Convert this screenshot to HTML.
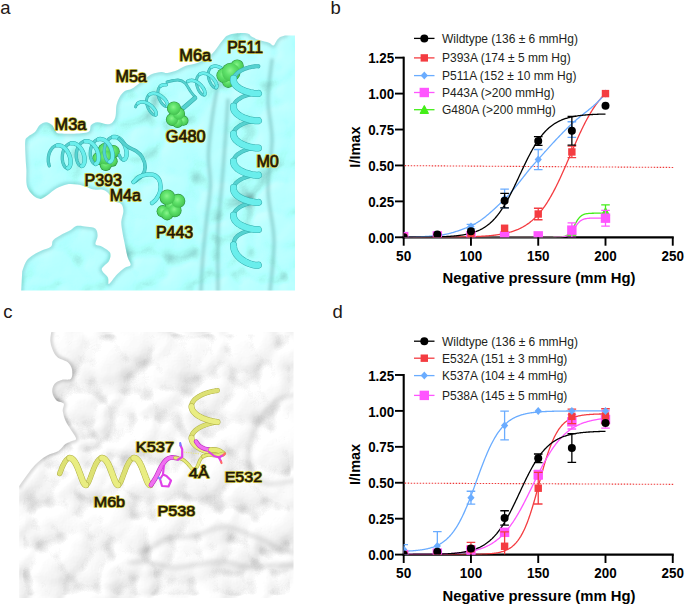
<!DOCTYPE html>
<html><head><meta charset="utf-8"><style>
html,body{margin:0;padding:0;background:#fff;width:685px;height:605px;overflow:hidden}
svg{display:block}
</style></head><body>
<svg width="685" height="605" viewBox="0 0 685 605" font-family='"Liberation Sans", sans-serif'>
<rect width="685" height="605" fill="#fff"/>
<defs>
<radialGradient id="gs" cx="0.45" cy="0.4" r="0.65"><stop offset="0" stop-color="#8af58c"/><stop offset="0.4" stop-color="#5fe26a"/><stop offset="0.85" stop-color="#48c854"/><stop offset="1" stop-color="#35a842"/></radialGradient>
<radialGradient id="ga" cx="0.42" cy="0.38" r="0.62"><stop offset="0" stop-color="#c2fffb"/><stop offset="0.55" stop-color="#b0fdf7"/><stop offset="0.82" stop-color="#a8f6f0"/><stop offset="0.94" stop-color="#9ee4e0"/><stop offset="1" stop-color="#8ccfcc"/></radialGradient>
<filter id="blA" x="-20%" y="-20%" width="140%" height="140%"><feGaussianBlur stdDeviation="1.8"/></filter>
<filter id="blA2" x="-20%" y="-20%" width="140%" height="140%"><feGaussianBlur stdDeviation="3"/></filter>
<clipPath id="clipA"><path id="silA" d="M295,35.5 L295,290.5 L21.2,290.5 L22.2,271.2C22.9,269.5 24.5,263.6 26.4,260.9C28.3,258.1 31.0,256.4 33.6,254.7C36.2,253.0 38.9,251.9 41.8,250.5C44.7,249.1 49.2,248.1 51.1,246.4C53.0,244.7 51.3,242.3 53.2,240.2C55.1,238.1 59.6,235.7 62.5,234.0C65.4,232.3 68.4,231.3 70.8,229.9C73.2,228.5 74.2,226.3 77.0,225.8C79.8,225.3 84.2,226.3 87.3,226.8C90.4,227.3 93.8,227.2 95.5,228.8C97.2,230.4 97.6,233.5 97.6,236.1C97.6,238.7 94.8,242.6 95.5,244.3C96.2,246.0 99.3,245.0 101.7,246.4C104.1,247.8 108.8,250.2 110.0,252.6C111.2,255.0 110.4,258.1 109.0,260.9C107.6,263.6 101.9,266.4 101.7,269.1C101.5,271.9 106.7,274.9 107.9,277.4C109.1,279.9 107.6,284.4 109.0,284.0C110.4,283.6 113.6,278.0 116.2,275.3C118.8,272.6 122.0,269.7 124.4,268.0C126.8,266.3 130.1,266.9 130.6,265.0C131.1,263.1 128.5,260.5 127.5,256.7C126.5,252.9 125.2,246.4 124.4,242.3C123.6,238.2 122.9,235.4 122.4,232.0C121.9,228.6 121.1,225.0 121.3,221.6C121.5,218.2 123.4,214.2 123.4,211.3C123.4,208.4 122.8,205.7 121.3,204.0C119.8,202.3 116.3,202.9 114.1,201.0C111.9,199.1 110.0,194.6 107.9,192.7C105.8,190.8 104.1,190.1 101.7,189.6C99.3,189.1 96.2,190.1 93.5,189.6C90.8,189.1 88.0,187.3 85.2,186.5C82.5,185.7 80.1,184.8 77.0,184.5C73.9,184.2 70.0,183.8 66.6,184.5C63.1,185.2 59.4,186.9 56.3,188.6C53.2,190.3 50.6,193.1 48.0,194.8C45.4,196.5 43.2,198.7 40.8,198.9C38.4,199.1 35.7,197.4 33.6,195.8C31.5,194.2 29.6,191.8 28.4,189.6C27.2,187.4 26.7,185.7 26.4,182.4C26.1,179.1 26.5,173.7 26.4,170.0C26.3,166.3 25.9,164.8 25.7,160.0C25.5,155.2 24.8,145.4 25.2,141.5C25.6,137.6 26.4,138.4 28.0,136.8C29.6,135.2 33.0,134.1 35.0,132.1C37.0,130.1 37.9,126.7 39.7,125.1C41.6,123.5 44.0,122.3 46.1,122.3C48.2,122.3 50.8,123.9 52.3,125.3C53.8,126.7 53.9,129.0 55.3,130.4C56.6,131.8 55.1,133.2 60.4,133.5C65.7,133.8 81.9,133.9 87.0,132.5C92.1,131.1 89.3,127.0 91.0,125.3C92.7,123.6 94.5,122.5 97.2,122.3C99.9,122.1 104.8,124.3 107.4,124.3C110.0,124.3 111.2,123.7 112.6,122.3C114.0,120.9 115.0,118.9 115.6,116.1C116.2,113.3 115.8,108.7 116.4,105.6C117.0,102.5 118.1,99.8 119.4,97.4C120.8,95.0 122.6,92.7 124.5,91.3C126.4,89.9 128.6,90.3 130.7,89.3C132.8,88.3 134.2,87.1 136.8,85.2C139.4,83.3 143.4,79.9 146.0,78.0C148.6,76.1 149.5,74.9 152.1,73.9C154.7,72.9 158.8,72.1 161.3,71.9C163.9,71.7 164.7,73.2 167.4,72.9C170.1,72.6 174.6,71.1 177.7,69.9C180.8,68.7 182.4,67.0 185.8,65.8C189.2,64.6 193.8,64.6 198.1,62.7C202.4,60.8 207.3,58.2 211.4,54.5C215.5,50.8 219.7,43.5 222.6,40.2C225.5,36.9 225.6,36.1 228.8,34.9C232.0,33.7 238.6,33.2 241.9,33.1C245.2,33.0 247.3,33.4 248.9,34.0C250.5,34.6 249.8,35.6 251.5,36.6C253.2,37.6 256.5,39.1 259.4,40.1C262.3,41.1 266.6,41.9 269.0,42.8C271.4,43.7 272.2,46.0 273.5,45.5C274.8,45.0 275.9,41.4 277.0,40.0C278.1,38.6 279.5,37.5 280.0,37.0 L285,35.5 Z"/></clipPath>
</defs>
<defs>
<radialGradient id="sahb"><stop offset="0" stop-color="#fff" stop-opacity="0.45"/><stop offset="0.5" stop-color="#fff" stop-opacity="0.392"/><stop offset="0.8" stop-color="#fff" stop-opacity="0.270"/><stop offset="1" stop-color="#fff" stop-opacity="0"/></radialGradient>
<radialGradient id="sahs"><stop offset="0" stop-color="#fff" stop-opacity="0.08"/><stop offset="0.5" stop-color="#fff" stop-opacity="0.070"/><stop offset="0.8" stop-color="#fff" stop-opacity="0.048"/><stop offset="1" stop-color="#fff" stop-opacity="0"/></radialGradient>
<clipPath id="saclip"><path d="M295,35.5 L295,290.5 L21.2,290.5 L22.2,271.2C22.9,269.5 24.5,263.6 26.4,260.9C28.3,258.1 31.0,256.4 33.6,254.7C36.2,253.0 38.9,251.9 41.8,250.5C44.7,249.1 49.2,248.1 51.1,246.4C53.0,244.7 51.3,242.3 53.2,240.2C55.1,238.1 59.6,235.7 62.5,234.0C65.4,232.3 68.4,231.3 70.8,229.9C73.2,228.5 74.2,226.3 77.0,225.8C79.8,225.3 84.2,226.3 87.3,226.8C90.4,227.3 93.8,227.2 95.5,228.8C97.2,230.4 97.6,233.5 97.6,236.1C97.6,238.7 94.8,242.6 95.5,244.3C96.2,246.0 99.3,245.0 101.7,246.4C104.1,247.8 108.8,250.2 110.0,252.6C111.2,255.0 110.4,258.1 109.0,260.9C107.6,263.6 101.9,266.4 101.7,269.1C101.5,271.9 106.7,274.9 107.9,277.4C109.1,279.9 107.6,284.4 109.0,284.0C110.4,283.6 113.6,278.0 116.2,275.3C118.8,272.6 122.0,269.7 124.4,268.0C126.8,266.3 130.1,266.9 130.6,265.0C131.1,263.1 128.5,260.5 127.5,256.7C126.5,252.9 125.2,246.4 124.4,242.3C123.6,238.2 122.9,235.4 122.4,232.0C121.9,228.6 121.1,225.0 121.3,221.6C121.5,218.2 123.4,214.2 123.4,211.3C123.4,208.4 122.8,205.7 121.3,204.0C119.8,202.3 116.3,202.9 114.1,201.0C111.9,199.1 110.0,194.6 107.9,192.7C105.8,190.8 104.1,190.1 101.7,189.6C99.3,189.1 96.2,190.1 93.5,189.6C90.8,189.1 88.0,187.3 85.2,186.5C82.5,185.7 80.1,184.8 77.0,184.5C73.9,184.2 70.0,183.8 66.6,184.5C63.1,185.2 59.4,186.9 56.3,188.6C53.2,190.3 50.6,193.1 48.0,194.8C45.4,196.5 43.2,198.7 40.8,198.9C38.4,199.1 35.7,197.4 33.6,195.8C31.5,194.2 29.6,191.8 28.4,189.6C27.2,187.4 26.7,185.7 26.4,182.4C26.1,179.1 26.5,173.7 26.4,170.0C26.3,166.3 25.9,164.8 25.7,160.0C25.5,155.2 24.8,145.4 25.2,141.5C25.6,137.6 26.4,138.4 28.0,136.8C29.6,135.2 33.0,134.1 35.0,132.1C37.0,130.1 37.9,126.7 39.7,125.1C41.6,123.5 44.0,122.3 46.1,122.3C48.2,122.3 50.8,123.9 52.3,125.3C53.8,126.7 53.9,129.0 55.3,130.4C56.6,131.8 55.1,133.2 60.4,133.5C65.7,133.8 81.9,133.9 87.0,132.5C92.1,131.1 89.3,127.0 91.0,125.3C92.7,123.6 94.5,122.5 97.2,122.3C99.9,122.1 104.8,124.3 107.4,124.3C110.0,124.3 111.2,123.7 112.6,122.3C114.0,120.9 115.0,118.9 115.6,116.1C116.2,113.3 115.8,108.7 116.4,105.6C117.0,102.5 118.1,99.8 119.4,97.4C120.8,95.0 122.6,92.7 124.5,91.3C126.4,89.9 128.6,90.3 130.7,89.3C132.8,88.3 134.2,87.1 136.8,85.2C139.4,83.3 143.4,79.9 146.0,78.0C148.6,76.1 149.5,74.9 152.1,73.9C154.7,72.9 158.8,72.1 161.3,71.9C163.9,71.7 164.7,73.2 167.4,72.9C170.1,72.6 174.6,71.1 177.7,69.9C180.8,68.7 182.4,67.0 185.8,65.8C189.2,64.6 193.8,64.6 198.1,62.7C202.4,60.8 207.3,58.2 211.4,54.5C215.5,50.8 219.7,43.5 222.6,40.2C225.5,36.9 225.6,36.1 228.8,34.9C232.0,33.7 238.6,33.2 241.9,33.1C245.2,33.0 247.3,33.4 248.9,34.0C250.5,34.6 249.8,35.6 251.5,36.6C253.2,37.6 256.5,39.1 259.4,40.1C262.3,41.1 266.6,41.9 269.0,42.8C271.4,43.7 272.2,46.0 273.5,45.5C274.8,45.0 275.9,41.4 277.0,40.0C278.1,38.6 279.5,37.5 280.0,37.0 L285,35.5 Z"/></clipPath>
<filter id="salit" filterUnits="userSpaceOnUse" x="18" y="30" width="280" height="264" color-interpolation-filters="sRGB"><feGaussianBlur in="SourceAlpha" stdDeviation="2.6" result="ha"/><feDiffuseLighting in="ha" surfaceScale="5" diffuseConstant="1.12" lighting-color="#fff" result="lit"><feDistantLight azimuth="225" elevation="65"/></feDiffuseLighting><feColorMatrix in="ha" type="matrix" values="0 0 0 1 0  0 0 0 1 0  0 0 0 1 0  0 0 0 0 1" result="h"/><feGaussianBlur in="h" stdDeviation="5" result="hb"/><feComposite in="hb" in2="h" operator="arithmetic" k1="0" k2="3.0" k3="-3.0" k4="0" result="ao"/><feComposite in="lit" in2="ao" operator="arithmetic" k1="0" k2="1" k3="-1" k4="0" result="base"/><feColorMatrix in="base" type="matrix" values="0.655 0 0 0 0  0 1 0 0 0  0 0 0.975 0 0  0 0 0 1 0" result="tinted"/><feSpecularLighting in="ha" surfaceScale="5" specularConstant="0.14" specularExponent="16" lighting-color="#fff" result="sp"><feDistantLight azimuth="225" elevation="55"/></feSpecularLighting><feComposite in="tinted" in2="sp" operator="arithmetic" k1="0" k2="1" k3="1" k4="0"/></filter>
</defs>
<g clip-path="url(#saclip)"><g filter="url(#salit)">
<path d="M315,15 L315,310 L0,310 L0,290.5 L21.2,290.5 L22.2,271.2C22.9,269.5 24.5,263.6 26.4,260.9C28.3,258.1 31.0,256.4 33.6,254.7C36.2,253.0 38.9,251.9 41.8,250.5C44.7,249.1 49.2,248.1 51.1,246.4C53.0,244.7 51.3,242.3 53.2,240.2C55.1,238.1 59.6,235.7 62.5,234.0C65.4,232.3 68.4,231.3 70.8,229.9C73.2,228.5 74.2,226.3 77.0,225.8C79.8,225.3 84.2,226.3 87.3,226.8C90.4,227.3 93.8,227.2 95.5,228.8C97.2,230.4 97.6,233.5 97.6,236.1C97.6,238.7 94.8,242.6 95.5,244.3C96.2,246.0 99.3,245.0 101.7,246.4C104.1,247.8 108.8,250.2 110.0,252.6C111.2,255.0 110.4,258.1 109.0,260.9C107.6,263.6 101.9,266.4 101.7,269.1C101.5,271.9 106.7,274.9 107.9,277.4C109.1,279.9 107.6,284.4 109.0,284.0C110.4,283.6 113.6,278.0 116.2,275.3C118.8,272.6 122.0,269.7 124.4,268.0C126.8,266.3 130.1,266.9 130.6,265.0C131.1,263.1 128.5,260.5 127.5,256.7C126.5,252.9 125.2,246.4 124.4,242.3C123.6,238.2 122.9,235.4 122.4,232.0C121.9,228.6 121.1,225.0 121.3,221.6C121.5,218.2 123.4,214.2 123.4,211.3C123.4,208.4 122.8,205.7 121.3,204.0C119.8,202.3 116.3,202.9 114.1,201.0C111.9,199.1 110.0,194.6 107.9,192.7C105.8,190.8 104.1,190.1 101.7,189.6C99.3,189.1 96.2,190.1 93.5,189.6C90.8,189.1 88.0,187.3 85.2,186.5C82.5,185.7 80.1,184.8 77.0,184.5C73.9,184.2 70.0,183.8 66.6,184.5C63.1,185.2 59.4,186.9 56.3,188.6C53.2,190.3 50.6,193.1 48.0,194.8C45.4,196.5 43.2,198.7 40.8,198.9C38.4,199.1 35.7,197.4 33.6,195.8C31.5,194.2 29.6,191.8 28.4,189.6C27.2,187.4 26.7,185.7 26.4,182.4C26.1,179.1 26.5,173.7 26.4,170.0C26.3,166.3 25.9,164.8 25.7,160.0C25.5,155.2 24.8,145.4 25.2,141.5C25.6,137.6 26.4,138.4 28.0,136.8C29.6,135.2 33.0,134.1 35.0,132.1C37.0,130.1 37.9,126.7 39.7,125.1C41.6,123.5 44.0,122.3 46.1,122.3C48.2,122.3 50.8,123.9 52.3,125.3C53.8,126.7 53.9,129.0 55.3,130.4C56.6,131.8 55.1,133.2 60.4,133.5C65.7,133.8 81.9,133.9 87.0,132.5C92.1,131.1 89.3,127.0 91.0,125.3C92.7,123.6 94.5,122.5 97.2,122.3C99.9,122.1 104.8,124.3 107.4,124.3C110.0,124.3 111.2,123.7 112.6,122.3C114.0,120.9 115.0,118.9 115.6,116.1C116.2,113.3 115.8,108.7 116.4,105.6C117.0,102.5 118.1,99.8 119.4,97.4C120.8,95.0 122.6,92.7 124.5,91.3C126.4,89.9 128.6,90.3 130.7,89.3C132.8,88.3 134.2,87.1 136.8,85.2C139.4,83.3 143.4,79.9 146.0,78.0C148.6,76.1 149.5,74.9 152.1,73.9C154.7,72.9 158.8,72.1 161.3,71.9C163.9,71.7 164.7,73.2 167.4,72.9C170.1,72.6 174.6,71.1 177.7,69.9C180.8,68.7 182.4,67.0 185.8,65.8C189.2,64.6 193.8,64.6 198.1,62.7C202.4,60.8 207.3,58.2 211.4,54.5C215.5,50.8 219.7,43.5 222.6,40.2C225.5,36.9 225.6,36.1 228.8,34.9C232.0,33.7 238.6,33.2 241.9,33.1C245.2,33.0 247.3,33.4 248.9,34.0C250.5,34.6 249.8,35.6 251.5,36.6C253.2,37.6 256.5,39.1 259.4,40.1C262.3,41.1 266.6,41.9 269.0,42.8C271.4,43.7 272.2,46.0 273.5,45.5C274.8,45.0 275.9,41.4 277.0,40.0C278.1,38.6 279.5,37.5 280.0,37.0 L285,35.5 L300,15 Z" fill="#fff" fill-opacity="0.12"/>
<circle cx="-7.1" cy="1.7" r="43.2" fill="url(#sahb)"/>
<circle cx="39.3" cy="2.1" r="45.4" fill="url(#sahb)"/>
<circle cx="79.8" cy="0.5" r="33.2" fill="url(#sahb)"/>
<circle cx="141.0" cy="-1.2" r="29.5" fill="url(#sahb)"/>
<circle cx="188.1" cy="4.9" r="28.9" fill="url(#sahb)"/>
<circle cx="234.0" cy="-0.1" r="41.5" fill="url(#sahb)"/>
<circle cx="295.0" cy="0.4" r="30.5" fill="url(#sahb)"/>
<circle cx="-9.6" cy="49.7" r="48.4" fill="url(#sahb)"/>
<circle cx="34.1" cy="43.5" r="38.7" fill="url(#sahb)"/>
<circle cx="98.5" cy="45.6" r="33.2" fill="url(#sahb)"/>
<circle cx="157.6" cy="52.2" r="47.7" fill="url(#sahb)"/>
<circle cx="201.6" cy="48.8" r="44.1" fill="url(#sahb)"/>
<circle cx="267.8" cy="53.7" r="32.4" fill="url(#sahb)"/>
<circle cx="310.3" cy="47.7" r="36.0" fill="url(#sahb)"/>
<circle cx="-7.2" cy="95.2" r="30.1" fill="url(#sahb)"/>
<circle cx="40.7" cy="92.2" r="38.8" fill="url(#sahb)"/>
<circle cx="85.3" cy="90.7" r="41.4" fill="url(#sahb)"/>
<circle cx="126.4" cy="94.4" r="31.7" fill="url(#sahb)"/>
<circle cx="172.8" cy="84.5" r="41.1" fill="url(#sahb)"/>
<circle cx="219.8" cy="87.8" r="45.9" fill="url(#sahb)"/>
<circle cx="274.9" cy="94.8" r="42.9" fill="url(#sahb)"/>
<circle cx="323.8" cy="90.4" r="49.8" fill="url(#sahb)"/>
<circle cx="-2.5" cy="127.1" r="33.4" fill="url(#sahb)"/>
<circle cx="37.7" cy="130.9" r="45.7" fill="url(#sahb)"/>
<circle cx="88.2" cy="128.6" r="29.1" fill="url(#sahb)"/>
<circle cx="134.4" cy="129.2" r="31.8" fill="url(#sahb)"/>
<circle cx="200.5" cy="130.9" r="49.6" fill="url(#sahb)"/>
<circle cx="242.9" cy="133.9" r="49.1" fill="url(#sahb)"/>
<circle cx="287.2" cy="134.7" r="32.7" fill="url(#sahb)"/>
<circle cx="-2.4" cy="172.4" r="40.8" fill="url(#sahb)"/>
<circle cx="47.3" cy="168.9" r="34.1" fill="url(#sahb)"/>
<circle cx="92.1" cy="175.9" r="49.0" fill="url(#sahb)"/>
<circle cx="151.7" cy="171.8" r="46.7" fill="url(#sahb)"/>
<circle cx="203.7" cy="170.3" r="49.1" fill="url(#sahb)"/>
<circle cx="235.0" cy="174.1" r="30.1" fill="url(#sahb)"/>
<circle cx="285.4" cy="170.3" r="47.1" fill="url(#sahb)"/>
<circle cx="-10.1" cy="210.1" r="32.8" fill="url(#sahb)"/>
<circle cx="42.1" cy="208.5" r="43.6" fill="url(#sahb)"/>
<circle cx="99.0" cy="217.4" r="47.2" fill="url(#sahb)"/>
<circle cx="130.6" cy="217.1" r="38.2" fill="url(#sahb)"/>
<circle cx="176.4" cy="216.3" r="43.7" fill="url(#sahb)"/>
<circle cx="224.3" cy="211.6" r="28.9" fill="url(#sahb)"/>
<circle cx="283.7" cy="214.5" r="34.5" fill="url(#sahb)"/>
<circle cx="-2.4" cy="255.1" r="39.2" fill="url(#sahb)"/>
<circle cx="41.3" cy="250.2" r="43.4" fill="url(#sahb)"/>
<circle cx="88.0" cy="247.8" r="45.9" fill="url(#sahb)"/>
<circle cx="123.9" cy="244.4" r="49.9" fill="url(#sahb)"/>
<circle cx="173.2" cy="248.9" r="45.9" fill="url(#sahb)"/>
<circle cx="224.3" cy="248.8" r="28.4" fill="url(#sahb)"/>
<circle cx="271.7" cy="246.2" r="36.6" fill="url(#sahb)"/>
<circle cx="310.8" cy="252.0" r="37.5" fill="url(#sahb)"/>
<circle cx="-7.7" cy="294.9" r="33.2" fill="url(#sahb)"/>
<circle cx="41.3" cy="294.8" r="49.2" fill="url(#sahb)"/>
<circle cx="100.8" cy="298.4" r="43.8" fill="url(#sahb)"/>
<circle cx="150.7" cy="299.4" r="44.7" fill="url(#sahb)"/>
<circle cx="199.6" cy="300.1" r="43.0" fill="url(#sahb)"/>
<circle cx="254.3" cy="300.7" r="41.5" fill="url(#sahb)"/>
<circle cx="307.9" cy="292.8" r="28.1" fill="url(#sahb)"/>
<circle cx="2.1" cy="-3.0" r="17.6" fill="url(#sahs)"/>
<circle cx="19.7" cy="-2.4" r="13.4" fill="url(#sahs)"/>
<circle cx="33.9" cy="1.5" r="13.6" fill="url(#sahs)"/>
<circle cx="56.0" cy="1.1" r="10.7" fill="url(#sahs)"/>
<circle cx="72.9" cy="-3.3" r="15.9" fill="url(#sahs)"/>
<circle cx="100.3" cy="3.5" r="14.7" fill="url(#sahs)"/>
<circle cx="127.3" cy="0.4" r="12.9" fill="url(#sahs)"/>
<circle cx="143.6" cy="-3.0" r="15.3" fill="url(#sahs)"/>
<circle cx="167.7" cy="1.4" r="15.7" fill="url(#sahs)"/>
<circle cx="185.2" cy="-0.1" r="11.5" fill="url(#sahs)"/>
<circle cx="208.6" cy="-2.8" r="11.6" fill="url(#sahs)"/>
<circle cx="230.5" cy="5.8" r="12.2" fill="url(#sahs)"/>
<circle cx="246.4" cy="-0.3" r="13.0" fill="url(#sahs)"/>
<circle cx="269.8" cy="-2.7" r="14.4" fill="url(#sahs)"/>
<circle cx="300.4" cy="-1.1" r="15.7" fill="url(#sahs)"/>
<circle cx="319.1" cy="7.3" r="17.3" fill="url(#sahs)"/>
<circle cx="-15.3" cy="27.5" r="13.3" fill="url(#sahs)"/>
<circle cx="17.0" cy="29.2" r="17.8" fill="url(#sahs)"/>
<circle cx="37.7" cy="22.0" r="17.9" fill="url(#sahs)"/>
<circle cx="56.8" cy="18.7" r="13.0" fill="url(#sahs)"/>
<circle cx="86.3" cy="29.2" r="11.6" fill="url(#sahs)"/>
<circle cx="99.6" cy="19.8" r="10.8" fill="url(#sahs)"/>
<circle cx="117.7" cy="22.9" r="16.5" fill="url(#sahs)"/>
<circle cx="143.8" cy="28.5" r="13.6" fill="url(#sahs)"/>
<circle cx="172.1" cy="22.8" r="17.2" fill="url(#sahs)"/>
<circle cx="194.5" cy="20.7" r="16.6" fill="url(#sahs)"/>
<circle cx="215.0" cy="24.5" r="13.3" fill="url(#sahs)"/>
<circle cx="228.5" cy="25.4" r="16.6" fill="url(#sahs)"/>
<circle cx="256.6" cy="20.8" r="14.5" fill="url(#sahs)"/>
<circle cx="278.8" cy="24.3" r="10.6" fill="url(#sahs)"/>
<circle cx="296.1" cy="23.2" r="14.5" fill="url(#sahs)"/>
<circle cx="318.1" cy="27.2" r="10.0" fill="url(#sahs)"/>
<circle cx="-12.3" cy="44.1" r="15.4" fill="url(#sahs)"/>
<circle cx="14.2" cy="44.5" r="10.7" fill="url(#sahs)"/>
<circle cx="35.4" cy="45.1" r="14.3" fill="url(#sahs)"/>
<circle cx="48.8" cy="49.3" r="17.2" fill="url(#sahs)"/>
<circle cx="81.7" cy="46.8" r="14.0" fill="url(#sahs)"/>
<circle cx="98.2" cy="42.9" r="12.3" fill="url(#sahs)"/>
<circle cx="117.5" cy="43.4" r="17.7" fill="url(#sahs)"/>
<circle cx="139.4" cy="45.4" r="16.5" fill="url(#sahs)"/>
<circle cx="153.2" cy="41.3" r="12.2" fill="url(#sahs)"/>
<circle cx="176.8" cy="40.1" r="16.8" fill="url(#sahs)"/>
<circle cx="198.2" cy="44.0" r="11.0" fill="url(#sahs)"/>
<circle cx="226.2" cy="41.7" r="12.1" fill="url(#sahs)"/>
<circle cx="242.4" cy="48.4" r="15.1" fill="url(#sahs)"/>
<circle cx="262.4" cy="48.8" r="12.9" fill="url(#sahs)"/>
<circle cx="282.3" cy="46.9" r="15.9" fill="url(#sahs)"/>
<circle cx="307.4" cy="46.6" r="10.6" fill="url(#sahs)"/>
<circle cx="325.1" cy="40.9" r="17.8" fill="url(#sahs)"/>
<circle cx="-9.3" cy="66.1" r="15.9" fill="url(#sahs)"/>
<circle cx="16.7" cy="64.9" r="16.2" fill="url(#sahs)"/>
<circle cx="30.3" cy="58.7" r="12.6" fill="url(#sahs)"/>
<circle cx="58.4" cy="61.4" r="11.6" fill="url(#sahs)"/>
<circle cx="85.8" cy="62.9" r="14.3" fill="url(#sahs)"/>
<circle cx="104.0" cy="68.7" r="15.2" fill="url(#sahs)"/>
<circle cx="126.0" cy="69.4" r="17.1" fill="url(#sahs)"/>
<circle cx="140.8" cy="67.6" r="13.0" fill="url(#sahs)"/>
<circle cx="156.6" cy="66.7" r="13.2" fill="url(#sahs)"/>
<circle cx="174.1" cy="58.3" r="11.7" fill="url(#sahs)"/>
<circle cx="198.3" cy="64.7" r="13.4" fill="url(#sahs)"/>
<circle cx="212.4" cy="65.7" r="12.0" fill="url(#sahs)"/>
<circle cx="238.9" cy="64.5" r="11.4" fill="url(#sahs)"/>
<circle cx="262.2" cy="62.8" r="14.3" fill="url(#sahs)"/>
<circle cx="288.6" cy="65.6" r="17.4" fill="url(#sahs)"/>
<circle cx="307.2" cy="62.3" r="10.5" fill="url(#sahs)"/>
<circle cx="317.3" cy="62.3" r="10.5" fill="url(#sahs)"/>
<circle cx="-7.1" cy="79.6" r="15.3" fill="url(#sahs)"/>
<circle cx="18.8" cy="83.7" r="10.5" fill="url(#sahs)"/>
<circle cx="33.9" cy="83.2" r="11.0" fill="url(#sahs)"/>
<circle cx="54.3" cy="85.0" r="15.1" fill="url(#sahs)"/>
<circle cx="80.5" cy="79.9" r="14.9" fill="url(#sahs)"/>
<circle cx="96.8" cy="81.0" r="17.8" fill="url(#sahs)"/>
<circle cx="124.0" cy="81.1" r="14.4" fill="url(#sahs)"/>
<circle cx="149.6" cy="84.4" r="10.2" fill="url(#sahs)"/>
<circle cx="173.4" cy="88.9" r="11.2" fill="url(#sahs)"/>
<circle cx="198.8" cy="89.2" r="10.9" fill="url(#sahs)"/>
<circle cx="205.9" cy="78.5" r="16.6" fill="url(#sahs)"/>
<circle cx="240.3" cy="85.1" r="15.8" fill="url(#sahs)"/>
<circle cx="256.8" cy="89.5" r="12.2" fill="url(#sahs)"/>
<circle cx="274.8" cy="86.4" r="17.0" fill="url(#sahs)"/>
<circle cx="305.6" cy="79.7" r="10.6" fill="url(#sahs)"/>
<circle cx="321.9" cy="79.3" r="10.5" fill="url(#sahs)"/>
<circle cx="-2.7" cy="98.4" r="16.1" fill="url(#sahs)"/>
<circle cx="16.1" cy="101.1" r="15.1" fill="url(#sahs)"/>
<circle cx="40.1" cy="102.4" r="14.7" fill="url(#sahs)"/>
<circle cx="55.1" cy="95.5" r="16.8" fill="url(#sahs)"/>
<circle cx="86.8" cy="94.0" r="14.9" fill="url(#sahs)"/>
<circle cx="102.6" cy="93.2" r="16.4" fill="url(#sahs)"/>
<circle cx="130.1" cy="96.7" r="17.8" fill="url(#sahs)"/>
<circle cx="150.1" cy="98.0" r="16.5" fill="url(#sahs)"/>
<circle cx="175.3" cy="101.6" r="17.5" fill="url(#sahs)"/>
<circle cx="194.3" cy="100.2" r="14.8" fill="url(#sahs)"/>
<circle cx="211.4" cy="97.7" r="17.3" fill="url(#sahs)"/>
<circle cx="235.5" cy="103.4" r="11.6" fill="url(#sahs)"/>
<circle cx="256.1" cy="96.0" r="10.8" fill="url(#sahs)"/>
<circle cx="279.9" cy="98.2" r="13.7" fill="url(#sahs)"/>
<circle cx="303.6" cy="103.4" r="10.3" fill="url(#sahs)"/>
<circle cx="-7.1" cy="120.6" r="14.5" fill="url(#sahs)"/>
<circle cx="16.8" cy="114.6" r="10.4" fill="url(#sahs)"/>
<circle cx="38.4" cy="115.5" r="13.7" fill="url(#sahs)"/>
<circle cx="51.8" cy="121.0" r="13.4" fill="url(#sahs)"/>
<circle cx="70.6" cy="120.2" r="15.3" fill="url(#sahs)"/>
<circle cx="95.1" cy="111.7" r="17.0" fill="url(#sahs)"/>
<circle cx="116.7" cy="112.7" r="16.2" fill="url(#sahs)"/>
<circle cx="139.2" cy="123.0" r="16.2" fill="url(#sahs)"/>
<circle cx="168.3" cy="113.2" r="15.1" fill="url(#sahs)"/>
<circle cx="182.4" cy="122.9" r="14.2" fill="url(#sahs)"/>
<circle cx="206.0" cy="122.8" r="15.0" fill="url(#sahs)"/>
<circle cx="225.7" cy="116.3" r="15.9" fill="url(#sahs)"/>
<circle cx="238.0" cy="115.5" r="11.2" fill="url(#sahs)"/>
<circle cx="262.7" cy="115.7" r="10.6" fill="url(#sahs)"/>
<circle cx="290.1" cy="121.6" r="16.2" fill="url(#sahs)"/>
<circle cx="308.2" cy="114.2" r="10.9" fill="url(#sahs)"/>
<circle cx="-7.8" cy="136.4" r="12.0" fill="url(#sahs)"/>
<circle cx="25.1" cy="140.5" r="12.0" fill="url(#sahs)"/>
<circle cx="48.7" cy="130.6" r="17.9" fill="url(#sahs)"/>
<circle cx="69.0" cy="132.9" r="16.0" fill="url(#sahs)"/>
<circle cx="91.8" cy="129.5" r="14.7" fill="url(#sahs)"/>
<circle cx="110.9" cy="130.2" r="12.5" fill="url(#sahs)"/>
<circle cx="119.4" cy="134.1" r="10.9" fill="url(#sahs)"/>
<circle cx="143.9" cy="136.9" r="12.8" fill="url(#sahs)"/>
<circle cx="171.0" cy="134.3" r="14.6" fill="url(#sahs)"/>
<circle cx="195.5" cy="138.0" r="15.0" fill="url(#sahs)"/>
<circle cx="213.7" cy="134.9" r="16.0" fill="url(#sahs)"/>
<circle cx="242.8" cy="139.0" r="16.3" fill="url(#sahs)"/>
<circle cx="266.0" cy="129.4" r="14.3" fill="url(#sahs)"/>
<circle cx="290.0" cy="139.0" r="15.8" fill="url(#sahs)"/>
<circle cx="310.1" cy="136.7" r="11.8" fill="url(#sahs)"/>
<circle cx="327.9" cy="135.8" r="10.3" fill="url(#sahs)"/>
<circle cx="-1.6" cy="153.8" r="16.1" fill="url(#sahs)"/>
<circle cx="17.3" cy="156.0" r="11.4" fill="url(#sahs)"/>
<circle cx="36.3" cy="155.4" r="10.9" fill="url(#sahs)"/>
<circle cx="61.4" cy="161.1" r="13.3" fill="url(#sahs)"/>
<circle cx="70.3" cy="153.6" r="16.7" fill="url(#sahs)"/>
<circle cx="92.4" cy="151.8" r="12.4" fill="url(#sahs)"/>
<circle cx="118.7" cy="151.3" r="11.5" fill="url(#sahs)"/>
<circle cx="137.8" cy="150.8" r="11.7" fill="url(#sahs)"/>
<circle cx="149.2" cy="155.7" r="15.9" fill="url(#sahs)"/>
<circle cx="175.7" cy="151.7" r="13.9" fill="url(#sahs)"/>
<circle cx="202.1" cy="152.4" r="12.2" fill="url(#sahs)"/>
<circle cx="210.8" cy="153.7" r="11.5" fill="url(#sahs)"/>
<circle cx="237.4" cy="157.1" r="10.7" fill="url(#sahs)"/>
<circle cx="257.8" cy="151.3" r="14.1" fill="url(#sahs)"/>
<circle cx="264.7" cy="156.8" r="15.3" fill="url(#sahs)"/>
<circle cx="286.8" cy="155.6" r="16.8" fill="url(#sahs)"/>
<circle cx="306.3" cy="159.8" r="14.6" fill="url(#sahs)"/>
<circle cx="-0.5" cy="179.0" r="16.7" fill="url(#sahs)"/>
<circle cx="19.7" cy="179.3" r="10.7" fill="url(#sahs)"/>
<circle cx="44.9" cy="176.6" r="12.5" fill="url(#sahs)"/>
<circle cx="55.0" cy="172.0" r="16.3" fill="url(#sahs)"/>
<circle cx="87.8" cy="173.9" r="10.4" fill="url(#sahs)"/>
<circle cx="109.9" cy="171.8" r="15.5" fill="url(#sahs)"/>
<circle cx="118.7" cy="174.2" r="14.1" fill="url(#sahs)"/>
<circle cx="139.9" cy="169.8" r="10.7" fill="url(#sahs)"/>
<circle cx="152.9" cy="178.8" r="13.1" fill="url(#sahs)"/>
<circle cx="186.5" cy="171.3" r="10.3" fill="url(#sahs)"/>
<circle cx="209.1" cy="180.3" r="10.5" fill="url(#sahs)"/>
<circle cx="222.8" cy="179.5" r="11.3" fill="url(#sahs)"/>
<circle cx="253.3" cy="178.0" r="11.3" fill="url(#sahs)"/>
<circle cx="270.0" cy="177.9" r="17.8" fill="url(#sahs)"/>
<circle cx="290.8" cy="171.9" r="11.5" fill="url(#sahs)"/>
<circle cx="308.0" cy="180.2" r="12.9" fill="url(#sahs)"/>
<circle cx="-0.6" cy="196.8" r="11.5" fill="url(#sahs)"/>
<circle cx="20.4" cy="188.5" r="13.6" fill="url(#sahs)"/>
<circle cx="45.9" cy="198.4" r="15.1" fill="url(#sahs)"/>
<circle cx="64.1" cy="199.1" r="16.1" fill="url(#sahs)"/>
<circle cx="87.2" cy="187.8" r="12.6" fill="url(#sahs)"/>
<circle cx="108.9" cy="195.1" r="13.7" fill="url(#sahs)"/>
<circle cx="116.8" cy="196.6" r="11.3" fill="url(#sahs)"/>
<circle cx="142.9" cy="194.3" r="13.0" fill="url(#sahs)"/>
<circle cx="162.3" cy="191.4" r="14.2" fill="url(#sahs)"/>
<circle cx="185.0" cy="194.4" r="12.0" fill="url(#sahs)"/>
<circle cx="210.2" cy="190.9" r="11.2" fill="url(#sahs)"/>
<circle cx="235.5" cy="189.8" r="13.9" fill="url(#sahs)"/>
<circle cx="255.7" cy="193.6" r="13.5" fill="url(#sahs)"/>
<circle cx="278.2" cy="192.4" r="11.4" fill="url(#sahs)"/>
<circle cx="299.6" cy="199.4" r="14.8" fill="url(#sahs)"/>
<circle cx="314.0" cy="195.9" r="10.1" fill="url(#sahs)"/>
<circle cx="-7.8" cy="207.7" r="12.4" fill="url(#sahs)"/>
<circle cx="13.8" cy="212.2" r="18.0" fill="url(#sahs)"/>
<circle cx="39.9" cy="211.6" r="14.6" fill="url(#sahs)"/>
<circle cx="59.1" cy="215.8" r="15.6" fill="url(#sahs)"/>
<circle cx="71.3" cy="210.3" r="13.4" fill="url(#sahs)"/>
<circle cx="86.3" cy="211.7" r="16.0" fill="url(#sahs)"/>
<circle cx="108.3" cy="208.4" r="15.6" fill="url(#sahs)"/>
<circle cx="135.3" cy="217.2" r="18.0" fill="url(#sahs)"/>
<circle cx="152.6" cy="210.3" r="10.2" fill="url(#sahs)"/>
<circle cx="172.6" cy="211.8" r="15.1" fill="url(#sahs)"/>
<circle cx="192.4" cy="208.9" r="11.9" fill="url(#sahs)"/>
<circle cx="213.3" cy="216.3" r="16.8" fill="url(#sahs)"/>
<circle cx="236.4" cy="219.1" r="15.3" fill="url(#sahs)"/>
<circle cx="259.5" cy="215.7" r="13.3" fill="url(#sahs)"/>
<circle cx="277.5" cy="216.2" r="16.6" fill="url(#sahs)"/>
<circle cx="294.9" cy="217.6" r="15.4" fill="url(#sahs)"/>
<circle cx="316.8" cy="210.0" r="17.4" fill="url(#sahs)"/>
<circle cx="0.9" cy="227.2" r="12.6" fill="url(#sahs)"/>
<circle cx="17.3" cy="230.1" r="16.7" fill="url(#sahs)"/>
<circle cx="36.4" cy="231.6" r="13.0" fill="url(#sahs)"/>
<circle cx="60.0" cy="229.2" r="11.3" fill="url(#sahs)"/>
<circle cx="83.9" cy="230.9" r="13.6" fill="url(#sahs)"/>
<circle cx="100.9" cy="228.2" r="14.0" fill="url(#sahs)"/>
<circle cx="119.7" cy="225.7" r="13.5" fill="url(#sahs)"/>
<circle cx="139.7" cy="227.6" r="10.4" fill="url(#sahs)"/>
<circle cx="158.8" cy="228.4" r="11.6" fill="url(#sahs)"/>
<circle cx="180.8" cy="232.2" r="12.1" fill="url(#sahs)"/>
<circle cx="196.9" cy="233.8" r="10.1" fill="url(#sahs)"/>
<circle cx="225.5" cy="231.2" r="12.9" fill="url(#sahs)"/>
<circle cx="238.6" cy="225.4" r="16.7" fill="url(#sahs)"/>
<circle cx="272.8" cy="223.9" r="13.1" fill="url(#sahs)"/>
<circle cx="292.3" cy="233.0" r="15.0" fill="url(#sahs)"/>
<circle cx="310.9" cy="232.5" r="13.7" fill="url(#sahs)"/>
<circle cx="-11.7" cy="240.0" r="10.1" fill="url(#sahs)"/>
<circle cx="5.6" cy="245.0" r="12.8" fill="url(#sahs)"/>
<circle cx="30.8" cy="243.4" r="11.9" fill="url(#sahs)"/>
<circle cx="52.5" cy="242.3" r="17.4" fill="url(#sahs)"/>
<circle cx="66.4" cy="245.9" r="14.7" fill="url(#sahs)"/>
<circle cx="87.5" cy="240.0" r="12.2" fill="url(#sahs)"/>
<circle cx="109.6" cy="243.4" r="17.9" fill="url(#sahs)"/>
<circle cx="136.5" cy="243.3" r="12.6" fill="url(#sahs)"/>
<circle cx="161.7" cy="241.1" r="13.6" fill="url(#sahs)"/>
<circle cx="180.6" cy="249.8" r="12.8" fill="url(#sahs)"/>
<circle cx="190.6" cy="240.2" r="13.3" fill="url(#sahs)"/>
<circle cx="209.5" cy="244.6" r="10.6" fill="url(#sahs)"/>
<circle cx="240.0" cy="243.4" r="15.2" fill="url(#sahs)"/>
<circle cx="252.9" cy="239.7" r="13.3" fill="url(#sahs)"/>
<circle cx="269.5" cy="245.5" r="17.4" fill="url(#sahs)"/>
<circle cx="287.7" cy="245.6" r="16.1" fill="url(#sahs)"/>
<circle cx="312.2" cy="250.1" r="13.7" fill="url(#sahs)"/>
<circle cx="0.9" cy="265.3" r="17.1" fill="url(#sahs)"/>
<circle cx="19.8" cy="265.4" r="13.8" fill="url(#sahs)"/>
<circle cx="44.1" cy="261.7" r="12.5" fill="url(#sahs)"/>
<circle cx="58.2" cy="265.4" r="17.1" fill="url(#sahs)"/>
<circle cx="81.7" cy="267.4" r="15.8" fill="url(#sahs)"/>
<circle cx="103.9" cy="264.2" r="14.8" fill="url(#sahs)"/>
<circle cx="132.7" cy="269.2" r="14.8" fill="url(#sahs)"/>
<circle cx="159.0" cy="266.7" r="11.4" fill="url(#sahs)"/>
<circle cx="179.0" cy="271.0" r="12.5" fill="url(#sahs)"/>
<circle cx="199.8" cy="265.6" r="14.0" fill="url(#sahs)"/>
<circle cx="219.8" cy="272.6" r="14.3" fill="url(#sahs)"/>
<circle cx="246.3" cy="262.0" r="10.3" fill="url(#sahs)"/>
<circle cx="257.8" cy="266.3" r="13.6" fill="url(#sahs)"/>
<circle cx="283.5" cy="269.1" r="14.2" fill="url(#sahs)"/>
<circle cx="293.6" cy="264.9" r="11.9" fill="url(#sahs)"/>
<circle cx="312.9" cy="270.6" r="16.8" fill="url(#sahs)"/>
<circle cx="-2.3" cy="281.5" r="17.9" fill="url(#sahs)"/>
<circle cx="17.8" cy="292.4" r="13.5" fill="url(#sahs)"/>
<circle cx="36.0" cy="288.6" r="10.5" fill="url(#sahs)"/>
<circle cx="58.6" cy="287.3" r="14.7" fill="url(#sahs)"/>
<circle cx="75.5" cy="285.1" r="17.3" fill="url(#sahs)"/>
<circle cx="91.2" cy="288.5" r="12.3" fill="url(#sahs)"/>
<circle cx="115.5" cy="291.0" r="11.9" fill="url(#sahs)"/>
<circle cx="134.9" cy="288.6" r="15.9" fill="url(#sahs)"/>
<circle cx="151.3" cy="284.8" r="16.0" fill="url(#sahs)"/>
<circle cx="172.1" cy="287.3" r="11.8" fill="url(#sahs)"/>
<circle cx="184.2" cy="283.4" r="10.7" fill="url(#sahs)"/>
<circle cx="211.2" cy="287.2" r="15.0" fill="url(#sahs)"/>
<circle cx="224.8" cy="289.8" r="13.4" fill="url(#sahs)"/>
<circle cx="251.3" cy="289.0" r="11.2" fill="url(#sahs)"/>
<circle cx="275.3" cy="285.4" r="11.3" fill="url(#sahs)"/>
<circle cx="293.8" cy="285.3" r="16.6" fill="url(#sahs)"/>
<circle cx="319.4" cy="290.2" r="11.4" fill="url(#sahs)"/>
<circle cx="-4.6" cy="301.8" r="10.5" fill="url(#sahs)"/>
<circle cx="14.0" cy="303.3" r="17.4" fill="url(#sahs)"/>
<circle cx="35.0" cy="307.2" r="12.3" fill="url(#sahs)"/>
<circle cx="49.5" cy="300.6" r="10.0" fill="url(#sahs)"/>
<circle cx="72.8" cy="304.3" r="11.3" fill="url(#sahs)"/>
<circle cx="95.6" cy="302.7" r="12.6" fill="url(#sahs)"/>
<circle cx="118.0" cy="307.1" r="11.9" fill="url(#sahs)"/>
<circle cx="146.5" cy="300.1" r="10.6" fill="url(#sahs)"/>
<circle cx="160.8" cy="307.8" r="14.4" fill="url(#sahs)"/>
<circle cx="175.0" cy="300.0" r="15.2" fill="url(#sahs)"/>
<circle cx="197.1" cy="299.0" r="16.2" fill="url(#sahs)"/>
<circle cx="214.2" cy="310.0" r="14.6" fill="url(#sahs)"/>
<circle cx="239.6" cy="303.2" r="15.9" fill="url(#sahs)"/>
<circle cx="263.4" cy="305.5" r="11.4" fill="url(#sahs)"/>
<circle cx="288.1" cy="309.0" r="16.4" fill="url(#sahs)"/>
<circle cx="299.3" cy="307.6" r="10.3" fill="url(#sahs)"/>
<circle cx="324.1" cy="298.9" r="13.9" fill="url(#sahs)"/>
</g>
<filter id="sarb" x="-5%" y="-5%" width="110%" height="110%"><feGaussianBlur stdDeviation="1.6"/></filter>
<path d="M315,15 L315,310 L0,310 L0,290.5 L21.2,290.5 L22.2,271.2C22.9,269.5 24.5,263.6 26.4,260.9C28.3,258.1 31.0,256.4 33.6,254.7C36.2,253.0 38.9,251.9 41.8,250.5C44.7,249.1 49.2,248.1 51.1,246.4C53.0,244.7 51.3,242.3 53.2,240.2C55.1,238.1 59.6,235.7 62.5,234.0C65.4,232.3 68.4,231.3 70.8,229.9C73.2,228.5 74.2,226.3 77.0,225.8C79.8,225.3 84.2,226.3 87.3,226.8C90.4,227.3 93.8,227.2 95.5,228.8C97.2,230.4 97.6,233.5 97.6,236.1C97.6,238.7 94.8,242.6 95.5,244.3C96.2,246.0 99.3,245.0 101.7,246.4C104.1,247.8 108.8,250.2 110.0,252.6C111.2,255.0 110.4,258.1 109.0,260.9C107.6,263.6 101.9,266.4 101.7,269.1C101.5,271.9 106.7,274.9 107.9,277.4C109.1,279.9 107.6,284.4 109.0,284.0C110.4,283.6 113.6,278.0 116.2,275.3C118.8,272.6 122.0,269.7 124.4,268.0C126.8,266.3 130.1,266.9 130.6,265.0C131.1,263.1 128.5,260.5 127.5,256.7C126.5,252.9 125.2,246.4 124.4,242.3C123.6,238.2 122.9,235.4 122.4,232.0C121.9,228.6 121.1,225.0 121.3,221.6C121.5,218.2 123.4,214.2 123.4,211.3C123.4,208.4 122.8,205.7 121.3,204.0C119.8,202.3 116.3,202.9 114.1,201.0C111.9,199.1 110.0,194.6 107.9,192.7C105.8,190.8 104.1,190.1 101.7,189.6C99.3,189.1 96.2,190.1 93.5,189.6C90.8,189.1 88.0,187.3 85.2,186.5C82.5,185.7 80.1,184.8 77.0,184.5C73.9,184.2 70.0,183.8 66.6,184.5C63.1,185.2 59.4,186.9 56.3,188.6C53.2,190.3 50.6,193.1 48.0,194.8C45.4,196.5 43.2,198.7 40.8,198.9C38.4,199.1 35.7,197.4 33.6,195.8C31.5,194.2 29.6,191.8 28.4,189.6C27.2,187.4 26.7,185.7 26.4,182.4C26.1,179.1 26.5,173.7 26.4,170.0C26.3,166.3 25.9,164.8 25.7,160.0C25.5,155.2 24.8,145.4 25.2,141.5C25.6,137.6 26.4,138.4 28.0,136.8C29.6,135.2 33.0,134.1 35.0,132.1C37.0,130.1 37.9,126.7 39.7,125.1C41.6,123.5 44.0,122.3 46.1,122.3C48.2,122.3 50.8,123.9 52.3,125.3C53.8,126.7 53.9,129.0 55.3,130.4C56.6,131.8 55.1,133.2 60.4,133.5C65.7,133.8 81.9,133.9 87.0,132.5C92.1,131.1 89.3,127.0 91.0,125.3C92.7,123.6 94.5,122.5 97.2,122.3C99.9,122.1 104.8,124.3 107.4,124.3C110.0,124.3 111.2,123.7 112.6,122.3C114.0,120.9 115.0,118.9 115.6,116.1C116.2,113.3 115.8,108.7 116.4,105.6C117.0,102.5 118.1,99.8 119.4,97.4C120.8,95.0 122.6,92.7 124.5,91.3C126.4,89.9 128.6,90.3 130.7,89.3C132.8,88.3 134.2,87.1 136.8,85.2C139.4,83.3 143.4,79.9 146.0,78.0C148.6,76.1 149.5,74.9 152.1,73.9C154.7,72.9 158.8,72.1 161.3,71.9C163.9,71.7 164.7,73.2 167.4,72.9C170.1,72.6 174.6,71.1 177.7,69.9C180.8,68.7 182.4,67.0 185.8,65.8C189.2,64.6 193.8,64.6 198.1,62.7C202.4,60.8 207.3,58.2 211.4,54.5C215.5,50.8 219.7,43.5 222.6,40.2C225.5,36.9 225.6,36.1 228.8,34.9C232.0,33.7 238.6,33.2 241.9,33.1C245.2,33.0 247.3,33.4 248.9,34.0C250.5,34.6 249.8,35.6 251.5,36.6C253.2,37.6 256.5,39.1 259.4,40.1C262.3,41.1 266.6,41.9 269.0,42.8C271.4,43.7 272.2,46.0 273.5,45.5C274.8,45.0 275.9,41.4 277.0,40.0C278.1,38.6 279.5,37.5 280.0,37.0 L285,35.5 L300,15 Z" fill="none" stroke="#0a5a58" stroke-opacity="0.18" stroke-width="5" filter="url(#sarb)"/>
</g>
<filter id="vbl" x="-20%" y="-20%" width="140%" height="140%"><feGaussianBlur stdDeviation="1.8"/></filter>
<g clip-path="url(#clipA)" filter="url(#vbl)" fill="none" stroke="#5a9a98" stroke-opacity="0.4" stroke-width="3.4" stroke-linecap="round">
<path d="M218.0,82.8C217.1,88.5 213.9,105.0 212.3,117.0C210.7,129.0 208.8,143.6 208.5,155.0C208.2,166.4 210.7,174.6 210.4,185.3C210.1,196.1 207.9,207.5 206.6,219.5C205.3,231.5 203.8,245.4 202.8,257.5C201.9,269.6 201.2,286.2 200.9,292.0"/>
<path d="M228.0,100.0C227.6,106.0 226.6,121.8 225.6,136.0C224.6,150.2 223.1,169.5 221.8,185.3C220.5,201.1 218.6,213.2 218.0,231.0C217.4,248.8 218.0,281.8 218.0,292.0"/>
<path d="M272.0,60.0C271.3,66.7 268.0,86.7 268.0,100.0C268.0,113.3 272.0,125.0 272.0,140.0C272.0,155.0 267.7,173.3 268.0,190.0C268.3,206.7 273.7,223.0 274.0,240.0C274.3,257.0 270.7,283.3 270.0,292.0"/>
</g>
<circle cx="112.1" cy="161.2" r="5.6" fill="#2e9640"/>
<circle cx="105.8" cy="164.9" r="6.1" fill="#2e9640"/>
<circle cx="98.9" cy="158.5" r="6.6" fill="#2e9640"/>
<circle cx="113.2" cy="151.6" r="6.6" fill="#2e9640"/>
<circle cx="105.2" cy="150.6" r="7.6" fill="#2e9640"/>
<circle cx="105.8" cy="157.5" r="7.6" fill="#2e9640"/>
<circle cx="112.1" cy="161.2" r="5.0" fill="url(#gs)"/>
<circle cx="105.8" cy="164.9" r="5.5" fill="url(#gs)"/>
<circle cx="98.9" cy="158.5" r="6.0" fill="url(#gs)"/>
<circle cx="113.2" cy="151.6" r="6.0" fill="url(#gs)"/>
<circle cx="105.2" cy="150.6" r="7.0" fill="url(#gs)"/>
<circle cx="105.8" cy="157.5" r="7.0" fill="url(#gs)"/>
<path d="M49.3,165.8 L49.0,164.8 L48.7,163.7 L48.5,162.6 L48.3,161.4 L48.3,160.1 L48.3,158.9 L48.4,157.6 L48.5,156.3 L48.8,155.0 L49.1,153.8 L49.5,152.6 L50.0,151.5 L50.6,150.4 L51.2,149.4 L51.9,148.5 L52.6,147.7 L53.4,147.0 L54.3,146.4 L55.2,145.9 L56.2,145.6 L57.1,145.4" fill="none" stroke="#34acac" stroke-width="3.30" stroke-linecap="round" stroke-linejoin="round"/>
<path d="M49.3,165.8 L49.0,164.8 L48.7,163.7 L48.5,162.6 L48.3,161.4 L48.3,160.1 L48.3,158.9 L48.4,157.6 L48.5,156.3 L48.8,155.0 L49.1,153.8 L49.5,152.6 L50.0,151.5 L50.6,150.4 L51.2,149.4 L51.9,148.5 L52.6,147.7 L53.4,147.0 L54.3,146.4 L55.2,145.9 L56.2,145.6 L57.1,145.4" fill="none" stroke="#55d2d0" stroke-width="2.40" stroke-linecap="round" stroke-linejoin="round"/>
<path d="M67.7,168.1 L67.2,168.1 L66.6,168.0 L66.1,167.7 L65.6,167.4 L65.0,166.9 L64.6,166.2 L64.1,165.5 L63.7,164.7 L63.3,163.7 L63.0,162.7 L62.7,161.6 L62.5,160.5 L62.3,159.3 L62.3,158.0 L62.3,156.8 L62.4,155.5 L62.5,154.2 L62.8,152.9 L63.1,151.7 L63.5,150.5 L64.0,149.4 L64.6,148.3 L65.2,147.3 L65.9,146.4 L66.6,145.6 L67.4,144.9 L68.3,144.3 L69.2,143.8 L70.2,143.5 L71.1,143.3" fill="none" stroke="#34acac" stroke-width="3.30" stroke-linecap="round" stroke-linejoin="round"/>
<path d="M67.7,168.1 L67.2,168.1 L66.6,168.0 L66.1,167.7 L65.6,167.4 L65.0,166.9 L64.6,166.2 L64.1,165.5 L63.7,164.7 L63.3,163.7 L63.0,162.7 L62.7,161.6 L62.5,160.5 L62.3,159.3 L62.3,158.0 L62.3,156.8 L62.4,155.5 L62.5,154.2 L62.8,152.9 L63.1,151.7 L63.5,150.5 L64.0,149.4 L64.6,148.3 L65.2,147.3 L65.9,146.4 L66.6,145.6 L67.4,144.9 L68.3,144.3 L69.2,143.8 L70.2,143.5 L71.1,143.3" fill="none" stroke="#55d2d0" stroke-width="2.40" stroke-linecap="round" stroke-linejoin="round"/>
<path d="M81.7,166.0 L81.2,166.0 L80.6,165.9 L80.1,165.6 L79.6,165.3 L79.0,164.8 L78.6,164.1 L78.1,163.4 L77.7,162.6 L77.3,161.6 L77.0,160.6 L76.7,159.5 L76.5,158.4 L76.3,157.2 L76.3,155.9 L76.3,154.7 L76.4,153.4 L76.5,152.1 L76.8,150.8 L77.1,149.6 L77.5,148.4 L78.0,147.3 L78.6,146.2 L79.2,145.2 L79.9,144.3 L80.6,143.5 L81.4,142.8 L82.3,142.2 L83.2,141.7 L84.2,141.4 L85.1,141.2" fill="none" stroke="#34acac" stroke-width="3.30" stroke-linecap="round" stroke-linejoin="round"/>
<path d="M81.7,166.0 L81.2,166.0 L80.6,165.9 L80.1,165.6 L79.6,165.3 L79.0,164.8 L78.6,164.1 L78.1,163.4 L77.7,162.6 L77.3,161.6 L77.0,160.6 L76.7,159.5 L76.5,158.4 L76.3,157.2 L76.3,155.9 L76.3,154.7 L76.4,153.4 L76.5,152.1 L76.8,150.8 L77.1,149.6 L77.5,148.4 L78.0,147.3 L78.6,146.2 L79.2,145.2 L79.9,144.3 L80.6,143.5 L81.4,142.8 L82.3,142.2 L83.2,141.7 L84.2,141.4 L85.1,141.2" fill="none" stroke="#55d2d0" stroke-width="2.40" stroke-linecap="round" stroke-linejoin="round"/>
<path d="M95.7,163.9 L95.2,163.9 L94.6,163.8 L94.1,163.5 L93.6,163.2 L93.0,162.7 L92.6,162.0 L92.1,161.3 L91.7,160.5 L91.3,159.5 L91.0,158.5 L90.7,157.4 L90.5,156.3 L90.3,155.1 L90.3,153.8 L90.3,152.6 L90.4,151.3 L90.5,150.0 L90.8,148.7 L91.1,147.5 L91.5,146.3 L92.0,145.2 L92.6,144.1 L93.2,143.1 L93.9,142.2 L94.6,141.4 L95.4,140.7 L96.3,140.1 L97.2,139.6 L98.2,139.3" fill="none" stroke="#34acac" stroke-width="3.30" stroke-linecap="round" stroke-linejoin="round"/>
<path d="M95.7,163.9 L95.2,163.9 L94.6,163.8 L94.1,163.5 L93.6,163.2 L93.0,162.7 L92.6,162.0 L92.1,161.3 L91.7,160.5 L91.3,159.5 L91.0,158.5 L90.7,157.4 L90.5,156.3 L90.3,155.1 L90.3,153.8 L90.3,152.6 L90.4,151.3 L90.5,150.0 L90.8,148.7 L91.1,147.5 L91.5,146.3 L92.0,145.2 L92.6,144.1 L93.2,143.1 L93.9,142.2 L94.6,141.4 L95.4,140.7 L96.3,140.1 L97.2,139.6 L98.2,139.3" fill="none" stroke="#55d2d0" stroke-width="2.40" stroke-linecap="round" stroke-linejoin="round"/>
<path d="M109.7,161.8 L109.2,161.8 L108.6,161.7 L108.1,161.4 L107.6,161.1 L107.0,160.6 L106.6,159.9 L106.1,159.2 L105.7,158.4 L105.3,157.4 L105.0,156.4 L104.7,155.3 L104.5,154.2 L104.3,153.0 L104.3,151.7 L104.3,150.5 L104.4,149.2 L104.5,147.9 L104.8,146.6 L105.1,145.4 L105.5,144.2 L106.0,143.1 L106.6,142.0 L107.2,141.0 L107.9,140.1 L108.6,139.3 L109.4,138.6 L110.3,138.0 L111.2,137.5 L112.2,137.2 L113.1,137.0" fill="none" stroke="#34acac" stroke-width="3.30" stroke-linecap="round" stroke-linejoin="round"/>
<path d="M109.7,161.8 L109.2,161.8 L108.6,161.7 L108.1,161.4 L107.6,161.1 L107.0,160.6 L106.6,159.9 L106.1,159.2 L105.7,158.4 L105.3,157.4 L105.0,156.4 L104.7,155.3 L104.5,154.2 L104.3,153.0 L104.3,151.7 L104.3,150.5 L104.4,149.2 L104.5,147.9 L104.8,146.6 L105.1,145.4 L105.5,144.2 L106.0,143.1 L106.6,142.0 L107.2,141.0 L107.9,140.1 L108.6,139.3 L109.4,138.6 L110.3,138.0 L111.2,137.5 L112.2,137.2 L113.1,137.0" fill="none" stroke="#55d2d0" stroke-width="2.40" stroke-linecap="round" stroke-linejoin="round"/>
<path d="M123.7,159.7 L123.2,159.7 L122.6,159.6 L122.1,159.3 L121.6,159.0 L121.0,158.5 L120.6,157.8 L120.1,157.1 L119.7,156.3 L119.3,155.3" fill="none" stroke="#34acac" stroke-width="3.30" stroke-linecap="round" stroke-linejoin="round"/>
<path d="M123.7,159.7 L123.2,159.7 L122.6,159.6 L122.1,159.3 L121.6,159.0 L121.0,158.5 L120.6,157.8 L120.1,157.1 L119.7,156.3 L119.3,155.3" fill="none" stroke="#55d2d0" stroke-width="2.40" stroke-linecap="round" stroke-linejoin="round"/>
<path d="M57.1,145.4 L58.1,145.3 L59.1,145.4 L60.1,145.5 L61.1,145.8 L62.1,146.3 L63.0,146.8 L64.0,147.5 L64.9,148.3 L65.7,149.1 L66.5,150.1 L67.2,151.1 L67.9,152.2 L68.5,153.3 L69.1,154.5 L69.5,155.7 L69.9,156.9 L70.2,158.1 L70.4,159.3 L70.6,160.5 L70.6,161.6 L70.6,162.6 L70.5,163.6 L70.4,164.6 L70.1,165.4 L69.8,166.1 L69.5,166.8 L69.1,167.3 L68.7,167.7 L68.2,167.9 L67.7,168.1" fill="none" stroke="#34acac" stroke-width="4.40" stroke-linecap="round" stroke-linejoin="round"/>
<path d="M57.1,145.4 L58.1,145.3 L59.1,145.4 L60.1,145.5 L61.1,145.8 L62.1,146.3 L63.0,146.8 L64.0,147.5 L64.9,148.3 L65.7,149.1 L66.5,150.1 L67.2,151.1 L67.9,152.2 L68.5,153.3 L69.1,154.5 L69.5,155.7 L69.9,156.9 L70.2,158.1 L70.4,159.3 L70.6,160.5 L70.6,161.6 L70.6,162.6 L70.5,163.6 L70.4,164.6 L70.1,165.4 L69.8,166.1 L69.5,166.8 L69.1,167.3 L68.7,167.7 L68.2,167.9 L67.7,168.1" fill="none" stroke="#6aeeec" stroke-width="3.40" stroke-linecap="round" stroke-linejoin="round"/>
<path d="M71.1,143.3 L72.1,143.2 L73.1,143.3 L74.1,143.4 L75.1,143.7 L76.1,144.2 L77.0,144.7 L78.0,145.4 L78.9,146.2 L79.7,147.0 L80.5,148.0 L81.2,149.0 L81.9,150.1 L82.5,151.2 L83.1,152.4 L83.5,153.6 L83.9,154.8 L84.2,156.0 L84.4,157.2 L84.6,158.4 L84.6,159.5 L84.6,160.5 L84.5,161.5 L84.4,162.5 L84.1,163.3 L83.8,164.0 L83.5,164.7 L83.1,165.2 L82.7,165.6 L82.2,165.8 L81.7,166.0" fill="none" stroke="#34acac" stroke-width="4.40" stroke-linecap="round" stroke-linejoin="round"/>
<path d="M71.1,143.3 L72.1,143.2 L73.1,143.3 L74.1,143.4 L75.1,143.7 L76.1,144.2 L77.0,144.7 L78.0,145.4 L78.9,146.2 L79.7,147.0 L80.5,148.0 L81.2,149.0 L81.9,150.1 L82.5,151.2 L83.1,152.4 L83.5,153.6 L83.9,154.8 L84.2,156.0 L84.4,157.2 L84.6,158.4 L84.6,159.5 L84.6,160.5 L84.5,161.5 L84.4,162.5 L84.1,163.3 L83.8,164.0 L83.5,164.7 L83.1,165.2 L82.7,165.6 L82.2,165.8 L81.7,166.0" fill="none" stroke="#6aeeec" stroke-width="3.40" stroke-linecap="round" stroke-linejoin="round"/>
<path d="M85.1,141.2 L86.1,141.1 L87.1,141.2 L88.1,141.3 L89.1,141.6 L90.1,142.1 L91.0,142.6 L92.0,143.3 L92.9,144.1 L93.7,144.9 L94.5,145.9 L95.2,146.9 L95.9,148.0 L96.5,149.1 L97.1,150.3 L97.5,151.5 L97.9,152.7 L98.2,153.9 L98.4,155.1 L98.6,156.3 L98.6,157.4 L98.6,158.4 L98.5,159.4 L98.4,160.4 L98.1,161.2 L97.8,161.9 L97.5,162.6 L97.1,163.1 L96.7,163.5 L96.2,163.7 L95.7,163.9" fill="none" stroke="#34acac" stroke-width="4.40" stroke-linecap="round" stroke-linejoin="round"/>
<path d="M85.1,141.2 L86.1,141.1 L87.1,141.2 L88.1,141.3 L89.1,141.6 L90.1,142.1 L91.0,142.6 L92.0,143.3 L92.9,144.1 L93.7,144.9 L94.5,145.9 L95.2,146.9 L95.9,148.0 L96.5,149.1 L97.1,150.3 L97.5,151.5 L97.9,152.7 L98.2,153.9 L98.4,155.1 L98.6,156.3 L98.6,157.4 L98.6,158.4 L98.5,159.4 L98.4,160.4 L98.1,161.2 L97.8,161.9 L97.5,162.6 L97.1,163.1 L96.7,163.5 L96.2,163.7 L95.7,163.9" fill="none" stroke="#6aeeec" stroke-width="3.40" stroke-linecap="round" stroke-linejoin="round"/>
<path d="M98.2,139.3 L99.1,139.1 L100.1,139.0 L101.1,139.1 L102.1,139.2 L103.1,139.5 L104.1,140.0 L105.0,140.5 L106.0,141.2 L106.9,142.0 L107.7,142.8 L108.5,143.8 L109.2,144.8 L109.9,145.9 L110.5,147.0 L111.1,148.2 L111.5,149.4 L111.9,150.6 L112.2,151.8 L112.4,153.0 L112.6,154.2 L112.6,155.3 L112.6,156.3 L112.5,157.3 L112.4,158.3 L112.1,159.1 L111.8,159.8 L111.5,160.5 L111.1,161.0 L110.7,161.4 L110.2,161.6 L109.7,161.8" fill="none" stroke="#34acac" stroke-width="4.40" stroke-linecap="round" stroke-linejoin="round"/>
<path d="M98.2,139.3 L99.1,139.1 L100.1,139.0 L101.1,139.1 L102.1,139.2 L103.1,139.5 L104.1,140.0 L105.0,140.5 L106.0,141.2 L106.9,142.0 L107.7,142.8 L108.5,143.8 L109.2,144.8 L109.9,145.9 L110.5,147.0 L111.1,148.2 L111.5,149.4 L111.9,150.6 L112.2,151.8 L112.4,153.0 L112.6,154.2 L112.6,155.3 L112.6,156.3 L112.5,157.3 L112.4,158.3 L112.1,159.1 L111.8,159.8 L111.5,160.5 L111.1,161.0 L110.7,161.4 L110.2,161.6 L109.7,161.8" fill="none" stroke="#6aeeec" stroke-width="3.40" stroke-linecap="round" stroke-linejoin="round"/>
<path d="M113.1,137.0 L114.1,136.9 L115.1,137.0 L116.1,137.1 L117.1,137.4 L118.1,137.9 L119.0,138.4 L120.0,139.1 L120.9,139.9 L121.7,140.7 L122.5,141.7 L123.2,142.7 L123.9,143.8 L124.5,144.9 L125.1,146.1 L125.5,147.3 L125.9,148.5 L126.2,149.7 L126.4,150.9 L126.6,152.1 L126.6,153.2 L126.6,154.2 L126.5,155.2 L126.4,156.2 L126.1,157.0 L125.8,157.7 L125.5,158.4 L125.1,158.9 L124.7,159.3 L124.2,159.5 L123.7,159.7" fill="none" stroke="#34acac" stroke-width="4.40" stroke-linecap="round" stroke-linejoin="round"/>
<path d="M113.1,137.0 L114.1,136.9 L115.1,137.0 L116.1,137.1 L117.1,137.4 L118.1,137.9 L119.0,138.4 L120.0,139.1 L120.9,139.9 L121.7,140.7 L122.5,141.7 L123.2,142.7 L123.9,143.8 L124.5,144.9 L125.1,146.1 L125.5,147.3 L125.9,148.5 L126.2,149.7 L126.4,150.9 L126.6,152.1 L126.6,153.2 L126.6,154.2 L126.5,155.2 L126.4,156.2 L126.1,157.0 L125.8,157.7 L125.5,158.4 L125.1,158.9 L124.7,159.3 L124.2,159.5 L123.7,159.7" fill="none" stroke="#6aeeec" stroke-width="3.40" stroke-linecap="round" stroke-linejoin="round"/>
<path d="M119.0,139.0C120.5,140.3 125.1,144.8 127.9,146.8C130.7,148.8 133.6,149.3 136.0,151.0C138.4,152.7 140.7,154.3 142.2,157.0C143.7,159.7 145.2,164.1 145.2,167.2C145.2,170.3 143.7,173.2 142.2,175.4C140.7,177.6 137.0,179.7 136.0,180.5" fill="none" stroke="#34acac" stroke-width="3.6" stroke-linecap="round" stroke-linejoin="round"/>
<path d="M119.0,139.0C120.5,140.3 125.1,144.8 127.9,146.8C130.7,148.8 133.6,149.3 136.0,151.0C138.4,152.7 140.7,154.3 142.2,157.0C143.7,159.7 145.2,164.1 145.2,167.2C145.2,170.3 143.7,173.2 142.2,175.4C140.7,177.6 137.0,179.7 136.0,180.5" fill="none" stroke="#55d2d0" stroke-width="2.6" stroke-linecap="round" stroke-linejoin="round"/>
<path d="M136.0,180.5C135.6,180.8 133.9,181.8 133.5,182.0" fill="none" stroke="#34acac" stroke-width="4.0" stroke-linecap="round" stroke-linejoin="round"/>
<path d="M136.0,180.5C135.6,180.8 133.9,181.8 133.5,182.0" fill="none" stroke="#55d2d0" stroke-width="3.0" stroke-linecap="round" stroke-linejoin="round"/>
<path d="M133.5,182.0C134.4,181.2 136.8,178.2 139.0,177.0C141.2,175.8 144.3,174.8 147.0,174.5C149.7,174.2 152.8,174.2 155.0,175.5C157.2,176.8 159.2,179.2 160.0,182.0C160.8,184.8 160.7,189.1 160.0,192.0C159.3,194.9 157.3,197.7 156.0,199.5C154.7,201.3 152.7,202.4 152.0,203.0" fill="none" stroke="#34acac" stroke-width="4.4" stroke-linecap="round"/>
<path d="M133.5,182.0C134.4,181.2 136.8,178.2 139.0,177.0C141.2,175.8 144.3,174.8 147.0,174.5C149.7,174.2 152.8,174.2 155.0,175.5C157.2,176.8 159.2,179.2 160.0,182.0C160.8,184.8 160.7,189.1 160.0,192.0C159.3,194.9 157.3,197.7 156.0,199.5C154.7,201.3 152.7,202.4 152.0,203.0" fill="none" stroke="#6aeeec" stroke-width="3.4" stroke-linecap="round"/>
<path d="M135.6,106.9 L135.7,106.5 L135.8,106.1 L136.0,105.8 L136.1,105.5 L136.3,105.1 L136.5,104.8 L136.7,104.5 L137.0,104.2 L137.2,104.0 L137.4,103.7 L137.7,103.5" fill="none" stroke="#34acac" stroke-width="2.90" stroke-linecap="round" stroke-linejoin="round"/>
<path d="M135.6,106.9 L135.7,106.5 L135.8,106.1 L136.0,105.8 L136.1,105.5 L136.3,105.1 L136.5,104.8 L136.7,104.5 L137.0,104.2 L137.2,104.0 L137.4,103.7 L137.7,103.5" fill="none" stroke="#55d2d0" stroke-width="2.00" stroke-linecap="round" stroke-linejoin="round"/>
<path d="M155.8,114.8 L155.7,114.9 L155.6,115.0 L155.4,115.0 L155.3,115.1 L155.1,115.1 L155.0,115.1 L154.8,115.1 L154.6,115.1 L154.4,115.1 L154.2,115.0 L154.0,114.9 L153.7,114.8 L153.5,114.7 L153.3,114.6 L153.0,114.4 L152.8,114.2 L152.5,114.0 L152.3,113.8 L152.0,113.6 L151.7,113.4 L151.5,113.1 L151.2,112.8 L151.0,112.6 L150.7,112.3 L150.4,111.9 L150.2,111.6 L149.9,111.3 L149.7,110.9 L149.4,110.5 L149.2,110.2 L149.0,109.8 L148.8,109.4 L148.5,109.0 L148.3,108.5 L148.1,108.1 L147.9,107.7 L147.8,107.2 L147.6,106.8 L147.4,106.3 L147.3,105.9 L147.1,105.4 L147.0,105.0 L146.9,104.5 L146.8,104.1 L146.7,103.6 L146.7,103.1 L146.6,102.7 L146.6,102.2 L146.5,101.8 L146.5,101.3 L146.5,100.9 L146.5,100.5 L146.6,100.0 L146.6,99.6 L146.7,99.2 L146.8,98.8 L146.9,98.4 L147.0,98.0 L147.1,97.6 L147.3,97.3 L147.4,96.9 L147.6,96.6 L147.8,96.3 L148.0,96.0 L148.2,95.7 L148.5,95.4 L148.7,95.2 L149.0,94.9 L149.3,94.7" fill="none" stroke="#34acac" stroke-width="2.90" stroke-linecap="round" stroke-linejoin="round"/>
<path d="M155.8,114.8 L155.7,114.9 L155.6,115.0 L155.4,115.0 L155.3,115.1 L155.1,115.1 L155.0,115.1 L154.8,115.1 L154.6,115.1 L154.4,115.1 L154.2,115.0 L154.0,114.9 L153.7,114.8 L153.5,114.7 L153.3,114.6 L153.0,114.4 L152.8,114.2 L152.5,114.0 L152.3,113.8 L152.0,113.6 L151.7,113.4 L151.5,113.1 L151.2,112.8 L151.0,112.6 L150.7,112.3 L150.4,111.9 L150.2,111.6 L149.9,111.3 L149.7,110.9 L149.4,110.5 L149.2,110.2 L149.0,109.8 L148.8,109.4 L148.5,109.0 L148.3,108.5 L148.1,108.1 L147.9,107.7 L147.8,107.2 L147.6,106.8 L147.4,106.3 L147.3,105.9 L147.1,105.4 L147.0,105.0 L146.9,104.5 L146.8,104.1 L146.7,103.6 L146.7,103.1 L146.6,102.7 L146.6,102.2 L146.5,101.8 L146.5,101.3 L146.5,100.9 L146.5,100.5 L146.6,100.0 L146.6,99.6 L146.7,99.2 L146.8,98.8 L146.9,98.4 L147.0,98.0 L147.1,97.6 L147.3,97.3 L147.4,96.9 L147.6,96.6 L147.8,96.3 L148.0,96.0 L148.2,95.7 L148.5,95.4 L148.7,95.2 L149.0,94.9 L149.3,94.7" fill="none" stroke="#55d2d0" stroke-width="2.00" stroke-linecap="round" stroke-linejoin="round"/>
<path d="M167.1,106.2 L167.0,106.3 L166.9,106.4 L166.7,106.4 L166.6,106.5 L166.4,106.5 L166.2,106.5 L166.0,106.5 L165.8,106.4 L165.6,106.4 L165.4,106.3 L165.2,106.2 L164.9,106.1 L164.7,106.0 L164.5,105.8 L164.2,105.7 L164.0,105.5 L163.7,105.3 L163.5,105.1 L163.2,104.8 L162.9,104.6 L162.7,104.3 L162.4,104.0 L162.2,103.7 L161.9,103.4 L161.6,103.1 L161.4,102.8 L161.1,102.4 L160.9,102.0 L160.7,101.7 L160.4,101.3 L160.2,100.9 L160.0,100.5 L159.8,100.1 L159.6,99.6 L159.4,99.2 L159.2,98.8 L159.0,98.3 L158.8,97.9 L158.7,97.4 L158.6,97.0 L158.4,96.5 L158.3,96.1 L158.2,95.6 L158.1,95.1 L158.0,94.7 L158.0,94.2 L157.9,93.8 L157.9,93.3 L157.9,92.9 L157.9,92.4 L157.9,92.0 L157.9,91.5 L158.0,91.1 L158.0,90.7 L158.1,90.3 L158.2,89.9 L158.3,89.5 L158.4,89.1 L158.6,88.8 L158.7,88.4 L158.9,88.1 L159.1,87.8 L159.3,87.5 L159.5,87.2 L159.7,86.9 L160.0,86.6 L160.2,86.4 L160.5,86.1" fill="none" stroke="#34acac" stroke-width="2.90" stroke-linecap="round" stroke-linejoin="round"/>
<path d="M167.1,106.2 L167.0,106.3 L166.9,106.4 L166.7,106.4 L166.6,106.5 L166.4,106.5 L166.2,106.5 L166.0,106.5 L165.8,106.4 L165.6,106.4 L165.4,106.3 L165.2,106.2 L164.9,106.1 L164.7,106.0 L164.5,105.8 L164.2,105.7 L164.0,105.5 L163.7,105.3 L163.5,105.1 L163.2,104.8 L162.9,104.6 L162.7,104.3 L162.4,104.0 L162.2,103.7 L161.9,103.4 L161.6,103.1 L161.4,102.8 L161.1,102.4 L160.9,102.0 L160.7,101.7 L160.4,101.3 L160.2,100.9 L160.0,100.5 L159.8,100.1 L159.6,99.6 L159.4,99.2 L159.2,98.8 L159.0,98.3 L158.8,97.9 L158.7,97.4 L158.6,97.0 L158.4,96.5 L158.3,96.1 L158.2,95.6 L158.1,95.1 L158.0,94.7 L158.0,94.2 L157.9,93.8 L157.9,93.3 L157.9,92.9 L157.9,92.4 L157.9,92.0 L157.9,91.5 L158.0,91.1 L158.0,90.7 L158.1,90.3 L158.2,89.9 L158.3,89.5 L158.4,89.1 L158.6,88.8 L158.7,88.4 L158.9,88.1 L159.1,87.8 L159.3,87.5 L159.5,87.2 L159.7,86.9 L160.0,86.6 L160.2,86.4 L160.5,86.1" fill="none" stroke="#55d2d0" stroke-width="2.00" stroke-linecap="round" stroke-linejoin="round"/>
<path d="M137.7,103.5 L138.0,103.2 L138.3,103.0 L138.6,102.9 L138.9,102.7 L139.2,102.5 L139.6,102.4 L139.9,102.3 L140.3,102.2 L140.7,102.1 L141.0,102.0 L141.4,102.0 L141.8,102.0 L142.2,102.0 L142.6,102.0 L143.0,102.0 L143.5,102.1 L143.9,102.1 L144.3,102.2 L144.7,102.3 L145.2,102.4 L145.6,102.6 L146.0,102.7 L146.4,102.9 L146.9,103.0 L147.3,103.2 L147.7,103.4 L148.1,103.7 L148.5,103.9 L148.9,104.1 L149.3,104.4 L149.7,104.7 L150.1,104.9 L150.5,105.2 L150.9,105.5 L151.3,105.8 L151.6,106.1 L152.0,106.4 L152.3,106.8 L152.6,107.1 L152.9,107.4 L153.2,107.7 L153.5,108.1 L153.8,108.4 L154.1,108.7 L154.3,109.1 L154.5,109.4 L154.8,109.7 L155.0,110.1 L155.2,110.4 L155.3,110.7 L155.5,111.0 L155.6,111.3 L155.8,111.6 L155.9,111.9 L156.0,112.2 L156.0,112.5 L156.1,112.7 L156.2,113.0 L156.2,113.2 L156.2,113.5 L156.2,113.7 L156.2,113.9 L156.2,114.1 L156.1,114.3 L156.1,114.4 L156.0,114.6 L155.9,114.7 L155.8,114.8" fill="none" stroke="#34acac" stroke-width="3.60" stroke-linecap="round" stroke-linejoin="round"/>
<path d="M137.7,103.5 L138.0,103.2 L138.3,103.0 L138.6,102.9 L138.9,102.7 L139.2,102.5 L139.6,102.4 L139.9,102.3 L140.3,102.2 L140.7,102.1 L141.0,102.0 L141.4,102.0 L141.8,102.0 L142.2,102.0 L142.6,102.0 L143.0,102.0 L143.5,102.1 L143.9,102.1 L144.3,102.2 L144.7,102.3 L145.2,102.4 L145.6,102.6 L146.0,102.7 L146.4,102.9 L146.9,103.0 L147.3,103.2 L147.7,103.4 L148.1,103.7 L148.5,103.9 L148.9,104.1 L149.3,104.4 L149.7,104.7 L150.1,104.9 L150.5,105.2 L150.9,105.5 L151.3,105.8 L151.6,106.1 L152.0,106.4 L152.3,106.8 L152.6,107.1 L152.9,107.4 L153.2,107.7 L153.5,108.1 L153.8,108.4 L154.1,108.7 L154.3,109.1 L154.5,109.4 L154.8,109.7 L155.0,110.1 L155.2,110.4 L155.3,110.7 L155.5,111.0 L155.6,111.3 L155.8,111.6 L155.9,111.9 L156.0,112.2 L156.0,112.5 L156.1,112.7 L156.2,113.0 L156.2,113.2 L156.2,113.5 L156.2,113.7 L156.2,113.9 L156.2,114.1 L156.1,114.3 L156.1,114.4 L156.0,114.6 L155.9,114.7 L155.8,114.8" fill="none" stroke="#6aeeec" stroke-width="2.60" stroke-linecap="round" stroke-linejoin="round"/>
<path d="M149.3,94.7 L149.5,94.5 L149.9,94.3 L150.2,94.1 L150.5,93.9 L150.8,93.8 L151.2,93.7 L151.5,93.6 L151.9,93.5 L152.3,93.4 L152.7,93.4 L153.0,93.3 L153.4,93.3 L153.9,93.3 L154.3,93.4 L154.7,93.4 L155.1,93.5 L155.5,93.5 L155.9,93.6 L156.4,93.7 L156.8,93.9 L157.2,94.0 L157.6,94.2 L158.1,94.3 L158.5,94.5 L158.9,94.7 L159.3,94.9 L159.7,95.2 L160.2,95.4 L160.6,95.7 L161.0,95.9 L161.4,96.2 L161.7,96.5 L162.1,96.8 L162.5,97.1 L162.8,97.4 L163.2,97.7 L163.5,98.0 L163.9,98.3 L164.2,98.7 L164.5,99.0 L164.8,99.3 L165.1,99.6 L165.3,100.0 L165.6,100.3 L165.8,100.6 L166.0,101.0 L166.3,101.3 L166.4,101.6 L166.6,102.0 L166.8,102.3 L166.9,102.6 L167.1,102.9 L167.2,103.2 L167.3,103.5 L167.4,103.7 L167.5,104.0 L167.5,104.3 L167.5,104.5 L167.6,104.7 L167.6,105.0 L167.6,105.2 L167.6,105.4 L167.5,105.6 L167.5,105.7 L167.4,105.9 L167.3,106.0 L167.2,106.1 L167.1,106.2" fill="none" stroke="#34acac" stroke-width="3.60" stroke-linecap="round" stroke-linejoin="round"/>
<path d="M149.3,94.7 L149.5,94.5 L149.9,94.3 L150.2,94.1 L150.5,93.9 L150.8,93.8 L151.2,93.7 L151.5,93.6 L151.9,93.5 L152.3,93.4 L152.7,93.4 L153.0,93.3 L153.4,93.3 L153.9,93.3 L154.3,93.4 L154.7,93.4 L155.1,93.5 L155.5,93.5 L155.9,93.6 L156.4,93.7 L156.8,93.9 L157.2,94.0 L157.6,94.2 L158.1,94.3 L158.5,94.5 L158.9,94.7 L159.3,94.9 L159.7,95.2 L160.2,95.4 L160.6,95.7 L161.0,95.9 L161.4,96.2 L161.7,96.5 L162.1,96.8 L162.5,97.1 L162.8,97.4 L163.2,97.7 L163.5,98.0 L163.9,98.3 L164.2,98.7 L164.5,99.0 L164.8,99.3 L165.1,99.6 L165.3,100.0 L165.6,100.3 L165.8,100.6 L166.0,101.0 L166.3,101.3 L166.4,101.6 L166.6,102.0 L166.8,102.3 L166.9,102.6 L167.1,102.9 L167.2,103.2 L167.3,103.5 L167.4,103.7 L167.5,104.0 L167.5,104.3 L167.5,104.5 L167.6,104.7 L167.6,105.0 L167.6,105.2 L167.6,105.4 L167.5,105.6 L167.5,105.7 L167.4,105.9 L167.3,106.0 L167.2,106.1 L167.1,106.2" fill="none" stroke="#6aeeec" stroke-width="2.60" stroke-linecap="round" stroke-linejoin="round"/>
<path d="M160.5,86.1 L160.8,85.9 L161.1,85.7 L161.4,85.5 L161.7,85.4 L162.1,85.2 L162.4,85.1 L162.8,85.0 L163.1,84.9 L163.5,84.8 L163.9,84.8 L164.3,84.7 L164.7,84.7 L165.1,84.7 L165.5,84.7 L165.9,84.8 L166.3,84.8" fill="none" stroke="#34acac" stroke-width="3.60" stroke-linecap="round" stroke-linejoin="round"/>
<path d="M160.5,86.1 L160.8,85.9 L161.1,85.7 L161.4,85.5 L161.7,85.4 L162.1,85.2 L162.4,85.1 L162.8,85.0 L163.1,84.9 L163.5,84.8 L163.9,84.8 L164.3,84.7 L164.7,84.7 L165.1,84.7 L165.5,84.7 L165.9,84.8 L166.3,84.8" fill="none" stroke="#6aeeec" stroke-width="2.60" stroke-linecap="round" stroke-linejoin="round"/>
<path d="M167.0,82.0C168.8,81.7 175.0,79.8 178.0,80.0C181.0,80.2 182.8,81.0 185.0,83.0C187.2,85.0 189.3,89.7 191.0,92.0C192.7,94.3 194.3,96.2 195.0,97.0" fill="none" stroke="#34acac" stroke-width="2.8" stroke-linecap="round" stroke-linejoin="round"/>
<path d="M167.0,82.0C168.8,81.7 175.0,79.8 178.0,80.0C181.0,80.2 182.8,81.0 185.0,83.0C187.2,85.0 189.3,89.7 191.0,92.0C192.7,94.3 194.3,96.2 195.0,97.0" fill="none" stroke="#55d2d0" stroke-width="1.8" stroke-linecap="round" stroke-linejoin="round"/>
<path d="M195.0,98.0C193.8,99.0 190.3,102.0 188.0,104.0C185.7,106.0 182.2,109.0 181.0,110.0" fill="none" stroke="#34acac" stroke-width="4.6" stroke-linecap="round" stroke-linejoin="round"/>
<path d="M195.0,98.0C193.8,99.0 190.3,102.0 188.0,104.0C185.7,106.0 182.2,109.0 181.0,110.0" fill="none" stroke="#55d2d0" stroke-width="3.6" stroke-linecap="round" stroke-linejoin="round"/>
<circle cx="183.4" cy="120.7" r="5.1" fill="#2e9640"/>
<circle cx="177.5" cy="122.4" r="5.6" fill="#2e9640"/>
<circle cx="172.3" cy="119.5" r="6.3999999999999995" fill="#2e9640"/>
<circle cx="178.7" cy="113.7" r="6.3999999999999995" fill="#2e9640"/>
<circle cx="174" cy="108.4" r="7.0" fill="#2e9640"/>
<circle cx="183.4" cy="120.7" r="4.5" fill="url(#gs)"/>
<circle cx="177.5" cy="122.4" r="5.0" fill="url(#gs)"/>
<circle cx="172.3" cy="119.5" r="5.8" fill="url(#gs)"/>
<circle cx="178.7" cy="113.7" r="5.8" fill="url(#gs)"/>
<circle cx="174.0" cy="108.4" r="6.4" fill="url(#gs)"/>
<path d="M187.2,81.9 L187.6,81.6 L187.9,81.4" fill="none" stroke="#34acac" stroke-width="2.90" stroke-linecap="round" stroke-linejoin="round"/>
<path d="M187.2,81.9 L187.6,81.6 L187.9,81.4" fill="none" stroke="#55d2d0" stroke-width="2.00" stroke-linecap="round" stroke-linejoin="round"/>
<path d="M204.5,94.7 L204.3,94.8 L204.2,94.9 L204.0,95.0 L203.8,95.0 L203.5,95.0 L203.3,94.9 L203.1,94.9 L202.8,94.8 L202.5,94.6 L202.3,94.5 L202.0,94.3 L201.7,94.1 L201.4,93.8 L201.1,93.6 L200.8,93.2 L200.5,92.9 L200.2,92.6 L199.9,92.2 L199.6,91.8 L199.3,91.3 L199.0,90.9 L198.8,90.4 L198.5,89.9 L198.2,89.4 L198.0,88.9 L197.8,88.3 L197.6,87.8 L197.4,87.2 L197.2,86.6 L197.0,86.0 L196.9,85.5 L196.7,84.9 L196.6,84.3 L196.5,83.7 L196.5,83.1 L196.4,82.5 L196.4,81.9 L196.4,81.3 L196.4,80.8 L196.5,80.2 L196.6,79.6 L196.7,79.1 L196.8,78.6 L196.9,78.1 L197.1,77.6 L197.3,77.1 L197.5,76.7 L197.8,76.3 L198.0,75.9 L198.3,75.5 L198.6,75.2 L198.9,74.8 L199.3,74.5 L199.7,74.3" fill="none" stroke="#34acac" stroke-width="2.90" stroke-linecap="round" stroke-linejoin="round"/>
<path d="M204.5,94.7 L204.3,94.8 L204.2,94.9 L204.0,95.0 L203.8,95.0 L203.5,95.0 L203.3,94.9 L203.1,94.9 L202.8,94.8 L202.5,94.6 L202.3,94.5 L202.0,94.3 L201.7,94.1 L201.4,93.8 L201.1,93.6 L200.8,93.2 L200.5,92.9 L200.2,92.6 L199.9,92.2 L199.6,91.8 L199.3,91.3 L199.0,90.9 L198.8,90.4 L198.5,89.9 L198.2,89.4 L198.0,88.9 L197.8,88.3 L197.6,87.8 L197.4,87.2 L197.2,86.6 L197.0,86.0 L196.9,85.5 L196.7,84.9 L196.6,84.3 L196.5,83.7 L196.5,83.1 L196.4,82.5 L196.4,81.9 L196.4,81.3 L196.4,80.8 L196.5,80.2 L196.6,79.6 L196.7,79.1 L196.8,78.6 L196.9,78.1 L197.1,77.6 L197.3,77.1 L197.5,76.7 L197.8,76.3 L198.0,75.9 L198.3,75.5 L198.6,75.2 L198.9,74.8 L199.3,74.5 L199.7,74.3" fill="none" stroke="#55d2d0" stroke-width="2.00" stroke-linecap="round" stroke-linejoin="round"/>
<path d="M216.1,87.7 L216.0,87.8 L215.8,87.8 L215.6,87.8 L215.4,87.8 L215.1,87.8 L214.9,87.7 L214.6,87.7 L214.4,87.5 L214.1,87.4 L213.8,87.2 L213.5,87.0 L213.2,86.7 L212.9,86.4 L212.6,86.1 L212.3,85.8 L212.0,85.5 L211.7,85.1 L211.4,84.7 L211.1,84.2 L210.9,83.8 L210.6,83.3 L210.3,82.8 L210.1,82.3 L209.8,81.8 L209.6,81.3 L209.4,80.7 L209.2,80.1 L209.0,79.6 L208.8,79.0 L208.7,78.4 L208.5,77.8 L208.4,77.2 L208.3,76.6 L208.3,76.0 L208.2,75.4 L208.2,74.8 L208.2,74.3 L208.2,73.7 L208.3,73.1 L208.3,72.6 L208.4,72.0 L208.6,71.5 L208.7,71.0 L208.9,70.5 L209.1,70.1 L209.3,69.6 L209.5,69.2 L209.8,68.8 L210.1,68.4 L210.4,68.1 L210.7,67.7 L211.0,67.4 L211.4,67.2" fill="none" stroke="#34acac" stroke-width="2.90" stroke-linecap="round" stroke-linejoin="round"/>
<path d="M216.1,87.7 L216.0,87.8 L215.8,87.8 L215.6,87.8 L215.4,87.8 L215.1,87.8 L214.9,87.7 L214.6,87.7 L214.4,87.5 L214.1,87.4 L213.8,87.2 L213.5,87.0 L213.2,86.7 L212.9,86.4 L212.6,86.1 L212.3,85.8 L212.0,85.5 L211.7,85.1 L211.4,84.7 L211.1,84.2 L210.9,83.8 L210.6,83.3 L210.3,82.8 L210.1,82.3 L209.8,81.8 L209.6,81.3 L209.4,80.7 L209.2,80.1 L209.0,79.6 L208.8,79.0 L208.7,78.4 L208.5,77.8 L208.4,77.2 L208.3,76.6 L208.3,76.0 L208.2,75.4 L208.2,74.8 L208.2,74.3 L208.2,73.7 L208.3,73.1 L208.3,72.6 L208.4,72.0 L208.6,71.5 L208.7,71.0 L208.9,70.5 L209.1,70.1 L209.3,69.6 L209.5,69.2 L209.8,68.8 L210.1,68.4 L210.4,68.1 L210.7,67.7 L211.0,67.4 L211.4,67.2" fill="none" stroke="#55d2d0" stroke-width="2.00" stroke-linecap="round" stroke-linejoin="round"/>
<path d="M228.0,80.5 L227.8,80.6 L227.6,80.7 L227.4,80.7 L227.2,80.7 L226.9,80.7 L226.7,80.6 L226.4,80.5 L226.2,80.4 L225.9,80.3 L225.6,80.1 L225.3,79.9 L225.0,79.6 L224.7,79.3 L224.4,79.0 L224.1,78.7 L223.8,78.4 L223.5,78.0 L223.2,77.6 L223.0,77.2 L222.7,76.7 L222.4,76.2 L222.1,75.8 L221.9,75.3 L221.6,74.7 L221.4,74.2 L221.2,73.6 L221.0,73.1 L220.8,72.5 L220.6,71.9 L220.5,71.3" fill="none" stroke="#34acac" stroke-width="2.90" stroke-linecap="round" stroke-linejoin="round"/>
<path d="M228.0,80.5 L227.8,80.6 L227.6,80.7 L227.4,80.7 L227.2,80.7 L226.9,80.7 L226.7,80.6 L226.4,80.5 L226.2,80.4 L225.9,80.3 L225.6,80.1 L225.3,79.9 L225.0,79.6 L224.7,79.3 L224.4,79.0 L224.1,78.7 L223.8,78.4 L223.5,78.0 L223.2,77.6 L223.0,77.2 L222.7,76.7 L222.4,76.2 L222.1,75.8 L221.9,75.3 L221.6,74.7 L221.4,74.2 L221.2,73.6 L221.0,73.1 L220.8,72.5 L220.6,71.9 L220.5,71.3" fill="none" stroke="#55d2d0" stroke-width="2.00" stroke-linecap="round" stroke-linejoin="round"/>
<path d="M187.9,81.4 L188.3,81.2 L188.7,81.0 L189.1,80.8 L189.6,80.6 L190.0,80.5 L190.5,80.5 L191.0,80.4 L191.4,80.4 L191.9,80.4 L192.4,80.4 L192.9,80.5 L193.5,80.6 L194.0,80.8 L194.5,80.9 L195.0,81.1 L195.5,81.3 L196.1,81.6 L196.6,81.8 L197.1,82.1 L197.6,82.4 L198.1,82.8 L198.6,83.1 L199.0,83.5 L199.5,83.9 L200.0,84.3 L200.4,84.7 L200.8,85.1 L201.2,85.6 L201.6,86.0 L202.0,86.5 L202.4,86.9 L202.7,87.4 L203.0,87.8 L203.3,88.3 L203.6,88.8 L203.8,89.2 L204.1,89.7 L204.3,90.1 L204.4,90.5 L204.6,90.9 L204.7,91.4 L204.8,91.7 L204.9,92.1 L205.0,92.5 L205.0,92.8 L205.0,93.1 L205.0,93.4 L205.0,93.7 L204.9,94.0 L204.9,94.2 L204.8,94.4 L204.6,94.6 L204.5,94.7" fill="none" stroke="#34acac" stroke-width="3.60" stroke-linecap="round" stroke-linejoin="round"/>
<path d="M187.9,81.4 L188.3,81.2 L188.7,81.0 L189.1,80.8 L189.6,80.6 L190.0,80.5 L190.5,80.5 L191.0,80.4 L191.4,80.4 L191.9,80.4 L192.4,80.4 L192.9,80.5 L193.5,80.6 L194.0,80.8 L194.5,80.9 L195.0,81.1 L195.5,81.3 L196.1,81.6 L196.6,81.8 L197.1,82.1 L197.6,82.4 L198.1,82.8 L198.6,83.1 L199.0,83.5 L199.5,83.9 L200.0,84.3 L200.4,84.7 L200.8,85.1 L201.2,85.6 L201.6,86.0 L202.0,86.5 L202.4,86.9 L202.7,87.4 L203.0,87.8 L203.3,88.3 L203.6,88.8 L203.8,89.2 L204.1,89.7 L204.3,90.1 L204.4,90.5 L204.6,90.9 L204.7,91.4 L204.8,91.7 L204.9,92.1 L205.0,92.5 L205.0,92.8 L205.0,93.1 L205.0,93.4 L205.0,93.7 L204.9,94.0 L204.9,94.2 L204.8,94.4 L204.6,94.6 L204.5,94.7" fill="none" stroke="#6aeeec" stroke-width="2.60" stroke-linecap="round" stroke-linejoin="round"/>
<path d="M199.7,74.3 L200.0,74.0 L200.4,73.8 L200.9,73.7 L201.3,73.5 L201.7,73.4 L202.2,73.3 L202.7,73.3 L203.2,73.2 L203.7,73.3 L204.2,73.3 L204.7,73.4 L205.2,73.5 L205.7,73.6 L206.2,73.7 L206.7,73.9 L207.3,74.1 L207.8,74.4 L208.3,74.6 L208.8,74.9 L209.3,75.2 L209.8,75.6 L210.3,75.9 L210.8,76.3 L211.2,76.7 L211.7,77.1 L212.1,77.5 L212.6,77.9 L213.0,78.3 L213.4,78.8 L213.7,79.2 L214.1,79.7 L214.4,80.2 L214.8,80.6 L215.1,81.1 L215.3,81.5 L215.6,82.0 L215.8,82.4 L216.0,82.9 L216.2,83.3 L216.4,83.7 L216.5,84.2 L216.6,84.6 L216.7,84.9 L216.8,85.3 L216.8,85.6 L216.8,86.0 L216.8,86.3 L216.8,86.5 L216.7,86.8 L216.6,87.0 L216.6,87.2 L216.4,87.4 L216.3,87.5 L216.1,87.7" fill="none" stroke="#34acac" stroke-width="3.60" stroke-linecap="round" stroke-linejoin="round"/>
<path d="M199.7,74.3 L200.0,74.0 L200.4,73.8 L200.9,73.7 L201.3,73.5 L201.7,73.4 L202.2,73.3 L202.7,73.3 L203.2,73.2 L203.7,73.3 L204.2,73.3 L204.7,73.4 L205.2,73.5 L205.7,73.6 L206.2,73.7 L206.7,73.9 L207.3,74.1 L207.8,74.4 L208.3,74.6 L208.8,74.9 L209.3,75.2 L209.8,75.6 L210.3,75.9 L210.8,76.3 L211.2,76.7 L211.7,77.1 L212.1,77.5 L212.6,77.9 L213.0,78.3 L213.4,78.8 L213.7,79.2 L214.1,79.7 L214.4,80.2 L214.8,80.6 L215.1,81.1 L215.3,81.5 L215.6,82.0 L215.8,82.4 L216.0,82.9 L216.2,83.3 L216.4,83.7 L216.5,84.2 L216.6,84.6 L216.7,84.9 L216.8,85.3 L216.8,85.6 L216.8,86.0 L216.8,86.3 L216.8,86.5 L216.7,86.8 L216.6,87.0 L216.6,87.2 L216.4,87.4 L216.3,87.5 L216.1,87.7" fill="none" stroke="#6aeeec" stroke-width="2.60" stroke-linecap="round" stroke-linejoin="round"/>
<path d="M211.4,67.2 L211.8,66.9 L212.2,66.7 L212.6,66.5 L213.0,66.4 L213.5,66.3 L213.9,66.2 L214.4,66.1 L214.9,66.1 L215.4,66.1 L215.9,66.1 L216.4,66.2 L216.9,66.3 L217.4,66.4 L217.9,66.6 L218.4,66.8 L219.0,67.0 L219.5,67.2 L220.0,67.5 L220.5,67.7 L221.0,68.1 L221.5,68.4 L222.0,68.7 L222.5,69.1 L223.0,69.5 L223.4,69.9 L223.9,70.3 L224.3,70.7 L224.7,71.1 L225.1,71.6 L225.5,72.0 L225.8,72.5 L226.2,73.0 L226.5,73.4 L226.8,73.9 L227.1,74.3 L227.3,74.8 L227.6,75.2 L227.8,75.7 L228.0,76.1 L228.1,76.5 L228.3,77.0 L228.4,77.4 L228.5,77.7 L228.5,78.1 L228.6,78.4 L228.6,78.8 L228.6,79.1 L228.6,79.4 L228.5,79.6 L228.4,79.8 L228.4,80.1 L228.2,80.2 L228.1,80.4 L228.0,80.5" fill="none" stroke="#34acac" stroke-width="3.60" stroke-linecap="round" stroke-linejoin="round"/>
<path d="M211.4,67.2 L211.8,66.9 L212.2,66.7 L212.6,66.5 L213.0,66.4 L213.5,66.3 L213.9,66.2 L214.4,66.1 L214.9,66.1 L215.4,66.1 L215.9,66.1 L216.4,66.2 L216.9,66.3 L217.4,66.4 L217.9,66.6 L218.4,66.8 L219.0,67.0 L219.5,67.2 L220.0,67.5 L220.5,67.7 L221.0,68.1 L221.5,68.4 L222.0,68.7 L222.5,69.1 L223.0,69.5 L223.4,69.9 L223.9,70.3 L224.3,70.7 L224.7,71.1 L225.1,71.6 L225.5,72.0 L225.8,72.5 L226.2,73.0 L226.5,73.4 L226.8,73.9 L227.1,74.3 L227.3,74.8 L227.6,75.2 L227.8,75.7 L228.0,76.1 L228.1,76.5 L228.3,77.0 L228.4,77.4 L228.5,77.7 L228.5,78.1 L228.6,78.4 L228.6,78.8 L228.6,79.1 L228.6,79.4 L228.5,79.6 L228.4,79.8 L228.4,80.1 L228.2,80.2 L228.1,80.4 L228.0,80.5" fill="none" stroke="#6aeeec" stroke-width="2.60" stroke-linecap="round" stroke-linejoin="round"/>
<circle cx="228.2" cy="81.8" r="6.1" fill="#2e9640"/>
<circle cx="224" cy="75.5" r="7.6" fill="#2e9640"/>
<circle cx="237.2" cy="66" r="6.6" fill="#2e9640"/>
<circle cx="230.9" cy="72.3" r="9.6" fill="#2e9640"/>
<circle cx="228.2" cy="81.8" r="5.5" fill="url(#gs)"/>
<circle cx="224.0" cy="75.5" r="7.0" fill="url(#gs)"/>
<circle cx="237.2" cy="66.0" r="6.0" fill="url(#gs)"/>
<circle cx="230.9" cy="72.3" r="9.0" fill="url(#gs)"/>
<path d="M258.3,66.3 L257.8,66.2 L257.0,66.2 L256.0,66.3 L254.8,66.4 L253.4,66.6 L251.9,66.8 L250.2,67.2 L248.4,67.6 L246.6,68.2 L244.7,68.8 L242.9,69.6 L241.2,70.5 L239.6,71.4 L238.1,72.4 L236.7,73.6 L235.6,74.8 L234.7,76.0 L234.0,77.3 L233.6,78.6" fill="none" stroke="#34acac" stroke-width="4.10" stroke-linecap="round" stroke-linejoin="round"/>
<path d="M258.3,66.3 L257.8,66.2 L257.0,66.2 L256.0,66.3 L254.8,66.4 L253.4,66.6 L251.9,66.8 L250.2,67.2 L248.4,67.6 L246.6,68.2 L244.7,68.8 L242.9,69.6 L241.2,70.5 L239.6,71.4 L238.1,72.4 L236.7,73.6 L235.6,74.8 L234.7,76.0 L234.0,77.3 L233.6,78.6" fill="none" stroke="#55d2d0" stroke-width="3.20" stroke-linecap="round" stroke-linejoin="round"/>
<path d="M258.5,93.5 L258.4,93.5 L258.1,93.4 L257.6,93.4 L256.7,93.4 L255.7,93.5 L254.4,93.6 L253.0,93.8 L251.4,94.1 L249.7,94.5 L247.9,95.0 L246.1,95.6 L244.2,96.2 L242.4,97.0 L240.7,97.9 L239.1,98.9 L237.7,100.0 L236.4,101.1 L235.3,102.3 L234.5,103.6 L233.9,104.9 L233.6,106.2" fill="none" stroke="#34acac" stroke-width="4.10" stroke-linecap="round" stroke-linejoin="round"/>
<path d="M258.5,93.5 L258.4,93.5 L258.1,93.4 L257.6,93.4 L256.7,93.4 L255.7,93.5 L254.4,93.6 L253.0,93.8 L251.4,94.1 L249.7,94.5 L247.9,95.0 L246.1,95.6 L244.2,96.2 L242.4,97.0 L240.7,97.9 L239.1,98.9 L237.7,100.0 L236.4,101.1 L235.3,102.3 L234.5,103.6 L233.9,104.9 L233.6,106.2" fill="none" stroke="#55d2d0" stroke-width="3.20" stroke-linecap="round" stroke-linejoin="round"/>
<path d="M258.5,120.7 L258.4,120.7 L258.0,120.6 L257.4,120.6 L256.5,120.6 L255.3,120.7 L254.0,120.9 L252.5,121.1 L250.9,121.4 L249.2,121.8 L247.4,122.3 L245.5,122.9 L243.7,123.7 L241.9,124.5 L240.2,125.4 L238.7,126.4 L237.3,127.5 L236.0,128.6 L235.0,129.9 L234.3,131.1 L233.8,132.4 L233.5,133.8" fill="none" stroke="#34acac" stroke-width="4.10" stroke-linecap="round" stroke-linejoin="round"/>
<path d="M258.5,120.7 L258.4,120.7 L258.0,120.6 L257.4,120.6 L256.5,120.6 L255.3,120.7 L254.0,120.9 L252.5,121.1 L250.9,121.4 L249.2,121.8 L247.4,122.3 L245.5,122.9 L243.7,123.7 L241.9,124.5 L240.2,125.4 L238.7,126.4 L237.3,127.5 L236.0,128.6 L235.0,129.9 L234.3,131.1 L233.8,132.4 L233.5,133.8" fill="none" stroke="#55d2d0" stroke-width="3.20" stroke-linecap="round" stroke-linejoin="round"/>
<path d="M258.4,148.0 L258.5,147.9 L258.3,147.8 L257.8,147.8 L257.1,147.8 L256.2,147.8 L255.0,147.9 L253.6,148.1 L252.1,148.4 L250.4,148.7 L248.6,149.1 L246.8,149.7 L245.0,150.3 L243.2,151.1 L241.4,151.9 L239.8,152.9 L238.2,153.9 L236.9,155.0 L235.7,156.2 L234.8,157.4 L234.1,158.7 L233.7,160.0 L233.5,161.3" fill="none" stroke="#34acac" stroke-width="4.10" stroke-linecap="round" stroke-linejoin="round"/>
<path d="M258.4,148.0 L258.5,147.9 L258.3,147.8 L257.8,147.8 L257.1,147.8 L256.2,147.8 L255.0,147.9 L253.6,148.1 L252.1,148.4 L250.4,148.7 L248.6,149.1 L246.8,149.7 L245.0,150.3 L243.2,151.1 L241.4,151.9 L239.8,152.9 L238.2,153.9 L236.9,155.0 L235.7,156.2 L234.8,157.4 L234.1,158.7 L233.7,160.0 L233.5,161.3" fill="none" stroke="#55d2d0" stroke-width="3.20" stroke-linecap="round" stroke-linejoin="round"/>
<path d="M258.5,175.1 L258.5,175.1 L258.2,175.0 L257.7,175.0 L256.9,175.0 L255.8,175.1 L254.6,175.2 L253.2,175.4 L251.6,175.6 L249.9,176.0 L248.1,176.5 L246.3,177.1 L244.5,177.7 L242.7,178.5 L240.9,179.4 L239.3,180.3 L237.8,181.4 L236.5,182.5 L235.4,183.7 L234.6,185.0 L234.0,186.3 L233.6,187.6" fill="none" stroke="#34acac" stroke-width="4.10" stroke-linecap="round" stroke-linejoin="round"/>
<path d="M258.5,175.1 L258.5,175.1 L258.2,175.0 L257.7,175.0 L256.9,175.0 L255.8,175.1 L254.6,175.2 L253.2,175.4 L251.6,175.6 L249.9,176.0 L248.1,176.5 L246.3,177.1 L244.5,177.7 L242.7,178.5 L240.9,179.4 L239.3,180.3 L237.8,181.4 L236.5,182.5 L235.4,183.7 L234.6,185.0 L234.0,186.3 L233.6,187.6" fill="none" stroke="#55d2d0" stroke-width="3.20" stroke-linecap="round" stroke-linejoin="round"/>
<path d="M258.5,202.3 L258.4,202.2 L258.1,202.2 L257.5,202.2 L256.6,202.2 L255.5,202.3 L254.2,202.4 L252.7,202.6 L251.1,202.9 L249.4,203.3 L247.6,203.8 L245.8,204.4 L243.9,205.1 L242.1,205.9 L240.4,206.8 L238.9,207.8 L237.4,208.9 L236.2,210.0 L235.2,211.3 L234.4,212.5 L233.8,213.8 L233.5,215.2" fill="none" stroke="#34acac" stroke-width="4.10" stroke-linecap="round" stroke-linejoin="round"/>
<path d="M258.5,202.3 L258.4,202.2 L258.1,202.2 L257.5,202.2 L256.6,202.2 L255.5,202.3 L254.2,202.4 L252.7,202.6 L251.1,202.9 L249.4,203.3 L247.6,203.8 L245.8,204.4 L243.9,205.1 L242.1,205.9 L240.4,206.8 L238.9,207.8 L237.4,208.9 L236.2,210.0 L235.2,211.3 L234.4,212.5 L233.8,213.8 L233.5,215.2" fill="none" stroke="#55d2d0" stroke-width="3.20" stroke-linecap="round" stroke-linejoin="round"/>
<path d="M258.4,229.5 L258.5,229.5 L258.3,229.4 L257.9,229.4 L257.2,229.4 L256.3,229.4 L255.1,229.5 L253.8,229.7 L252.3,229.9 L250.6,230.2 L248.9,230.7 L247.1,231.2 L245.2,231.8 L243.4,232.5 L241.6,233.4 L240.0,234.3 L238.4,235.3 L237.1,236.4 L235.9,237.6 L234.9,239.2 L234.2,241.0 L233.7,242.9 L233.5,244.9" fill="none" stroke="#34acac" stroke-width="4.10" stroke-linecap="round" stroke-linejoin="round"/>
<path d="M258.4,229.5 L258.5,229.5 L258.3,229.4 L257.9,229.4 L257.2,229.4 L256.3,229.4 L255.1,229.5 L253.8,229.7 L252.3,229.9 L250.6,230.2 L248.9,230.7 L247.1,231.2 L245.2,231.8 L243.4,232.5 L241.6,233.4 L240.0,234.3 L238.4,235.3 L237.1,236.4 L235.9,237.6 L234.9,239.2 L234.2,241.0 L233.7,242.9 L233.5,244.9" fill="none" stroke="#55d2d0" stroke-width="3.20" stroke-linecap="round" stroke-linejoin="round"/>
<path d="M258.4,265.1 L258.5,265.1 L258.2,265.0 L257.7,264.9" fill="none" stroke="#34acac" stroke-width="4.10" stroke-linecap="round" stroke-linejoin="round"/>
<path d="M258.4,265.1 L258.5,265.1 L258.2,265.0 L257.7,264.9" fill="none" stroke="#55d2d0" stroke-width="3.20" stroke-linecap="round" stroke-linejoin="round"/>
<path d="M233.6,78.6 L233.5,79.9 L233.6,81.3 L234.0,82.6 L234.7,83.9 L235.6,85.1 L236.7,86.3 L238.1,87.4 L239.6,88.5 L241.2,89.4 L243.0,90.3 L244.8,91.0 L246.6,91.7 L248.4,92.2 L250.2,92.7 L251.9,93.0 L253.4,93.3 L254.8,93.5 L256.0,93.6 L257.0,93.6 L257.8,93.6 L258.3,93.6 L258.5,93.5" fill="none" stroke="#34acac" stroke-width="7.00" stroke-linecap="round" stroke-linejoin="round"/>
<path d="M233.6,78.6 L233.5,79.9 L233.6,81.3 L234.0,82.6 L234.7,83.9 L235.6,85.1 L236.7,86.3 L238.1,87.4 L239.6,88.5 L241.2,89.4 L243.0,90.3 L244.8,91.0 L246.6,91.7 L248.4,92.2 L250.2,92.7 L251.9,93.0 L253.4,93.3 L254.8,93.5 L256.0,93.6 L257.0,93.6 L257.8,93.6 L258.3,93.6 L258.5,93.5" fill="none" stroke="#6aeeec" stroke-width="6.00" stroke-linecap="round" stroke-linejoin="round"/>
<path d="M233.6,106.2 L233.5,107.5 L233.7,108.8 L234.2,110.2 L234.9,111.4 L235.9,112.7 L237.1,113.8 L238.5,114.9 L240.0,115.9 L241.7,116.9 L243.5,117.7 L245.3,118.4 L247.1,119.0 L248.9,119.6 L250.7,120.0 L252.3,120.3 L253.9,120.6 L255.2,120.7 L256.3,120.8 L257.3,120.8 L257.9,120.8 L258.3,120.8 L258.5,120.7" fill="none" stroke="#34acac" stroke-width="7.00" stroke-linecap="round" stroke-linejoin="round"/>
<path d="M233.6,106.2 L233.5,107.5 L233.7,108.8 L234.2,110.2 L234.9,111.4 L235.9,112.7 L237.1,113.8 L238.5,114.9 L240.0,115.9 L241.7,116.9 L243.5,117.7 L245.3,118.4 L247.1,119.0 L248.9,119.6 L250.7,120.0 L252.3,120.3 L253.9,120.6 L255.2,120.7 L256.3,120.8 L257.3,120.8 L257.9,120.8 L258.3,120.8 L258.5,120.7" fill="none" stroke="#6aeeec" stroke-width="6.00" stroke-linecap="round" stroke-linejoin="round"/>
<path d="M233.5,133.8 L233.5,135.1 L233.8,136.4 L234.4,137.7 L235.2,139.0 L236.2,140.2 L237.5,141.3 L238.9,142.4 L240.5,143.4 L242.2,144.3 L244.0,145.1 L245.8,145.8 L247.7,146.4 L249.5,146.9 L251.2,147.3 L252.8,147.6 L254.3,147.8 L255.5,147.9 L256.6,148.0 L257.5,148.0 L258.1,148.0 L258.4,148.0" fill="none" stroke="#34acac" stroke-width="7.00" stroke-linecap="round" stroke-linejoin="round"/>
<path d="M233.5,133.8 L233.5,135.1 L233.8,136.4 L234.4,137.7 L235.2,139.0 L236.2,140.2 L237.5,141.3 L238.9,142.4 L240.5,143.4 L242.2,144.3 L244.0,145.1 L245.8,145.8 L247.7,146.4 L249.5,146.9 L251.2,147.3 L252.8,147.6 L254.3,147.8 L255.5,147.9 L256.6,148.0 L257.5,148.0 L258.1,148.0 L258.4,148.0" fill="none" stroke="#6aeeec" stroke-width="6.00" stroke-linecap="round" stroke-linejoin="round"/>
<path d="M233.5,161.3 L233.6,162.7 L234.0,164.0 L234.6,165.3 L235.5,166.5 L236.6,167.7 L237.9,168.9 L239.4,169.9 L241.0,170.9 L242.7,171.7 L244.5,172.5 L246.4,173.2 L248.2,173.7 L250.0,174.2 L251.7,174.6 L253.2,174.9 L254.6,175.0 L255.9,175.2 L256.9,175.2 L257.7,175.2 L258.2,175.2 L258.5,175.1" fill="none" stroke="#34acac" stroke-width="7.00" stroke-linecap="round" stroke-linejoin="round"/>
<path d="M233.5,161.3 L233.6,162.7 L234.0,164.0 L234.6,165.3 L235.5,166.5 L236.6,167.7 L237.9,168.9 L239.4,169.9 L241.0,170.9 L242.7,171.7 L244.5,172.5 L246.4,173.2 L248.2,173.7 L250.0,174.2 L251.7,174.6 L253.2,174.9 L254.6,175.0 L255.9,175.2 L256.9,175.2 L257.7,175.2 L258.2,175.2 L258.5,175.1" fill="none" stroke="#6aeeec" stroke-width="6.00" stroke-linecap="round" stroke-linejoin="round"/>
<path d="M233.6,187.6 L233.5,188.9 L233.7,190.2 L234.1,191.6 L234.8,192.8 L235.8,194.1 L236.9,195.3 L238.3,196.4 L239.8,197.4 L241.5,198.3 L243.2,199.2 L245.1,199.9 L246.9,200.5 L248.7,201.1 L250.5,201.5 L252.1,201.9 L253.7,202.1 L255.0,202.3 L256.2,202.4 L257.1,202.4 L257.9,202.4 L258.3,202.4 L258.5,202.3" fill="none" stroke="#34acac" stroke-width="7.00" stroke-linecap="round" stroke-linejoin="round"/>
<path d="M233.6,187.6 L233.5,188.9 L233.7,190.2 L234.1,191.6 L234.8,192.8 L235.8,194.1 L236.9,195.3 L238.3,196.4 L239.8,197.4 L241.5,198.3 L243.2,199.2 L245.1,199.9 L246.9,200.5 L248.7,201.1 L250.5,201.5 L252.1,201.9 L253.7,202.1 L255.0,202.3 L256.2,202.4 L257.1,202.4 L257.9,202.4 L258.3,202.4 L258.5,202.3" fill="none" stroke="#6aeeec" stroke-width="6.00" stroke-linecap="round" stroke-linejoin="round"/>
<path d="M233.5,215.2 L233.5,216.5 L233.8,217.8 L234.3,219.1 L235.1,220.4 L236.1,221.6 L237.3,222.8 L238.7,223.9 L240.3,224.9 L242.0,225.8 L243.8,226.6 L245.6,227.3 L247.4,227.9 L249.2,228.4 L251.0,228.8 L252.6,229.1 L254.1,229.4 L255.4,229.5 L256.5,229.6 L257.4,229.6 L258.0,229.6 L258.4,229.5" fill="none" stroke="#34acac" stroke-width="7.00" stroke-linecap="round" stroke-linejoin="round"/>
<path d="M233.5,215.2 L233.5,216.5 L233.8,217.8 L234.3,219.1 L235.1,220.4 L236.1,221.6 L237.3,222.8 L238.7,223.9 L240.3,224.9 L242.0,225.8 L243.8,226.6 L245.6,227.3 L247.4,227.9 L249.2,228.4 L251.0,228.8 L252.6,229.1 L254.1,229.4 L255.4,229.5 L256.5,229.6 L257.4,229.6 L258.0,229.6 L258.4,229.5" fill="none" stroke="#6aeeec" stroke-width="6.00" stroke-linecap="round" stroke-linejoin="round"/>
<path d="M233.5,244.9 L233.6,246.8 L233.9,248.7 L234.5,250.6 L235.3,252.4 L236.4,254.2 L237.7,255.8 L239.2,257.4 L240.8,258.8 L242.5,260.1 L244.3,261.2 L246.1,262.2 L247.9,263.0 L249.7,263.7 L251.4,264.3 L253.0,264.7 L254.5,265.0 L255.7,265.2 L256.8,265.2 L257.6,265.3 L258.1,265.2 L258.4,265.1" fill="none" stroke="#34acac" stroke-width="7.00" stroke-linecap="round" stroke-linejoin="round"/>
<path d="M233.5,244.9 L233.6,246.8 L233.9,248.7 L234.5,250.6 L235.3,252.4 L236.4,254.2 L237.7,255.8 L239.2,257.4 L240.8,258.8 L242.5,260.1 L244.3,261.2 L246.1,262.2 L247.9,263.0 L249.7,263.7 L251.4,264.3 L253.0,264.7 L254.5,265.0 L255.7,265.2 L256.8,265.2 L257.6,265.3 L258.1,265.2 L258.4,265.1" fill="none" stroke="#6aeeec" stroke-width="6.00" stroke-linecap="round" stroke-linejoin="round"/>
<circle cx="171" cy="205" r="6.1" fill="#2e9640"/>
<circle cx="162.8" cy="211.3" r="6.199999999999999" fill="#2e9640"/>
<circle cx="167.2" cy="214.2" r="6.199999999999999" fill="#2e9640"/>
<circle cx="174.8" cy="210.5" r="6.8" fill="#2e9640"/>
<circle cx="178.1" cy="201" r="7.199999999999999" fill="#2e9640"/>
<circle cx="167.5" cy="197.4" r="7.8999999999999995" fill="#2e9640"/>
<circle cx="171.0" cy="205.0" r="5.5" fill="url(#gs)"/>
<circle cx="162.8" cy="211.3" r="5.6" fill="url(#gs)"/>
<circle cx="167.2" cy="214.2" r="5.6" fill="url(#gs)"/>
<circle cx="174.8" cy="210.5" r="6.2" fill="url(#gs)"/>
<circle cx="178.1" cy="201.0" r="6.6" fill="url(#gs)"/>
<circle cx="167.5" cy="197.4" r="7.3" fill="url(#gs)"/>
<text x="54.6" y="129.7" font-size="16" fill="#e2da52" stroke="#e2da52" stroke-width="2.2" stroke-linejoin="round" textLength="31.6" lengthAdjust="spacingAndGlyphs">M3a</text><text x="54.6" y="129.7" font-size="16" fill="#1e1508" stroke="#1e1508" stroke-width="0.6" stroke-linejoin="round" textLength="31.6" lengthAdjust="spacingAndGlyphs">M3a</text>
<text x="115.5" y="81.7" font-size="16" fill="#e2da52" stroke="#e2da52" stroke-width="2.2" stroke-linejoin="round" textLength="31.3" lengthAdjust="spacingAndGlyphs">M5a</text><text x="115.5" y="81.7" font-size="16" fill="#1e1508" stroke="#1e1508" stroke-width="0.6" stroke-linejoin="round" textLength="31.3" lengthAdjust="spacingAndGlyphs">M5a</text>
<text x="179.3" y="61.3" font-size="16" fill="#e2da52" stroke="#e2da52" stroke-width="2.2" stroke-linejoin="round" textLength="31.9" lengthAdjust="spacingAndGlyphs">M6a</text><text x="179.3" y="61.3" font-size="16" fill="#1e1508" stroke="#1e1508" stroke-width="0.6" stroke-linejoin="round" textLength="31.9" lengthAdjust="spacingAndGlyphs">M6a</text>
<text x="227.3" y="52.6" font-size="16" fill="#e2da52" stroke="#e2da52" stroke-width="2.2" stroke-linejoin="round" textLength="35.6" lengthAdjust="spacingAndGlyphs">P511</text><text x="227.3" y="52.6" font-size="16" fill="#1e1508" stroke="#1e1508" stroke-width="0.6" stroke-linejoin="round" textLength="35.6" lengthAdjust="spacingAndGlyphs">P511</text>
<text x="165.8" y="142.0" font-size="16" fill="#e2da52" stroke="#e2da52" stroke-width="2.2" stroke-linejoin="round" textLength="39.7" lengthAdjust="spacingAndGlyphs">G480</text><text x="165.8" y="142.0" font-size="16" fill="#1e1508" stroke="#1e1508" stroke-width="0.6" stroke-linejoin="round" textLength="39.7" lengthAdjust="spacingAndGlyphs">G480</text>
<text x="84.5" y="185.9" font-size="16" fill="#e2da52" stroke="#e2da52" stroke-width="2.2" stroke-linejoin="round" textLength="37.4" lengthAdjust="spacingAndGlyphs">P393</text><text x="84.5" y="185.9" font-size="16" fill="#1e1508" stroke="#1e1508" stroke-width="0.6" stroke-linejoin="round" textLength="37.4" lengthAdjust="spacingAndGlyphs">P393</text>
<text x="109.8" y="201.3" font-size="16" fill="#e2da52" stroke="#e2da52" stroke-width="2.2" stroke-linejoin="round" textLength="31.1" lengthAdjust="spacingAndGlyphs">M4a</text><text x="109.8" y="201.3" font-size="16" fill="#1e1508" stroke="#1e1508" stroke-width="0.6" stroke-linejoin="round" textLength="31.1" lengthAdjust="spacingAndGlyphs">M4a</text>
<text x="156.0" y="237.8" font-size="16" fill="#e2da52" stroke="#e2da52" stroke-width="2.2" stroke-linejoin="round" textLength="37.2" lengthAdjust="spacingAndGlyphs">P443</text><text x="156.0" y="237.8" font-size="16" fill="#1e1508" stroke="#1e1508" stroke-width="0.6" stroke-linejoin="round" textLength="37.2" lengthAdjust="spacingAndGlyphs">P443</text>
<text x="256.4" y="166.7" font-size="16" fill="#e2da52" stroke="#e2da52" stroke-width="2.2" stroke-linejoin="round" textLength="22.4" lengthAdjust="spacingAndGlyphs">M0</text><text x="256.4" y="166.7" font-size="16" fill="#1e1508" stroke="#1e1508" stroke-width="0.6" stroke-linejoin="round" textLength="22.4" lengthAdjust="spacingAndGlyphs">M0</text>
<defs>
<radialGradient id="gc" cx="0.42" cy="0.38" r="0.62"><stop offset="0" stop-color="#ffffff"/><stop offset="0.55" stop-color="#fafafa"/><stop offset="0.82" stop-color="#f0f0f0"/><stop offset="0.94" stop-color="#dddddd"/><stop offset="1" stop-color="#c6c6c6"/></radialGradient>
<clipPath id="clipC"><path d="M51.3,332 L293.5,332 L293.5,598 L19.2,598 L19.2,486 L19.2,486.0C19.9,485.0 20.8,483.5 23.4,480.0C26.0,476.5 31.1,469.1 35.0,465.0C38.9,460.9 42.8,458.0 46.7,455.7C50.6,453.4 55.3,452.9 58.4,451.0C61.5,449.1 63.1,445.7 65.4,444.0C67.7,442.3 70.2,441.9 72.0,441.0C73.8,440.1 76.1,440.3 76.1,438.7C76.1,437.1 73.7,434.4 72.0,431.5C70.3,428.6 67.3,424.6 65.8,421.2C64.2,417.8 63.1,413.8 62.7,410.9C62.4,408.0 64.7,405.3 63.7,403.6C62.7,401.9 58.4,402.4 56.5,400.5C54.6,398.6 52.6,395.1 52.3,392.3C51.9,389.6 52.8,386.1 54.4,384.0C56.0,381.9 58.9,380.8 61.6,379.9C64.4,379.0 69.2,380.5 70.9,378.8C72.6,377.1 72.5,372.4 72.0,369.6C71.5,366.9 70.2,364.4 67.8,362.3C65.4,360.2 60.1,359.4 57.5,357.2C54.9,355.0 53.5,351.7 52.3,348.9C51.1,346.1 50.5,343.4 50.3,340.6C50.1,337.8 51.1,333.4 51.3,332.0 Z"/></clipPath>
<filter id="blC" x="-10%" y="-10%" width="120%" height="120%"><feGaussianBlur stdDeviation="1.0"/></filter>
</defs>
<defs>
<radialGradient id="schb"><stop offset="0" stop-color="#fff" stop-opacity="0.45"/><stop offset="0.5" stop-color="#fff" stop-opacity="0.392"/><stop offset="0.8" stop-color="#fff" stop-opacity="0.270"/><stop offset="1" stop-color="#fff" stop-opacity="0"/></radialGradient>
<radialGradient id="schs"><stop offset="0" stop-color="#fff" stop-opacity="0.08"/><stop offset="0.5" stop-color="#fff" stop-opacity="0.070"/><stop offset="0.8" stop-color="#fff" stop-opacity="0.048"/><stop offset="1" stop-color="#fff" stop-opacity="0"/></radialGradient>
<clipPath id="scclip"><path d="M51.3,332 L293.5,332 L293.5,598 L19.2,598 L19.2,486 L19.2,486.0C19.9,485.0 20.8,483.5 23.4,480.0C26.0,476.5 31.1,469.1 35.0,465.0C38.9,460.9 42.8,458.0 46.7,455.7C50.6,453.4 55.3,452.9 58.4,451.0C61.5,449.1 63.1,445.7 65.4,444.0C67.7,442.3 70.2,441.9 72.0,441.0C73.8,440.1 76.1,440.3 76.1,438.7C76.1,437.1 73.7,434.4 72.0,431.5C70.3,428.6 67.3,424.6 65.8,421.2C64.2,417.8 63.1,413.8 62.7,410.9C62.4,408.0 64.7,405.3 63.7,403.6C62.7,401.9 58.4,402.4 56.5,400.5C54.6,398.6 52.6,395.1 52.3,392.3C51.9,389.6 52.8,386.1 54.4,384.0C56.0,381.9 58.9,380.8 61.6,379.9C64.4,379.0 69.2,380.5 70.9,378.8C72.6,377.1 72.5,372.4 72.0,369.6C71.5,366.9 70.2,364.4 67.8,362.3C65.4,360.2 60.1,359.4 57.5,357.2C54.9,355.0 53.5,351.7 52.3,348.9C51.1,346.1 50.5,343.4 50.3,340.6C50.1,337.8 51.1,333.4 51.3,332.0 Z"/></clipPath>
<filter id="sclit" filterUnits="userSpaceOnUse" x="16" y="328" width="281" height="274" color-interpolation-filters="sRGB"><feGaussianBlur in="SourceAlpha" stdDeviation="2.6" result="ha"/><feDiffuseLighting in="ha" surfaceScale="5" diffuseConstant="1.08" lighting-color="#fff" result="lit"><feDistantLight azimuth="225" elevation="65"/></feDiffuseLighting><feColorMatrix in="ha" type="matrix" values="0 0 0 1 0  0 0 0 1 0  0 0 0 1 0  0 0 0 0 1" result="h"/><feGaussianBlur in="h" stdDeviation="3" result="hb"/><feComposite in="hb" in2="h" operator="arithmetic" k1="0" k2="4.5" k3="-4.5" k4="0" result="ao"/><feComposite in="lit" in2="ao" operator="arithmetic" k1="0" k2="1" k3="-1" k4="0" result="base"/></filter>
</defs>
<g clip-path="url(#scclip)"><g filter="url(#sclit)">
<path d="M51.3,310 L315,310 L315,620 L0,620 L0,486 L19.2,486 L19.2,486.0C19.9,485.0 20.8,483.5 23.4,480.0C26.0,476.5 31.1,469.1 35.0,465.0C38.9,460.9 42.8,458.0 46.7,455.7C50.6,453.4 55.3,452.9 58.4,451.0C61.5,449.1 63.1,445.7 65.4,444.0C67.7,442.3 70.2,441.9 72.0,441.0C73.8,440.1 76.1,440.3 76.1,438.7C76.1,437.1 73.7,434.4 72.0,431.5C70.3,428.6 67.3,424.6 65.8,421.2C64.2,417.8 63.1,413.8 62.7,410.9C62.4,408.0 64.7,405.3 63.7,403.6C62.7,401.9 58.4,402.4 56.5,400.5C54.6,398.6 52.6,395.1 52.3,392.3C51.9,389.6 52.8,386.1 54.4,384.0C56.0,381.9 58.9,380.8 61.6,379.9C64.4,379.0 69.2,380.5 70.9,378.8C72.6,377.1 72.5,372.4 72.0,369.6C71.5,366.9 70.2,364.4 67.8,362.3C65.4,360.2 60.1,359.4 57.5,357.2C54.9,355.0 53.5,351.7 52.3,348.9C51.1,346.1 50.5,343.4 50.3,340.6C50.1,337.8 51.1,333.4 51.3,332.0 L51.3,310 Z" fill="#fff" fill-opacity="0.12"/>
<circle cx="-3.5" cy="305.3" r="44.3" fill="url(#schb)"/>
<circle cx="42.1" cy="299.6" r="48.3" fill="url(#schb)"/>
<circle cx="111.5" cy="295.4" r="42.3" fill="url(#schb)"/>
<circle cx="156.6" cy="300.9" r="33.4" fill="url(#schb)"/>
<circle cx="193.6" cy="305.0" r="32.8" fill="url(#schb)"/>
<circle cx="255.2" cy="295.7" r="31.5" fill="url(#schb)"/>
<circle cx="298.0" cy="304.5" r="30.8" fill="url(#schb)"/>
<circle cx="-6.7" cy="343.0" r="47.2" fill="url(#schb)"/>
<circle cx="43.1" cy="342.7" r="42.9" fill="url(#schb)"/>
<circle cx="105.2" cy="335.0" r="49.3" fill="url(#schb)"/>
<circle cx="143.4" cy="332.2" r="31.7" fill="url(#schb)"/>
<circle cx="187.7" cy="339.6" r="41.3" fill="url(#schb)"/>
<circle cx="244.3" cy="337.2" r="34.8" fill="url(#schb)"/>
<circle cx="289.2" cy="332.1" r="38.6" fill="url(#schb)"/>
<circle cx="-11.8" cy="375.3" r="46.6" fill="url(#schb)"/>
<circle cx="35.4" cy="366.4" r="40.7" fill="url(#schb)"/>
<circle cx="81.3" cy="374.9" r="49.0" fill="url(#schb)"/>
<circle cx="141.7" cy="370.1" r="48.7" fill="url(#schb)"/>
<circle cx="189.3" cy="374.8" r="45.1" fill="url(#schb)"/>
<circle cx="244.4" cy="377.2" r="46.9" fill="url(#schb)"/>
<circle cx="293.1" cy="376.8" r="35.5" fill="url(#schb)"/>
<circle cx="-9.8" cy="416.7" r="34.9" fill="url(#schb)"/>
<circle cx="36.2" cy="426.6" r="31.3" fill="url(#schb)"/>
<circle cx="83.0" cy="421.0" r="29.1" fill="url(#schb)"/>
<circle cx="126.4" cy="424.5" r="33.2" fill="url(#schb)"/>
<circle cx="169.1" cy="425.6" r="37.3" fill="url(#schb)"/>
<circle cx="219.1" cy="416.2" r="38.9" fill="url(#schb)"/>
<circle cx="271.2" cy="424.1" r="48.9" fill="url(#schb)"/>
<circle cx="307.6" cy="424.7" r="37.6" fill="url(#schb)"/>
<circle cx="1.7" cy="461.3" r="46.7" fill="url(#schb)"/>
<circle cx="45.5" cy="459.3" r="44.0" fill="url(#schb)"/>
<circle cx="92.4" cy="467.7" r="31.2" fill="url(#schb)"/>
<circle cx="153.0" cy="459.9" r="41.8" fill="url(#schb)"/>
<circle cx="198.2" cy="466.3" r="34.0" fill="url(#schb)"/>
<circle cx="245.3" cy="464.2" r="45.3" fill="url(#schb)"/>
<circle cx="293.7" cy="464.3" r="44.7" fill="url(#schb)"/>
<circle cx="-8.3" cy="509.0" r="43.2" fill="url(#schb)"/>
<circle cx="41.3" cy="504.2" r="40.8" fill="url(#schb)"/>
<circle cx="91.7" cy="507.4" r="42.8" fill="url(#schb)"/>
<circle cx="143.3" cy="505.4" r="45.5" fill="url(#schb)"/>
<circle cx="198.1" cy="507.7" r="46.2" fill="url(#schb)"/>
<circle cx="263.0" cy="509.1" r="43.1" fill="url(#schb)"/>
<circle cx="303.6" cy="507.7" r="39.6" fill="url(#schb)"/>
<circle cx="-3.7" cy="541.3" r="43.8" fill="url(#schb)"/>
<circle cx="51.1" cy="544.3" r="40.8" fill="url(#schb)"/>
<circle cx="103.3" cy="547.9" r="45.0" fill="url(#schb)"/>
<circle cx="141.5" cy="547.1" r="31.5" fill="url(#schb)"/>
<circle cx="188.1" cy="539.8" r="43.1" fill="url(#schb)"/>
<circle cx="230.6" cy="540.9" r="33.0" fill="url(#schb)"/>
<circle cx="278.6" cy="539.7" r="32.0" fill="url(#schb)"/>
<circle cx="-10.3" cy="590.2" r="41.0" fill="url(#schb)"/>
<circle cx="30.2" cy="584.3" r="36.9" fill="url(#schb)"/>
<circle cx="73.7" cy="579.8" r="46.3" fill="url(#schb)"/>
<circle cx="128.0" cy="583.4" r="30.1" fill="url(#schb)"/>
<circle cx="182.9" cy="584.4" r="49.1" fill="url(#schb)"/>
<circle cx="233.8" cy="581.0" r="42.1" fill="url(#schb)"/>
<circle cx="292.8" cy="591.0" r="40.4" fill="url(#schb)"/>
<circle cx="-9.6" cy="625.8" r="28.0" fill="url(#schb)"/>
<circle cx="49.0" cy="629.7" r="31.1" fill="url(#schb)"/>
<circle cx="91.7" cy="622.5" r="37.5" fill="url(#schb)"/>
<circle cx="160.0" cy="629.9" r="36.4" fill="url(#schb)"/>
<circle cx="212.1" cy="624.9" r="33.7" fill="url(#schb)"/>
<circle cx="260.5" cy="624.9" r="35.0" fill="url(#schb)"/>
<circle cx="295.8" cy="626.4" r="38.5" fill="url(#schb)"/>
<circle cx="-7.6" cy="294.9" r="11.2" fill="url(#schs)"/>
<circle cx="6.6" cy="300.1" r="12.9" fill="url(#schs)"/>
<circle cx="23.2" cy="295.1" r="13.5" fill="url(#schs)"/>
<circle cx="44.1" cy="296.7" r="16.6" fill="url(#schs)"/>
<circle cx="71.8" cy="298.8" r="17.6" fill="url(#schs)"/>
<circle cx="100.9" cy="297.5" r="10.4" fill="url(#schs)"/>
<circle cx="111.8" cy="303.8" r="10.9" fill="url(#schs)"/>
<circle cx="133.5" cy="298.5" r="14.7" fill="url(#schs)"/>
<circle cx="148.0" cy="296.5" r="10.5" fill="url(#schs)"/>
<circle cx="173.9" cy="301.0" r="13.4" fill="url(#schs)"/>
<circle cx="200.2" cy="302.4" r="12.4" fill="url(#schs)"/>
<circle cx="215.4" cy="304.5" r="14.6" fill="url(#schs)"/>
<circle cx="244.2" cy="295.4" r="12.3" fill="url(#schs)"/>
<circle cx="254.4" cy="299.9" r="16.1" fill="url(#schs)"/>
<circle cx="278.2" cy="300.9" r="15.3" fill="url(#schs)"/>
<circle cx="302.1" cy="301.1" r="12.5" fill="url(#schs)"/>
<circle cx="325.6" cy="305.3" r="13.6" fill="url(#schs)"/>
<circle cx="-9.7" cy="325.2" r="15.6" fill="url(#schs)"/>
<circle cx="11.3" cy="321.3" r="12.3" fill="url(#schs)"/>
<circle cx="24.9" cy="314.7" r="13.7" fill="url(#schs)"/>
<circle cx="41.1" cy="316.3" r="16.1" fill="url(#schs)"/>
<circle cx="60.4" cy="318.7" r="17.0" fill="url(#schs)"/>
<circle cx="90.8" cy="323.7" r="17.1" fill="url(#schs)"/>
<circle cx="104.0" cy="323.9" r="13.3" fill="url(#schs)"/>
<circle cx="127.4" cy="316.1" r="11.2" fill="url(#schs)"/>
<circle cx="150.7" cy="316.5" r="13.9" fill="url(#schs)"/>
<circle cx="164.1" cy="320.1" r="13.4" fill="url(#schs)"/>
<circle cx="191.4" cy="320.7" r="15.5" fill="url(#schs)"/>
<circle cx="218.7" cy="322.7" r="10.4" fill="url(#schs)"/>
<circle cx="237.4" cy="318.1" r="16.4" fill="url(#schs)"/>
<circle cx="250.5" cy="314.1" r="15.1" fill="url(#schs)"/>
<circle cx="271.9" cy="313.9" r="11.3" fill="url(#schs)"/>
<circle cx="285.0" cy="317.7" r="11.2" fill="url(#schs)"/>
<circle cx="307.4" cy="315.1" r="17.0" fill="url(#schs)"/>
<circle cx="323.0" cy="314.8" r="12.8" fill="url(#schs)"/>
<circle cx="-13.2" cy="336.5" r="13.9" fill="url(#schs)"/>
<circle cx="15.1" cy="337.2" r="12.1" fill="url(#schs)"/>
<circle cx="27.7" cy="337.0" r="17.6" fill="url(#schs)"/>
<circle cx="49.2" cy="347.0" r="10.2" fill="url(#schs)"/>
<circle cx="70.6" cy="339.7" r="15.6" fill="url(#schs)"/>
<circle cx="91.5" cy="344.6" r="16.2" fill="url(#schs)"/>
<circle cx="114.2" cy="347.1" r="11.8" fill="url(#schs)"/>
<circle cx="138.8" cy="344.1" r="16.4" fill="url(#schs)"/>
<circle cx="151.5" cy="335.6" r="14.1" fill="url(#schs)"/>
<circle cx="166.6" cy="343.6" r="12.2" fill="url(#schs)"/>
<circle cx="200.3" cy="347.1" r="13.6" fill="url(#schs)"/>
<circle cx="217.3" cy="338.0" r="12.9" fill="url(#schs)"/>
<circle cx="240.1" cy="346.1" r="11.6" fill="url(#schs)"/>
<circle cx="264.8" cy="344.9" r="13.8" fill="url(#schs)"/>
<circle cx="284.7" cy="344.6" r="15.3" fill="url(#schs)"/>
<circle cx="299.5" cy="344.7" r="13.8" fill="url(#schs)"/>
<circle cx="328.3" cy="340.0" r="16.4" fill="url(#schs)"/>
<circle cx="-10.7" cy="358.6" r="11.4" fill="url(#schs)"/>
<circle cx="14.6" cy="366.8" r="16.5" fill="url(#schs)"/>
<circle cx="42.9" cy="363.4" r="15.3" fill="url(#schs)"/>
<circle cx="67.6" cy="364.6" r="10.1" fill="url(#schs)"/>
<circle cx="82.4" cy="367.3" r="17.5" fill="url(#schs)"/>
<circle cx="104.5" cy="360.3" r="11.7" fill="url(#schs)"/>
<circle cx="123.0" cy="361.9" r="14.7" fill="url(#schs)"/>
<circle cx="141.4" cy="362.3" r="17.3" fill="url(#schs)"/>
<circle cx="164.1" cy="367.8" r="17.2" fill="url(#schs)"/>
<circle cx="186.3" cy="357.1" r="14.3" fill="url(#schs)"/>
<circle cx="200.5" cy="366.4" r="11.5" fill="url(#schs)"/>
<circle cx="226.9" cy="363.5" r="13.8" fill="url(#schs)"/>
<circle cx="244.1" cy="366.2" r="14.1" fill="url(#schs)"/>
<circle cx="257.5" cy="360.2" r="14.5" fill="url(#schs)"/>
<circle cx="285.0" cy="366.0" r="14.1" fill="url(#schs)"/>
<circle cx="310.7" cy="362.9" r="13.5" fill="url(#schs)"/>
<circle cx="-8.6" cy="387.7" r="14.3" fill="url(#schs)"/>
<circle cx="19.9" cy="379.5" r="17.0" fill="url(#schs)"/>
<circle cx="40.3" cy="378.0" r="17.5" fill="url(#schs)"/>
<circle cx="48.3" cy="379.3" r="13.5" fill="url(#schs)"/>
<circle cx="73.6" cy="387.1" r="15.4" fill="url(#schs)"/>
<circle cx="89.6" cy="378.1" r="15.7" fill="url(#schs)"/>
<circle cx="109.2" cy="387.8" r="17.7" fill="url(#schs)"/>
<circle cx="138.4" cy="386.4" r="13.9" fill="url(#schs)"/>
<circle cx="150.3" cy="380.4" r="13.5" fill="url(#schs)"/>
<circle cx="170.7" cy="376.6" r="12.5" fill="url(#schs)"/>
<circle cx="183.8" cy="380.4" r="13.5" fill="url(#schs)"/>
<circle cx="206.6" cy="388.2" r="14.1" fill="url(#schs)"/>
<circle cx="231.0" cy="379.6" r="17.8" fill="url(#schs)"/>
<circle cx="249.4" cy="377.9" r="16.2" fill="url(#schs)"/>
<circle cx="276.2" cy="379.5" r="17.3" fill="url(#schs)"/>
<circle cx="290.7" cy="384.8" r="17.4" fill="url(#schs)"/>
<circle cx="309.0" cy="381.5" r="10.5" fill="url(#schs)"/>
<circle cx="325.1" cy="386.0" r="17.5" fill="url(#schs)"/>
<circle cx="-12.0" cy="401.3" r="16.9" fill="url(#schs)"/>
<circle cx="7.3" cy="398.8" r="17.4" fill="url(#schs)"/>
<circle cx="26.6" cy="399.2" r="11.9" fill="url(#schs)"/>
<circle cx="45.6" cy="400.9" r="11.6" fill="url(#schs)"/>
<circle cx="71.4" cy="399.4" r="12.3" fill="url(#schs)"/>
<circle cx="87.9" cy="397.4" r="10.1" fill="url(#schs)"/>
<circle cx="110.5" cy="402.9" r="14.4" fill="url(#schs)"/>
<circle cx="143.4" cy="402.4" r="10.9" fill="url(#schs)"/>
<circle cx="159.2" cy="403.3" r="16.7" fill="url(#schs)"/>
<circle cx="181.5" cy="407.2" r="17.9" fill="url(#schs)"/>
<circle cx="205.3" cy="401.4" r="15.1" fill="url(#schs)"/>
<circle cx="217.9" cy="406.1" r="11.0" fill="url(#schs)"/>
<circle cx="236.6" cy="407.3" r="11.3" fill="url(#schs)"/>
<circle cx="263.7" cy="400.1" r="15.4" fill="url(#schs)"/>
<circle cx="281.1" cy="402.6" r="13.7" fill="url(#schs)"/>
<circle cx="309.5" cy="403.8" r="17.7" fill="url(#schs)"/>
<circle cx="320.0" cy="401.5" r="17.7" fill="url(#schs)"/>
<circle cx="-11.8" cy="420.3" r="14.0" fill="url(#schs)"/>
<circle cx="2.9" cy="419.1" r="12.1" fill="url(#schs)"/>
<circle cx="21.9" cy="417.1" r="10.2" fill="url(#schs)"/>
<circle cx="49.1" cy="422.2" r="14.2" fill="url(#schs)"/>
<circle cx="68.0" cy="418.2" r="17.0" fill="url(#schs)"/>
<circle cx="97.8" cy="422.0" r="11.2" fill="url(#schs)"/>
<circle cx="116.3" cy="421.8" r="16.7" fill="url(#schs)"/>
<circle cx="130.6" cy="420.6" r="16.5" fill="url(#schs)"/>
<circle cx="159.6" cy="424.2" r="16.7" fill="url(#schs)"/>
<circle cx="180.0" cy="422.6" r="17.1" fill="url(#schs)"/>
<circle cx="191.7" cy="418.6" r="10.2" fill="url(#schs)"/>
<circle cx="213.8" cy="421.8" r="16.7" fill="url(#schs)"/>
<circle cx="235.3" cy="414.3" r="15.4" fill="url(#schs)"/>
<circle cx="259.4" cy="420.7" r="16.0" fill="url(#schs)"/>
<circle cx="284.8" cy="417.3" r="10.5" fill="url(#schs)"/>
<circle cx="301.5" cy="416.7" r="12.1" fill="url(#schs)"/>
<circle cx="322.0" cy="418.9" r="17.8" fill="url(#schs)"/>
<circle cx="-4.2" cy="434.7" r="14.9" fill="url(#schs)"/>
<circle cx="14.5" cy="437.4" r="12.0" fill="url(#schs)"/>
<circle cx="28.0" cy="437.0" r="10.1" fill="url(#schs)"/>
<circle cx="58.1" cy="437.2" r="15.5" fill="url(#schs)"/>
<circle cx="76.8" cy="435.2" r="13.7" fill="url(#schs)"/>
<circle cx="107.8" cy="445.0" r="11.6" fill="url(#schs)"/>
<circle cx="122.1" cy="445.4" r="13.7" fill="url(#schs)"/>
<circle cx="135.3" cy="445.1" r="12.1" fill="url(#schs)"/>
<circle cx="152.6" cy="440.0" r="14.7" fill="url(#schs)"/>
<circle cx="186.3" cy="439.9" r="11.1" fill="url(#schs)"/>
<circle cx="204.1" cy="444.5" r="15.6" fill="url(#schs)"/>
<circle cx="222.2" cy="439.6" r="10.2" fill="url(#schs)"/>
<circle cx="244.3" cy="437.9" r="12.4" fill="url(#schs)"/>
<circle cx="261.8" cy="442.8" r="16.7" fill="url(#schs)"/>
<circle cx="297.3" cy="442.3" r="11.0" fill="url(#schs)"/>
<circle cx="315.7" cy="438.5" r="12.3" fill="url(#schs)"/>
<circle cx="-11.8" cy="453.0" r="13.4" fill="url(#schs)"/>
<circle cx="5.3" cy="463.7" r="16.7" fill="url(#schs)"/>
<circle cx="26.5" cy="454.7" r="12.1" fill="url(#schs)"/>
<circle cx="50.7" cy="462.2" r="17.6" fill="url(#schs)"/>
<circle cx="73.7" cy="459.1" r="17.3" fill="url(#schs)"/>
<circle cx="94.4" cy="457.9" r="10.4" fill="url(#schs)"/>
<circle cx="112.6" cy="453.0" r="15.2" fill="url(#schs)"/>
<circle cx="140.1" cy="456.6" r="11.0" fill="url(#schs)"/>
<circle cx="165.1" cy="455.6" r="15.9" fill="url(#schs)"/>
<circle cx="182.7" cy="457.2" r="12.4" fill="url(#schs)"/>
<circle cx="196.1" cy="463.3" r="11.3" fill="url(#schs)"/>
<circle cx="225.5" cy="464.4" r="11.8" fill="url(#schs)"/>
<circle cx="237.4" cy="453.5" r="11.1" fill="url(#schs)"/>
<circle cx="257.4" cy="455.6" r="10.7" fill="url(#schs)"/>
<circle cx="285.2" cy="457.4" r="17.1" fill="url(#schs)"/>
<circle cx="300.9" cy="456.5" r="14.2" fill="url(#schs)"/>
<circle cx="324.6" cy="454.0" r="12.2" fill="url(#schs)"/>
<circle cx="-7.8" cy="474.5" r="11.7" fill="url(#schs)"/>
<circle cx="20.3" cy="481.7" r="13.6" fill="url(#schs)"/>
<circle cx="34.0" cy="480.0" r="10.2" fill="url(#schs)"/>
<circle cx="65.6" cy="471.5" r="13.8" fill="url(#schs)"/>
<circle cx="88.4" cy="481.8" r="17.4" fill="url(#schs)"/>
<circle cx="105.5" cy="473.3" r="12.0" fill="url(#schs)"/>
<circle cx="136.7" cy="480.2" r="15.5" fill="url(#schs)"/>
<circle cx="153.4" cy="478.1" r="16.1" fill="url(#schs)"/>
<circle cx="167.1" cy="482.5" r="16.3" fill="url(#schs)"/>
<circle cx="188.3" cy="474.5" r="12.4" fill="url(#schs)"/>
<circle cx="210.5" cy="472.3" r="15.6" fill="url(#schs)"/>
<circle cx="235.0" cy="474.2" r="14.7" fill="url(#schs)"/>
<circle cx="256.0" cy="477.0" r="10.1" fill="url(#schs)"/>
<circle cx="288.6" cy="477.2" r="15.2" fill="url(#schs)"/>
<circle cx="307.9" cy="480.0" r="12.0" fill="url(#schs)"/>
<circle cx="321.4" cy="479.6" r="10.2" fill="url(#schs)"/>
<circle cx="-9.9" cy="488.0" r="17.4" fill="url(#schs)"/>
<circle cx="14.9" cy="489.9" r="13.4" fill="url(#schs)"/>
<circle cx="36.7" cy="490.0" r="15.9" fill="url(#schs)"/>
<circle cx="66.2" cy="490.3" r="12.5" fill="url(#schs)"/>
<circle cx="78.1" cy="499.0" r="16.1" fill="url(#schs)"/>
<circle cx="98.2" cy="492.6" r="11.5" fill="url(#schs)"/>
<circle cx="120.0" cy="492.3" r="17.6" fill="url(#schs)"/>
<circle cx="138.0" cy="488.2" r="17.8" fill="url(#schs)"/>
<circle cx="163.7" cy="498.2" r="13.1" fill="url(#schs)"/>
<circle cx="187.5" cy="491.5" r="18.0" fill="url(#schs)"/>
<circle cx="203.1" cy="487.9" r="17.5" fill="url(#schs)"/>
<circle cx="221.3" cy="491.5" r="13.0" fill="url(#schs)"/>
<circle cx="237.8" cy="491.8" r="10.0" fill="url(#schs)"/>
<circle cx="271.6" cy="490.0" r="11.0" fill="url(#schs)"/>
<circle cx="289.4" cy="492.7" r="16.6" fill="url(#schs)"/>
<circle cx="300.6" cy="498.6" r="13.8" fill="url(#schs)"/>
<circle cx="324.8" cy="487.9" r="12.9" fill="url(#schs)"/>
<circle cx="-11.4" cy="508.8" r="10.3" fill="url(#schs)"/>
<circle cx="22.3" cy="518.8" r="12.1" fill="url(#schs)"/>
<circle cx="44.2" cy="515.5" r="12.2" fill="url(#schs)"/>
<circle cx="55.1" cy="511.4" r="15.7" fill="url(#schs)"/>
<circle cx="78.4" cy="515.7" r="16.0" fill="url(#schs)"/>
<circle cx="95.6" cy="513.8" r="10.2" fill="url(#schs)"/>
<circle cx="123.0" cy="511.1" r="17.6" fill="url(#schs)"/>
<circle cx="149.8" cy="510.2" r="13.9" fill="url(#schs)"/>
<circle cx="172.6" cy="517.3" r="15.9" fill="url(#schs)"/>
<circle cx="188.6" cy="512.4" r="12.6" fill="url(#schs)"/>
<circle cx="211.0" cy="517.1" r="10.6" fill="url(#schs)"/>
<circle cx="227.5" cy="514.7" r="10.5" fill="url(#schs)"/>
<circle cx="256.9" cy="519.9" r="17.8" fill="url(#schs)"/>
<circle cx="266.1" cy="514.0" r="10.7" fill="url(#schs)"/>
<circle cx="290.9" cy="513.1" r="13.6" fill="url(#schs)"/>
<circle cx="319.3" cy="518.2" r="15.4" fill="url(#schs)"/>
<circle cx="-4.5" cy="527.5" r="12.4" fill="url(#schs)"/>
<circle cx="15.1" cy="526.0" r="11.6" fill="url(#schs)"/>
<circle cx="36.6" cy="526.9" r="17.1" fill="url(#schs)"/>
<circle cx="55.7" cy="525.8" r="17.9" fill="url(#schs)"/>
<circle cx="85.6" cy="524.2" r="15.2" fill="url(#schs)"/>
<circle cx="104.5" cy="534.0" r="16.6" fill="url(#schs)"/>
<circle cx="112.3" cy="525.3" r="12.3" fill="url(#schs)"/>
<circle cx="147.7" cy="527.5" r="14.7" fill="url(#schs)"/>
<circle cx="164.3" cy="532.4" r="13.6" fill="url(#schs)"/>
<circle cx="193.8" cy="530.5" r="10.8" fill="url(#schs)"/>
<circle cx="206.6" cy="525.5" r="12.9" fill="url(#schs)"/>
<circle cx="231.2" cy="525.5" r="14.8" fill="url(#schs)"/>
<circle cx="247.7" cy="525.2" r="12.6" fill="url(#schs)"/>
<circle cx="268.2" cy="529.6" r="11.6" fill="url(#schs)"/>
<circle cx="280.0" cy="529.6" r="10.8" fill="url(#schs)"/>
<circle cx="299.6" cy="531.4" r="10.7" fill="url(#schs)"/>
<circle cx="321.5" cy="534.5" r="12.3" fill="url(#schs)"/>
<circle cx="-4.8" cy="553.5" r="13.3" fill="url(#schs)"/>
<circle cx="13.2" cy="544.0" r="11.6" fill="url(#schs)"/>
<circle cx="25.6" cy="551.4" r="17.2" fill="url(#schs)"/>
<circle cx="46.1" cy="543.5" r="17.1" fill="url(#schs)"/>
<circle cx="64.5" cy="552.5" r="14.4" fill="url(#schs)"/>
<circle cx="78.1" cy="547.6" r="15.0" fill="url(#schs)"/>
<circle cx="97.4" cy="552.7" r="12.3" fill="url(#schs)"/>
<circle cx="117.9" cy="553.2" r="13.9" fill="url(#schs)"/>
<circle cx="137.5" cy="553.3" r="11.0" fill="url(#schs)"/>
<circle cx="158.1" cy="546.2" r="10.4" fill="url(#schs)"/>
<circle cx="181.9" cy="543.5" r="15.0" fill="url(#schs)"/>
<circle cx="200.8" cy="551.7" r="11.8" fill="url(#schs)"/>
<circle cx="222.8" cy="546.3" r="11.5" fill="url(#schs)"/>
<circle cx="242.9" cy="544.5" r="13.1" fill="url(#schs)"/>
<circle cx="265.1" cy="548.3" r="17.2" fill="url(#schs)"/>
<circle cx="298.3" cy="543.0" r="10.3" fill="url(#schs)"/>
<circle cx="317.7" cy="545.2" r="14.4" fill="url(#schs)"/>
<circle cx="-9.2" cy="565.5" r="15.3" fill="url(#schs)"/>
<circle cx="7.5" cy="563.0" r="15.0" fill="url(#schs)"/>
<circle cx="30.8" cy="562.4" r="16.2" fill="url(#schs)"/>
<circle cx="47.5" cy="565.4" r="10.9" fill="url(#schs)"/>
<circle cx="69.0" cy="560.7" r="13.5" fill="url(#schs)"/>
<circle cx="94.1" cy="569.5" r="10.7" fill="url(#schs)"/>
<circle cx="112.5" cy="564.7" r="10.4" fill="url(#schs)"/>
<circle cx="142.2" cy="572.2" r="11.1" fill="url(#schs)"/>
<circle cx="157.6" cy="572.0" r="16.5" fill="url(#schs)"/>
<circle cx="187.1" cy="562.2" r="17.7" fill="url(#schs)"/>
<circle cx="200.8" cy="564.4" r="17.4" fill="url(#schs)"/>
<circle cx="234.4" cy="563.5" r="11.3" fill="url(#schs)"/>
<circle cx="253.8" cy="571.3" r="11.1" fill="url(#schs)"/>
<circle cx="271.9" cy="564.0" r="12.1" fill="url(#schs)"/>
<circle cx="284.1" cy="571.4" r="11.5" fill="url(#schs)"/>
<circle cx="307.0" cy="569.6" r="17.2" fill="url(#schs)"/>
<circle cx="-2.4" cy="585.1" r="12.9" fill="url(#schs)"/>
<circle cx="10.1" cy="590.4" r="17.1" fill="url(#schs)"/>
<circle cx="40.8" cy="581.6" r="13.2" fill="url(#schs)"/>
<circle cx="61.4" cy="587.6" r="14.6" fill="url(#schs)"/>
<circle cx="86.4" cy="579.0" r="11.4" fill="url(#schs)"/>
<circle cx="109.4" cy="590.3" r="12.0" fill="url(#schs)"/>
<circle cx="127.3" cy="578.5" r="15.3" fill="url(#schs)"/>
<circle cx="147.3" cy="583.6" r="11.2" fill="url(#schs)"/>
<circle cx="162.6" cy="581.2" r="17.2" fill="url(#schs)"/>
<circle cx="183.6" cy="582.7" r="10.2" fill="url(#schs)"/>
<circle cx="203.3" cy="585.5" r="12.9" fill="url(#schs)"/>
<circle cx="230.0" cy="584.2" r="11.6" fill="url(#schs)"/>
<circle cx="242.8" cy="580.2" r="17.5" fill="url(#schs)"/>
<circle cx="267.3" cy="587.8" r="15.1" fill="url(#schs)"/>
<circle cx="277.0" cy="586.2" r="12.1" fill="url(#schs)"/>
<circle cx="306.2" cy="583.8" r="12.8" fill="url(#schs)"/>
<circle cx="-15.5" cy="604.7" r="17.2" fill="url(#schs)"/>
<circle cx="4.7" cy="607.7" r="11.9" fill="url(#schs)"/>
<circle cx="31.5" cy="600.0" r="14.4" fill="url(#schs)"/>
<circle cx="44.2" cy="606.0" r="14.9" fill="url(#schs)"/>
<circle cx="66.0" cy="601.9" r="11.4" fill="url(#schs)"/>
<circle cx="88.2" cy="606.9" r="17.1" fill="url(#schs)"/>
<circle cx="103.8" cy="603.9" r="16.8" fill="url(#schs)"/>
<circle cx="121.0" cy="599.6" r="13.6" fill="url(#schs)"/>
<circle cx="140.6" cy="607.3" r="10.3" fill="url(#schs)"/>
<circle cx="168.1" cy="601.5" r="16.8" fill="url(#schs)"/>
<circle cx="190.5" cy="604.6" r="13.5" fill="url(#schs)"/>
<circle cx="211.3" cy="600.9" r="15.1" fill="url(#schs)"/>
<circle cx="227.7" cy="601.2" r="10.1" fill="url(#schs)"/>
<circle cx="256.9" cy="602.2" r="17.6" fill="url(#schs)"/>
<circle cx="275.6" cy="609.2" r="12.6" fill="url(#schs)"/>
<circle cx="303.1" cy="610.1" r="15.5" fill="url(#schs)"/>
<circle cx="324.1" cy="608.6" r="16.7" fill="url(#schs)"/>
<circle cx="-10.9" cy="625.6" r="12.5" fill="url(#schs)"/>
<circle cx="5.1" cy="618.4" r="17.3" fill="url(#schs)"/>
<circle cx="24.5" cy="619.8" r="17.4" fill="url(#schs)"/>
<circle cx="45.0" cy="625.7" r="10.3" fill="url(#schs)"/>
<circle cx="60.5" cy="625.2" r="15.9" fill="url(#schs)"/>
<circle cx="89.1" cy="628.8" r="16.5" fill="url(#schs)"/>
<circle cx="106.9" cy="629.5" r="16.9" fill="url(#schs)"/>
<circle cx="114.4" cy="618.5" r="11.6" fill="url(#schs)"/>
<circle cx="145.1" cy="628.0" r="16.5" fill="url(#schs)"/>
<circle cx="161.0" cy="619.3" r="12.3" fill="url(#schs)"/>
<circle cx="187.2" cy="623.2" r="11.6" fill="url(#schs)"/>
<circle cx="203.0" cy="626.7" r="12.1" fill="url(#schs)"/>
<circle cx="230.9" cy="624.2" r="12.6" fill="url(#schs)"/>
<circle cx="244.2" cy="623.1" r="14.9" fill="url(#schs)"/>
<circle cx="268.3" cy="626.6" r="16.2" fill="url(#schs)"/>
<circle cx="295.9" cy="619.2" r="11.7" fill="url(#schs)"/>
<circle cx="309.8" cy="620.5" r="11.4" fill="url(#schs)"/>
</g>
<filter id="scrb" x="-5%" y="-5%" width="110%" height="110%"><feGaussianBlur stdDeviation="1.6"/></filter>
<path d="M51.3,310 L315,310 L315,620 L0,620 L0,486 L19.2,486 L19.2,486.0C19.9,485.0 20.8,483.5 23.4,480.0C26.0,476.5 31.1,469.1 35.0,465.0C38.9,460.9 42.8,458.0 46.7,455.7C50.6,453.4 55.3,452.9 58.4,451.0C61.5,449.1 63.1,445.7 65.4,444.0C67.7,442.3 70.2,441.9 72.0,441.0C73.8,440.1 76.1,440.3 76.1,438.7C76.1,437.1 73.7,434.4 72.0,431.5C70.3,428.6 67.3,424.6 65.8,421.2C64.2,417.8 63.1,413.8 62.7,410.9C62.4,408.0 64.7,405.3 63.7,403.6C62.7,401.9 58.4,402.4 56.5,400.5C54.6,398.6 52.6,395.1 52.3,392.3C51.9,389.6 52.8,386.1 54.4,384.0C56.0,381.9 58.9,380.8 61.6,379.9C64.4,379.0 69.2,380.5 70.9,378.8C72.6,377.1 72.5,372.4 72.0,369.6C71.5,366.9 70.2,364.4 67.8,362.3C65.4,360.2 60.1,359.4 57.5,357.2C54.9,355.0 53.5,351.7 52.3,348.9C51.1,346.1 50.5,343.4 50.3,340.6C50.1,337.8 51.1,333.4 51.3,332.0 L51.3,310 Z" fill="none" stroke="#000" stroke-opacity="0.16" stroke-width="5" filter="url(#scrb)"/>
</g>
<filter id="vblc" x="-20%" y="-20%" width="140%" height="140%"><feGaussianBlur stdDeviation="2.0"/></filter>
<clipPath id="clipC2"><path d="M51.3,332 L293.5,332 L293.5,598 L19.2,598 L19.2,486 L19.2,486.0C19.9,485.0 20.8,483.5 23.4,480.0C26.0,476.5 31.1,469.1 35.0,465.0C38.9,460.9 42.8,458.0 46.7,455.7C50.6,453.4 55.3,452.9 58.4,451.0C61.5,449.1 63.1,445.7 65.4,444.0C67.7,442.3 70.2,441.9 72.0,441.0C73.8,440.1 76.1,440.3 76.1,438.7C76.1,437.1 73.7,434.4 72.0,431.5C70.3,428.6 67.3,424.6 65.8,421.2C64.2,417.8 63.1,413.8 62.7,410.9C62.4,408.0 64.7,405.3 63.7,403.6C62.7,401.9 58.4,402.4 56.5,400.5C54.6,398.6 52.6,395.1 52.3,392.3C51.9,389.6 52.8,386.1 54.4,384.0C56.0,381.9 58.9,380.8 61.6,379.9C64.4,379.0 69.2,380.5 70.9,378.8C72.6,377.1 72.5,372.4 72.0,369.6C71.5,366.9 70.2,364.4 67.8,362.3C65.4,360.2 60.1,359.4 57.5,357.2C54.9,355.0 53.5,351.7 52.3,348.9C51.1,346.1 50.5,343.4 50.3,340.6C50.1,337.8 51.1,333.4 51.3,332.0 Z"/></clipPath>
<g clip-path="url(#clipC2)" filter="url(#vblc)" fill="none" stroke="#888" stroke-opacity="0.26" stroke-width="4" stroke-linecap="round">
<path d="M296.0,394.4C293.3,395.2 284.6,396.7 280.0,399.0C275.4,401.3 271.9,404.4 268.4,408.3C264.9,412.2 261.8,417.6 259.1,422.2C256.4,426.8 253.9,431.5 252.2,436.1C250.5,440.7 249.1,445.2 248.7,450.0C248.3,454.8 248.7,460.3 249.9,465.0C251.1,469.7 252.7,474.8 256.0,478.0C259.4,481.2 263.3,483.7 270.0,484.0C276.7,484.3 291.7,480.7 296.0,480.0"/>
<path d="M140.0,552.0C142.1,551.2 148.1,549.5 152.6,547.2C157.1,544.9 161.8,540.1 167.2,538.4C172.5,536.7 179.8,537.5 184.7,537.0C189.6,536.5 192.0,536.7 196.4,535.5C200.8,534.3 206.2,531.1 211.0,529.6C215.8,528.1 221.1,526.7 225.5,526.7C229.9,526.7 232.8,528.1 237.2,529.6C241.6,531.1 246.9,533.5 251.8,535.5C256.7,537.5 261.5,538.9 266.4,541.3C271.3,543.7 276.1,548.0 281.0,550.0C285.9,552.0 293.5,552.5 296.0,553.0"/>
<path d="M130.0,563.0C132.3,562.8 136.6,561.0 143.8,561.8C151.0,562.6 164.2,567.1 173.0,567.6C181.8,568.1 188.1,565.7 196.4,564.7C204.7,563.7 213.4,561.3 222.6,561.8C231.8,562.3 243.0,567.1 251.8,567.6C260.6,568.1 267.8,565.0 275.2,564.7C282.6,564.4 292.5,565.8 296.0,566.0"/>
</g>
<path d="M59.7,473.6 L60.0,472.8 L60.3,472.0 L60.6,471.2 L60.9,470.5 L61.2,469.7 L61.5,468.9 L61.8,468.1 L62.1,467.4 L62.4,466.6 L62.8,465.9 L63.1,465.2 L63.4,464.5 L63.8,463.8 L64.1,463.2 L64.5,462.6 L64.8,462.0 L65.2,461.4 L65.6,460.9 L65.9,460.5 L66.3,460.0 L66.7,459.6 L67.0,459.3 L67.4,459.0 L67.8,458.7 L68.2,458.5 L68.5,458.3 L68.9,458.1 L69.3,458.0 L69.7,458.0" fill="none" stroke="#aeae46" stroke-width="5.30" stroke-linecap="round" stroke-linejoin="round"/>
<path d="M59.7,473.6 L60.0,472.8 L60.3,472.0 L60.6,471.2 L60.9,470.5 L61.2,469.7 L61.5,468.9 L61.8,468.1 L62.1,467.4 L62.4,466.6 L62.8,465.9 L63.1,465.2 L63.4,464.5 L63.8,463.8 L64.1,463.2 L64.5,462.6 L64.8,462.0 L65.2,461.4 L65.6,460.9 L65.9,460.5 L66.3,460.0 L66.7,459.6 L67.0,459.3 L67.4,459.0 L67.8,458.7 L68.2,458.5 L68.5,458.3 L68.9,458.1 L69.3,458.0 L69.7,458.0" fill="none" stroke="#dde174" stroke-width="4.40" stroke-linecap="round" stroke-linejoin="round"/>
<path d="M85.9,485.0 L86.1,485.0 L86.3,484.9 L86.6,484.8 L86.8,484.6 L87.0,484.4 L87.2,484.2 L87.5,483.9 L87.7,483.6 L87.9,483.2 L88.2,482.8 L88.4,482.3 L88.6,481.8 L88.9,481.3 L89.1,480.7 L89.4,480.1 L89.6,479.5 L89.9,478.9 L90.1,478.2 L90.4,477.5 L90.7,476.8 L90.9,476.0 L91.2,475.3 L91.5,474.5 L91.8,473.7 L92.1,472.9 L92.4,472.2 L92.7,471.4 L93.0,470.6 L93.3,469.8 L93.6,469.0 L93.9,468.2 L94.2,467.5 L94.5,466.7 L94.9,466.0 L95.2,465.3 L95.5,464.6 L95.9,463.9 L96.2,463.3 L96.6,462.7 L96.9,462.1 L97.3,461.5 L97.7,461.0 L98.0,460.5 L98.4,460.1 L98.7,459.7 L99.1,459.3 L99.5,459.0 L99.9,458.7 L100.2,458.5 L100.6,458.3 L101.0,458.2 L101.4,458.1 L101.8,458.0" fill="none" stroke="#aeae46" stroke-width="5.30" stroke-linecap="round" stroke-linejoin="round"/>
<path d="M85.9,485.0 L86.1,485.0 L86.3,484.9 L86.6,484.8 L86.8,484.6 L87.0,484.4 L87.2,484.2 L87.5,483.9 L87.7,483.6 L87.9,483.2 L88.2,482.8 L88.4,482.3 L88.6,481.8 L88.9,481.3 L89.1,480.7 L89.4,480.1 L89.6,479.5 L89.9,478.9 L90.1,478.2 L90.4,477.5 L90.7,476.8 L90.9,476.0 L91.2,475.3 L91.5,474.5 L91.8,473.7 L92.1,472.9 L92.4,472.2 L92.7,471.4 L93.0,470.6 L93.3,469.8 L93.6,469.0 L93.9,468.2 L94.2,467.5 L94.5,466.7 L94.9,466.0 L95.2,465.3 L95.5,464.6 L95.9,463.9 L96.2,463.3 L96.6,462.7 L96.9,462.1 L97.3,461.5 L97.7,461.0 L98.0,460.5 L98.4,460.1 L98.7,459.7 L99.1,459.3 L99.5,459.0 L99.9,458.7 L100.2,458.5 L100.6,458.3 L101.0,458.2 L101.4,458.1 L101.8,458.0" fill="none" stroke="#dde174" stroke-width="4.40" stroke-linecap="round" stroke-linejoin="round"/>
<path d="M118.0,485.0 L118.2,485.0 L118.5,484.9 L118.7,484.8 L118.9,484.7 L119.1,484.5 L119.3,484.2 L119.6,483.9 L119.8,483.6 L120.0,483.2 L120.3,482.8 L120.5,482.4 L120.7,481.9 L121.0,481.4 L121.2,480.8 L121.5,480.2 L121.7,479.6 L122.0,478.9 L122.2,478.3 L122.5,477.6 L122.8,476.9 L123.0,476.1 L123.3,475.4 L123.6,474.6 L123.9,473.8 L124.2,473.1 L124.5,472.3 L124.8,471.5 L125.1,470.7 L125.4,469.9 L125.7,469.1 L126.0,468.3 L126.3,467.6 L126.6,466.8 L127.0,466.1 L127.3,465.4 L127.6,464.7 L128.0,464.0 L128.3,463.4 L128.7,462.7 L129.0,462.2 L129.4,461.6 L129.7,461.1 L130.1,460.6 L130.5,460.1 L130.8,459.7 L131.2,459.4 L131.6,459.0 L132.0,458.8 L132.3,458.5 L132.7,458.3 L133.1,458.2 L133.5,458.1 L133.8,458.0" fill="none" stroke="#aeae46" stroke-width="5.30" stroke-linecap="round" stroke-linejoin="round"/>
<path d="M118.0,485.0 L118.2,485.0 L118.5,484.9 L118.7,484.8 L118.9,484.7 L119.1,484.5 L119.3,484.2 L119.6,483.9 L119.8,483.6 L120.0,483.2 L120.3,482.8 L120.5,482.4 L120.7,481.9 L121.0,481.4 L121.2,480.8 L121.5,480.2 L121.7,479.6 L122.0,478.9 L122.2,478.3 L122.5,477.6 L122.8,476.9 L123.0,476.1 L123.3,475.4 L123.6,474.6 L123.9,473.8 L124.2,473.1 L124.5,472.3 L124.8,471.5 L125.1,470.7 L125.4,469.9 L125.7,469.1 L126.0,468.3 L126.3,467.6 L126.6,466.8 L127.0,466.1 L127.3,465.4 L127.6,464.7 L128.0,464.0 L128.3,463.4 L128.7,462.7 L129.0,462.2 L129.4,461.6 L129.7,461.1 L130.1,460.6 L130.5,460.1 L130.8,459.7 L131.2,459.4 L131.6,459.0 L132.0,458.8 L132.3,458.5 L132.7,458.3 L133.1,458.2 L133.5,458.1 L133.8,458.0" fill="none" stroke="#dde174" stroke-width="4.40" stroke-linecap="round" stroke-linejoin="round"/>
<path d="M150.1,485.0 L150.3,485.0 L150.6,484.9 L150.8,484.8" fill="none" stroke="#aeae46" stroke-width="5.30" stroke-linecap="round" stroke-linejoin="round"/>
<path d="M150.1,485.0 L150.3,485.0 L150.6,484.9 L150.8,484.8" fill="none" stroke="#dde174" stroke-width="4.40" stroke-linecap="round" stroke-linejoin="round"/>
<path d="M69.7,458.0 L70.0,458.0 L70.4,458.1 L70.8,458.1 L71.2,458.3 L71.6,458.5 L71.9,458.7 L72.3,459.0 L72.7,459.3 L73.0,459.7 L73.4,460.1 L73.8,460.5 L74.1,461.0 L74.5,461.5 L74.9,462.0 L75.2,462.6 L75.6,463.2 L75.9,463.9 L76.3,464.5 L76.6,465.2 L76.9,465.9 L77.3,466.7 L77.6,467.4 L77.9,468.2 L78.2,468.9 L78.5,469.7 L78.8,470.5 L79.1,471.3 L79.4,472.1 L79.7,472.9 L80.0,473.7 L80.3,474.4 L80.6,475.2 L80.9,476.0 L81.1,476.7 L81.4,477.4 L81.7,478.1 L81.9,478.8 L82.2,479.5 L82.4,480.1 L82.7,480.7 L82.9,481.2 L83.2,481.8 L83.4,482.3 L83.6,482.7 L83.9,483.1 L84.1,483.5 L84.3,483.9 L84.6,484.2 L84.8,484.4 L85.0,484.6 L85.2,484.8 L85.5,484.9 L85.7,485.0 L85.9,485.0" fill="none" stroke="#aeae46" stroke-width="6.40" stroke-linecap="round" stroke-linejoin="round"/>
<path d="M69.7,458.0 L70.0,458.0 L70.4,458.1 L70.8,458.1 L71.2,458.3 L71.6,458.5 L71.9,458.7 L72.3,459.0 L72.7,459.3 L73.0,459.7 L73.4,460.1 L73.8,460.5 L74.1,461.0 L74.5,461.5 L74.9,462.0 L75.2,462.6 L75.6,463.2 L75.9,463.9 L76.3,464.5 L76.6,465.2 L76.9,465.9 L77.3,466.7 L77.6,467.4 L77.9,468.2 L78.2,468.9 L78.5,469.7 L78.8,470.5 L79.1,471.3 L79.4,472.1 L79.7,472.9 L80.0,473.7 L80.3,474.4 L80.6,475.2 L80.9,476.0 L81.1,476.7 L81.4,477.4 L81.7,478.1 L81.9,478.8 L82.2,479.5 L82.4,480.1 L82.7,480.7 L82.9,481.2 L83.2,481.8 L83.4,482.3 L83.6,482.7 L83.9,483.1 L84.1,483.5 L84.3,483.9 L84.6,484.2 L84.8,484.4 L85.0,484.6 L85.2,484.8 L85.5,484.9 L85.7,485.0 L85.9,485.0" fill="none" stroke="#e9ed82" stroke-width="5.40" stroke-linecap="round" stroke-linejoin="round"/>
<path d="M101.8,458.0 L102.1,458.0 L102.5,458.0 L102.9,458.1 L103.3,458.3 L103.6,458.4 L104.0,458.7 L104.4,458.9 L104.8,459.2 L105.1,459.6 L105.5,460.0 L105.9,460.4 L106.2,460.9 L106.6,461.4 L107.0,462.0 L107.3,462.5 L107.7,463.1 L108.0,463.8 L108.4,464.4 L108.7,465.1 L109.0,465.8 L109.4,466.6 L109.7,467.3 L110.0,468.1 L110.3,468.8 L110.6,469.6 L110.9,470.4 L111.2,471.2 L111.5,472.0 L111.8,472.8 L112.1,473.6 L112.4,474.3 L112.7,475.1 L113.0,475.9 L113.2,476.6 L113.5,477.3 L113.8,478.0 L114.0,478.7 L114.3,479.4 L114.5,480.0 L114.8,480.6 L115.0,481.2 L115.3,481.7 L115.5,482.2 L115.8,482.7 L116.0,483.1 L116.2,483.5 L116.5,483.8 L116.7,484.1 L116.9,484.4 L117.1,484.6 L117.4,484.8 L117.6,484.9 L117.8,485.0 L118.0,485.0" fill="none" stroke="#aeae46" stroke-width="6.40" stroke-linecap="round" stroke-linejoin="round"/>
<path d="M101.8,458.0 L102.1,458.0 L102.5,458.0 L102.9,458.1 L103.3,458.3 L103.6,458.4 L104.0,458.7 L104.4,458.9 L104.8,459.2 L105.1,459.6 L105.5,460.0 L105.9,460.4 L106.2,460.9 L106.6,461.4 L107.0,462.0 L107.3,462.5 L107.7,463.1 L108.0,463.8 L108.4,464.4 L108.7,465.1 L109.0,465.8 L109.4,466.6 L109.7,467.3 L110.0,468.1 L110.3,468.8 L110.6,469.6 L110.9,470.4 L111.2,471.2 L111.5,472.0 L111.8,472.8 L112.1,473.6 L112.4,474.3 L112.7,475.1 L113.0,475.9 L113.2,476.6 L113.5,477.3 L113.8,478.0 L114.0,478.7 L114.3,479.4 L114.5,480.0 L114.8,480.6 L115.0,481.2 L115.3,481.7 L115.5,482.2 L115.8,482.7 L116.0,483.1 L116.2,483.5 L116.5,483.8 L116.7,484.1 L116.9,484.4 L117.1,484.6 L117.4,484.8 L117.6,484.9 L117.8,485.0 L118.0,485.0" fill="none" stroke="#e9ed82" stroke-width="5.40" stroke-linecap="round" stroke-linejoin="round"/>
<path d="M133.8,458.0 L134.2,458.0 L134.6,458.0 L135.0,458.1 L135.4,458.2 L135.7,458.4 L136.1,458.6 L136.5,458.9 L136.9,459.2 L137.2,459.5 L137.6,459.9 L138.0,460.4 L138.3,460.8 L138.7,461.3 L139.0,461.9 L139.4,462.4 L139.8,463.0 L140.1,463.7 L140.4,464.3 L140.8,465.0 L141.1,465.7 L141.5,466.5 L141.8,467.2 L142.1,468.0 L142.4,468.7 L142.7,469.5 L143.0,470.3 L143.3,471.1 L143.6,471.9 L143.9,472.7 L144.2,473.4 L144.5,474.2 L144.8,475.0 L145.1,475.8 L145.4,476.5 L145.6,477.2 L145.9,477.9 L146.1,478.6 L146.4,479.3 L146.7,479.9 L146.9,480.5 L147.2,481.1 L147.4,481.6 L147.6,482.1 L147.9,482.6 L148.1,483.0 L148.3,483.4 L148.6,483.8 L148.8,484.1 L149.0,484.3 L149.2,484.6 L149.5,484.7 L149.7,484.9 L149.9,485.0 L150.1,485.0" fill="none" stroke="#aeae46" stroke-width="6.40" stroke-linecap="round" stroke-linejoin="round"/>
<path d="M133.8,458.0 L134.2,458.0 L134.6,458.0 L135.0,458.1 L135.4,458.2 L135.7,458.4 L136.1,458.6 L136.5,458.9 L136.9,459.2 L137.2,459.5 L137.6,459.9 L138.0,460.4 L138.3,460.8 L138.7,461.3 L139.0,461.9 L139.4,462.4 L139.8,463.0 L140.1,463.7 L140.4,464.3 L140.8,465.0 L141.1,465.7 L141.5,466.5 L141.8,467.2 L142.1,468.0 L142.4,468.7 L142.7,469.5 L143.0,470.3 L143.3,471.1 L143.6,471.9 L143.9,472.7 L144.2,473.4 L144.5,474.2 L144.8,475.0 L145.1,475.8 L145.4,476.5 L145.6,477.2 L145.9,477.9 L146.1,478.6 L146.4,479.3 L146.7,479.9 L146.9,480.5 L147.2,481.1 L147.4,481.6 L147.6,482.1 L147.9,482.6 L148.1,483.0 L148.3,483.4 L148.6,483.8 L148.8,484.1 L149.0,484.3 L149.2,484.6 L149.5,484.7 L149.7,484.9 L149.9,485.0 L150.1,485.0" fill="none" stroke="#e9ed82" stroke-width="5.40" stroke-linecap="round" stroke-linejoin="round"/>
<path d="M151.0,485.0C151.8,483.8 153.8,481.0 155.5,478.0C157.2,475.0 159.2,470.0 161.0,467.0C162.8,464.0 164.3,461.6 166.0,460.0C167.7,458.4 169.2,457.8 171.0,457.5C172.8,457.2 176.0,458.1 177.0,458.2" fill="none" stroke="#b828c0" stroke-width="4.8" stroke-linecap="round" stroke-linejoin="round"/><path d="M151.0,485.0C151.8,483.8 153.8,481.0 155.5,478.0C157.2,475.0 159.2,470.0 161.0,467.0C162.8,464.0 164.3,461.6 166.0,460.0C167.7,458.4 169.2,457.8 171.0,457.5C172.8,457.2 176.0,458.1 177.0,458.2" fill="none" stroke="#f070f0" stroke-width="3.6" stroke-linecap="round" stroke-linejoin="round"/>
<path d="M175.0,457.8C176.2,458.0 179.8,458.0 182.0,459.0C184.2,460.0 186.2,462.2 188.0,464.0C189.8,465.8 191.5,469.0 193.0,469.5C194.5,470.0 195.8,468.6 197.0,467.0C198.2,465.4 199.0,461.8 200.0,460.0C201.0,458.2 202.5,456.7 203.0,456.0" fill="none" stroke="#b4b44c" stroke-width="3.5999999999999996" stroke-linecap="round" stroke-linejoin="round"/><path d="M175.0,457.8C176.2,458.0 179.8,458.0 182.0,459.0C184.2,460.0 186.2,462.2 188.0,464.0C189.8,465.8 191.5,469.0 193.0,469.5C194.5,470.0 195.8,468.6 197.0,467.0C198.2,465.4 199.0,461.8 200.0,460.0C201.0,458.2 202.5,456.7 203.0,456.0" fill="none" stroke="#e6ea78" stroke-width="2.4" stroke-linecap="round" stroke-linejoin="round"/>
<path d="M217.5,390.5 L217.5,390.5 L217.5,390.5 L217.4,390.5 L217.3,390.6 L217.2,390.6 L217.1,390.6 L216.9,390.6 L216.8,390.6 L216.6,390.7 L216.4,390.7 L216.1,390.7 L215.9,390.8 L215.6,390.8 L215.3,390.9 L215.0,390.9 L214.7,391.0 L214.3,391.0 L214.0,391.1 L213.6,391.2 L213.2,391.2 L212.8,391.3 L212.4,391.4 L211.9,391.5 L211.5,391.6 L211.0,391.7 L210.5,391.8 L210.0,391.9 L209.5,392.1 L209.0,392.2 L208.5,392.4 L208.0,392.5 L207.5,392.7 L206.9,392.8 L206.4,393.0 L205.9,393.2 L205.3,393.4 L204.8,393.6 L204.2,393.8 L203.7,394.0 L203.1,394.3 L202.6,394.5 L202.1,394.7 L201.5,395.0 L201.0,395.2 L200.5,395.5 L200.0,395.8 L199.5,396.1 L199.0,396.4 L198.5,396.7 L198.0,397.0 L197.5,397.3 L197.1,397.6 L196.6,397.9 L196.2,398.3 L195.8,398.6 L195.4,398.9 L195.0,399.3 L194.7,399.6 L194.3,400.0 L194.0,400.4 L193.7,400.7 L193.4,401.1 L193.1,401.5 L192.9,401.9 L192.6,402.3 L192.4,402.7 L192.2,403.1 L192.1,403.4 L191.9,403.8 L191.8,404.3 L191.7,404.7 L191.6,405.1 L191.5,405.5 L191.5,405.9 L191.5,406.3" fill="none" stroke="#aeae46" stroke-width="4.90" stroke-linecap="round" stroke-linejoin="round"/>
<path d="M217.5,390.5 L217.5,390.5 L217.5,390.5 L217.4,390.5 L217.3,390.6 L217.2,390.6 L217.1,390.6 L216.9,390.6 L216.8,390.6 L216.6,390.7 L216.4,390.7 L216.1,390.7 L215.9,390.8 L215.6,390.8 L215.3,390.9 L215.0,390.9 L214.7,391.0 L214.3,391.0 L214.0,391.1 L213.6,391.2 L213.2,391.2 L212.8,391.3 L212.4,391.4 L211.9,391.5 L211.5,391.6 L211.0,391.7 L210.5,391.8 L210.0,391.9 L209.5,392.1 L209.0,392.2 L208.5,392.4 L208.0,392.5 L207.5,392.7 L206.9,392.8 L206.4,393.0 L205.9,393.2 L205.3,393.4 L204.8,393.6 L204.2,393.8 L203.7,394.0 L203.1,394.3 L202.6,394.5 L202.1,394.7 L201.5,395.0 L201.0,395.2 L200.5,395.5 L200.0,395.8 L199.5,396.1 L199.0,396.4 L198.5,396.7 L198.0,397.0 L197.5,397.3 L197.1,397.6 L196.6,397.9 L196.2,398.3 L195.8,398.6 L195.4,398.9 L195.0,399.3 L194.7,399.6 L194.3,400.0 L194.0,400.4 L193.7,400.7 L193.4,401.1 L193.1,401.5 L192.9,401.9 L192.6,402.3 L192.4,402.7 L192.2,403.1 L192.1,403.4 L191.9,403.8 L191.8,404.3 L191.7,404.7 L191.6,405.1 L191.5,405.5 L191.5,405.9 L191.5,406.3" fill="none" stroke="#dde174" stroke-width="4.00" stroke-linecap="round" stroke-linejoin="round"/>
<path d="M217.5,422.1 L217.5,422.1 L217.5,422.1 L217.4,422.1 L217.3,422.1 L217.2,422.1 L217.1,422.1 L216.9,422.2 L216.8,422.2 L216.6,422.2 L216.4,422.2 L216.1,422.3 L215.9,422.3 L215.6,422.4 L215.3,422.4 L215.0,422.5 L214.7,422.5 L214.3,422.6 L214.0,422.6 L213.6,422.7 L213.2,422.8 L212.8,422.9 L212.4,422.9 L211.9,423.0 L211.5,423.1 L211.0,423.3 L210.5,423.4 L210.0,423.5 L209.5,423.6 L209.0,423.8 L208.5,423.9 L208.0,424.1 L207.5,424.2 L206.9,424.4 L206.4,424.6 L205.9,424.8 L205.3,425.0 L204.8,425.2 L204.2,425.4 L203.7,425.6 L203.1,425.8 L202.6,426.0 L202.1,426.3 L201.5,426.5 L201.0,426.8 L200.5,427.1 L200.0,427.3 L199.5,427.6 L199.0,427.9 L198.5,428.2 L198.0,428.5 L197.5,428.8 L197.1,429.1 L196.6,429.5 L196.2,429.8 L195.8,430.1 L195.4,430.5 L195.0,430.8 L194.7,431.2 L194.3,431.6 L194.0,431.9 L193.7,432.3 L193.4,432.7 L193.1,433.0 L192.9,433.4 L192.6,433.8 L192.4,434.2 L192.2,434.6 L192.1,435.0 L191.9,435.4 L191.8,435.8 L191.7,436.2 L191.6,436.6 L191.5,437.0 L191.5,437.4 L191.5,437.8" fill="none" stroke="#aeae46" stroke-width="4.90" stroke-linecap="round" stroke-linejoin="round"/>
<path d="M217.5,422.1 L217.5,422.1 L217.5,422.1 L217.4,422.1 L217.3,422.1 L217.2,422.1 L217.1,422.1 L216.9,422.2 L216.8,422.2 L216.6,422.2 L216.4,422.2 L216.1,422.3 L215.9,422.3 L215.6,422.4 L215.3,422.4 L215.0,422.5 L214.7,422.5 L214.3,422.6 L214.0,422.6 L213.6,422.7 L213.2,422.8 L212.8,422.9 L212.4,422.9 L211.9,423.0 L211.5,423.1 L211.0,423.3 L210.5,423.4 L210.0,423.5 L209.5,423.6 L209.0,423.8 L208.5,423.9 L208.0,424.1 L207.5,424.2 L206.9,424.4 L206.4,424.6 L205.9,424.8 L205.3,425.0 L204.8,425.2 L204.2,425.4 L203.7,425.6 L203.1,425.8 L202.6,426.0 L202.1,426.3 L201.5,426.5 L201.0,426.8 L200.5,427.1 L200.0,427.3 L199.5,427.6 L199.0,427.9 L198.5,428.2 L198.0,428.5 L197.5,428.8 L197.1,429.1 L196.6,429.5 L196.2,429.8 L195.8,430.1 L195.4,430.5 L195.0,430.8 L194.7,431.2 L194.3,431.6 L194.0,431.9 L193.7,432.3 L193.4,432.7 L193.1,433.0 L192.9,433.4 L192.6,433.8 L192.4,434.2 L192.2,434.6 L192.1,435.0 L191.9,435.4 L191.8,435.8 L191.7,436.2 L191.6,436.6 L191.5,437.0 L191.5,437.4 L191.5,437.8" fill="none" stroke="#dde174" stroke-width="4.00" stroke-linecap="round" stroke-linejoin="round"/>
<path d="M191.5,406.3 L191.5,406.7 L191.5,407.1 L191.6,407.5 L191.7,407.9 L191.8,408.3 L191.9,408.7 L192.1,409.1 L192.2,409.5 L192.4,409.9 L192.6,410.3 L192.9,410.7 L193.1,411.1 L193.4,411.4 L193.7,411.8 L194.0,412.2 L194.3,412.5 L194.7,412.9 L195.0,413.3 L195.4,413.6 L195.8,414.0 L196.2,414.3 L196.6,414.6 L197.1,415.0 L197.5,415.3 L198.0,415.6 L198.5,415.9 L199.0,416.2 L199.5,416.5 L200.0,416.8 L200.5,417.0 L201.0,417.3 L201.5,417.6 L202.1,417.8 L202.6,418.1 L203.1,418.3 L203.7,418.5 L204.2,418.7 L204.8,418.9 L205.3,419.1 L205.9,419.3 L206.4,419.5 L206.9,419.7 L207.5,419.9 L208.0,420.0 L208.5,420.2 L209.0,420.3 L209.5,420.5 L210.0,420.6 L210.5,420.7 L211.0,420.8 L211.5,421.0 L211.9,421.1 L212.4,421.2 L212.8,421.2 L213.2,421.3 L213.6,421.4 L214.0,421.5 L214.3,421.5 L214.7,421.6 L215.0,421.6 L215.3,421.7 L215.6,421.7 L215.9,421.8 L216.1,421.8 L216.4,421.9 L216.6,421.9 L216.8,421.9 L216.9,421.9 L217.1,422.0 L217.2,422.0 L217.3,422.0 L217.4,422.0 L217.5,422.0 L217.5,422.0 L217.5,422.1" fill="none" stroke="#aeae46" stroke-width="6.00" stroke-linecap="round" stroke-linejoin="round"/>
<path d="M191.5,406.3 L191.5,406.7 L191.5,407.1 L191.6,407.5 L191.7,407.9 L191.8,408.3 L191.9,408.7 L192.1,409.1 L192.2,409.5 L192.4,409.9 L192.6,410.3 L192.9,410.7 L193.1,411.1 L193.4,411.4 L193.7,411.8 L194.0,412.2 L194.3,412.5 L194.7,412.9 L195.0,413.3 L195.4,413.6 L195.8,414.0 L196.2,414.3 L196.6,414.6 L197.1,415.0 L197.5,415.3 L198.0,415.6 L198.5,415.9 L199.0,416.2 L199.5,416.5 L200.0,416.8 L200.5,417.0 L201.0,417.3 L201.5,417.6 L202.1,417.8 L202.6,418.1 L203.1,418.3 L203.7,418.5 L204.2,418.7 L204.8,418.9 L205.3,419.1 L205.9,419.3 L206.4,419.5 L206.9,419.7 L207.5,419.9 L208.0,420.0 L208.5,420.2 L209.0,420.3 L209.5,420.5 L210.0,420.6 L210.5,420.7 L211.0,420.8 L211.5,421.0 L211.9,421.1 L212.4,421.2 L212.8,421.2 L213.2,421.3 L213.6,421.4 L214.0,421.5 L214.3,421.5 L214.7,421.6 L215.0,421.6 L215.3,421.7 L215.6,421.7 L215.9,421.8 L216.1,421.8 L216.4,421.9 L216.6,421.9 L216.8,421.9 L216.9,421.9 L217.1,422.0 L217.2,422.0 L217.3,422.0 L217.4,422.0 L217.5,422.0 L217.5,422.0 L217.5,422.1" fill="none" stroke="#e9ed82" stroke-width="5.00" stroke-linecap="round" stroke-linejoin="round"/>
<path d="M191.5,437.8 L191.5,438.2 L191.5,438.6 L191.6,439.0 L191.7,439.4 L191.8,439.8 L191.9,440.3 L192.1,440.7 L192.2,441.0 L192.4,441.4 L192.6,441.8 L192.9,442.2 L193.1,442.6 L193.4,443.0 L193.7,443.4 L194.0,443.7 L194.3,444.1 L194.7,444.5 L195.0,444.8 L195.4,445.2 L195.8,445.5 L196.2,445.8 L196.6,446.2 L197.1,446.5 L197.5,446.8 L198.0,447.1 L198.5,447.4 L199.0,447.7 L199.5,448.0 L200.0,448.3 L200.5,448.6 L201.0,448.9 L201.5,449.1 L202.1,449.4 L202.6,449.6 L203.1,449.8 L203.7,450.1 L204.2,450.3 L204.8,450.5 L205.3,450.7 L205.9,450.9 L206.4,451.1 L206.9,451.3 L207.5,451.4 L208.0,451.6 L208.5,451.7 L209.0,451.9 L209.5,452.0 L210.0,452.2 L210.5,452.3 L211.0,452.4 L211.5,452.5 L211.9,452.6 L212.4,452.7 L212.8,452.8 L213.2,452.9 L213.6,452.9 L214.0,453.0 L214.3,453.1 L214.7,453.1 L215.0,453.2 L215.3,453.2 L215.6,453.3 L215.9,453.3 L216.1,453.4 L216.4,453.4 L216.6,453.4 L216.8,453.5 L216.9,453.5 L217.1,453.5 L217.2,453.5 L217.3,453.5 L217.4,453.6 L217.5,453.6 L217.5,453.6 L217.5,453.6" fill="none" stroke="#aeae46" stroke-width="6.00" stroke-linecap="round" stroke-linejoin="round"/>
<path d="M191.5,437.8 L191.5,438.2 L191.5,438.6 L191.6,439.0 L191.7,439.4 L191.8,439.8 L191.9,440.3 L192.1,440.7 L192.2,441.0 L192.4,441.4 L192.6,441.8 L192.9,442.2 L193.1,442.6 L193.4,443.0 L193.7,443.4 L194.0,443.7 L194.3,444.1 L194.7,444.5 L195.0,444.8 L195.4,445.2 L195.8,445.5 L196.2,445.8 L196.6,446.2 L197.1,446.5 L197.5,446.8 L198.0,447.1 L198.5,447.4 L199.0,447.7 L199.5,448.0 L200.0,448.3 L200.5,448.6 L201.0,448.9 L201.5,449.1 L202.1,449.4 L202.6,449.6 L203.1,449.8 L203.7,450.1 L204.2,450.3 L204.8,450.5 L205.3,450.7 L205.9,450.9 L206.4,451.1 L206.9,451.3 L207.5,451.4 L208.0,451.6 L208.5,451.7 L209.0,451.9 L209.5,452.0 L210.0,452.2 L210.5,452.3 L211.0,452.4 L211.5,452.5 L211.9,452.6 L212.4,452.7 L212.8,452.8 L213.2,452.9 L213.6,452.9 L214.0,453.0 L214.3,453.1 L214.7,453.1 L215.0,453.2 L215.3,453.2 L215.6,453.3 L215.9,453.3 L216.1,453.4 L216.4,453.4 L216.6,453.4 L216.8,453.5 L216.9,453.5 L217.1,453.5 L217.2,453.5 L217.3,453.5 L217.4,453.6 L217.5,453.6 L217.5,453.6 L217.5,453.6" fill="none" stroke="#e9ed82" stroke-width="5.00" stroke-linecap="round" stroke-linejoin="round"/>
<path d="M196.0,441.5C196.6,442.2 198.0,444.8 199.5,446.0C201.0,447.2 203.2,448.2 205.0,448.8C206.8,449.4 209.2,449.5 210.0,449.6" fill="none" stroke="#b828c0" stroke-width="4.4" stroke-linecap="round" stroke-linejoin="round"/><path d="M196.0,441.5C196.6,442.2 198.0,444.8 199.5,446.0C201.0,447.2 203.2,448.2 205.0,448.8C206.8,449.4 209.2,449.5 210.0,449.6" fill="none" stroke="#f070f0" stroke-width="3.2" stroke-linecap="round" stroke-linejoin="round"/>
<path d="M211.0,449.8C212.2,449.9 216.5,450.0 218.5,450.6C220.5,451.2 222.2,453.1 223.0,453.6" fill="none" stroke="#b4b44c" stroke-width="5.6000000000000005" stroke-linecap="round" stroke-linejoin="round"/><path d="M211.0,449.8C212.2,449.9 216.5,450.0 218.5,450.6C220.5,451.2 222.2,453.1 223.0,453.6" fill="none" stroke="#e6ea78" stroke-width="4.4" stroke-linecap="round" stroke-linejoin="round"/>
<path d="M223.0,453.6C221.8,453.9 218.6,455.2 216.0,455.4C213.4,455.6 209.8,454.8 207.6,455.0C205.4,455.2 203.8,456.2 203.0,456.5" fill="none" stroke="#b4b44c" stroke-width="3.8" stroke-linecap="round" stroke-linejoin="round"/><path d="M223.0,453.6C221.8,453.9 218.6,455.2 216.0,455.4C213.4,455.6 209.8,454.8 207.6,455.0C205.4,455.2 203.8,456.2 203.0,456.5" fill="none" stroke="#e6ea78" stroke-width="2.6" stroke-linecap="round" stroke-linejoin="round"/>
<path d="M177.8,459.7 L182.2,457.0 L182.2,449.2 L180.6,445.5" fill="none" stroke="#e040e8" stroke-width="2.2" stroke-linecap="round" stroke-linejoin="round"/>
<path d="M180.6,445.5 L180.2,443.2" fill="none" stroke="#7a7aff" stroke-width="2.2" stroke-linecap="round" stroke-linejoin="round"/>
<path d="M163.8,466.0 L163.0,474.5 L160.0,479.0 L162.0,486.0 L168.5,486.5 L171.0,480.5 L166.5,476.0 L163.0,474.5" fill="none" stroke="#e040e8" stroke-width="2.2" stroke-linecap="round" stroke-linejoin="round"/>
<path d="M160.0,479.0 L158.5,477.5" fill="none" stroke="#8080ff" stroke-width="2.0" stroke-linecap="round" stroke-linejoin="round"/>
<path d="M209.0,452.0 L214.0,456.0 L219.0,457.5 L223.5,455.0" fill="none" stroke="#e040e8" stroke-width="2.2" stroke-linecap="round" stroke-linejoin="round"/>
<path d="M219.0,457.5 L221.0,461.5" fill="none" stroke="#e040e8" stroke-width="2.2" stroke-linecap="round" stroke-linejoin="round"/>
<path d="M223.5,455.0 L225.0,453.5" fill="none" stroke="#ff6a6a" stroke-width="2.2" stroke-linecap="round" stroke-linejoin="round"/>
<path d="M221.0,461.5 L221.5,463.0" fill="none" stroke="#ff6a6a" stroke-width="2.2" stroke-linecap="round" stroke-linejoin="round"/>
<line x1="183.5" y1="452" x2="204" y2="454.5" stroke="#e6e67a" stroke-width="1" stroke-dasharray="1.2 1.2"/>
<text x="135.8" y="451.9" font-size="15.5" fill="#e2da52" stroke="#e2da52" stroke-width="2.2" stroke-linejoin="round" textLength="38.3" lengthAdjust="spacingAndGlyphs">K537</text><text x="135.8" y="451.9" font-size="15.5" fill="#1e1508" stroke="#1e1508" stroke-width="0.6" stroke-linejoin="round" textLength="38.3" lengthAdjust="spacingAndGlyphs">K537</text>
<text x="188.8" y="477.6" font-size="15.5" fill="#e2da52" stroke="#e2da52" stroke-width="2.2" stroke-linejoin="round" textLength="20.4" lengthAdjust="spacingAndGlyphs">4Å</text><text x="188.8" y="477.6" font-size="15.5" fill="#1e1508" stroke="#1e1508" stroke-width="0.6" stroke-linejoin="round" textLength="20.4" lengthAdjust="spacingAndGlyphs">4Å</text>
<text x="224.7" y="481.6" font-size="15.5" fill="#e2da52" stroke="#e2da52" stroke-width="2.2" stroke-linejoin="round" textLength="37.4" lengthAdjust="spacingAndGlyphs">E532</text><text x="224.7" y="481.6" font-size="15.5" fill="#1e1508" stroke="#1e1508" stroke-width="0.6" stroke-linejoin="round" textLength="37.4" lengthAdjust="spacingAndGlyphs">E532</text>
<text x="93.7" y="506.6" font-size="15.5" fill="#e2da52" stroke="#e2da52" stroke-width="2.2" stroke-linejoin="round" textLength="31.4" lengthAdjust="spacingAndGlyphs">M6b</text><text x="93.7" y="506.6" font-size="15.5" fill="#1e1508" stroke="#1e1508" stroke-width="0.6" stroke-linejoin="round" textLength="31.4" lengthAdjust="spacingAndGlyphs">M6b</text>
<text x="157.4" y="516.0" font-size="15.5" fill="#e2da52" stroke="#e2da52" stroke-width="2.2" stroke-linejoin="round" textLength="37.8" lengthAdjust="spacingAndGlyphs">P538</text><text x="157.4" y="516.0" font-size="15.5" fill="#1e1508" stroke="#1e1508" stroke-width="0.6" stroke-linejoin="round" textLength="37.8" lengthAdjust="spacingAndGlyphs">P538</text>
<g fill="#231815" font-size="18.5">
<text x="0.3" y="13.8">a</text>
<text x="330.6" y="13.8">b</text>
<text x="3.2" y="318.2">c</text>
<text x="332.5" y="318.4">d</text>
</g>
<g fill="#000">
<line x1="403.70" y1="56.68" x2="403.70" y2="238.40" stroke="#000" stroke-width="2.1"/>
<line x1="402.65" y1="237.30" x2="673.76" y2="237.30" stroke="#000" stroke-width="2.2"/>
<clipPath id="pc237"><rect x="403.70" y="37.30" width="300" height="200"/></clipPath>
<g clip-path="url(#pc237)">
<line x1="404.7" y1="165.65" x2="673.2" y2="167.45" stroke="#ee3a3a" stroke-width="1.1" stroke-dasharray="1.5 1.5"/>
<polyline points="403.70,237.30 404.37,237.30 405.05,237.30 405.72,237.30 406.39,237.30 407.06,237.30 407.74,237.30 408.41,237.30 409.08,237.30 409.75,237.30 410.43,237.30 411.10,237.30 411.77,237.30 412.44,237.30 413.12,237.30 413.79,237.30 414.46,237.30 415.14,237.30 415.81,237.30 416.48,237.30 417.15,237.30 417.83,237.30 418.50,237.30 419.17,237.30 419.84,237.30 420.52,237.30 421.19,237.30 421.86,237.30 422.53,237.30 423.21,237.30 423.88,237.30 424.55,237.30 425.22,237.30 425.90,237.30 426.57,237.30 427.24,237.30 427.92,237.30 428.59,237.30 429.26,237.30 429.93,237.30 430.61,237.30 431.28,237.30 431.95,237.30 432.62,237.30 433.30,237.30 433.97,237.30 434.64,237.30 435.31,237.30 435.99,237.30 436.66,237.30 437.33,237.30 438.01,237.30 438.68,237.30 439.35,237.30 440.02,237.30 440.70,237.30 441.37,237.30 442.04,237.30 442.71,237.30 443.39,237.30 444.06,237.30 444.73,237.30 445.40,237.30 446.08,237.30 446.75,237.30 447.42,237.30 448.09,237.30 448.77,237.30 449.44,237.30 450.11,237.30 450.79,237.30 451.46,237.30 452.13,237.30 452.80,237.30 453.48,237.30 454.15,237.30 454.82,237.30 455.49,237.30 456.17,237.30 456.84,237.30 457.51,237.30 458.18,237.30 458.86,237.30 459.53,237.30 460.20,237.30 460.88,237.30 461.55,237.30 462.22,237.30 462.89,237.30 463.57,237.30 464.24,237.30 464.91,237.30 465.58,237.30 466.26,237.30 466.93,237.30 467.60,237.30 468.27,237.30 468.95,237.30 469.62,237.30 470.29,237.30 470.96,237.30 471.64,237.30 472.31,237.30 472.98,237.30 473.66,237.30 474.33,237.30 475.00,237.30 475.67,237.30 476.35,237.30 477.02,237.30 477.69,237.30 478.36,237.30 479.04,237.30 479.71,237.30 480.38,237.30 481.05,237.30 481.73,237.30 482.40,237.30 483.07,237.30 483.75,237.30 484.42,237.30 485.09,237.30 485.76,237.30 486.44,237.30 487.11,237.30 487.78,237.30 488.45,237.30 489.13,237.30 489.80,237.30 490.47,237.30 491.14,237.30 491.82,237.30 492.49,237.30 493.16,237.30 493.84,237.30 494.51,237.30 495.18,237.30 495.85,237.30 496.53,237.30 497.20,237.30 497.87,237.30 498.54,237.30 499.22,237.30 499.89,237.30 500.56,237.30 501.23,237.30 501.91,237.30 502.58,237.30 503.25,237.30 503.92,237.30 504.60,237.30 505.27,237.30 505.94,237.30 506.62,237.30 507.29,237.30 507.96,237.30 508.63,237.30 509.31,237.30 509.98,237.30 510.65,237.30 511.32,237.30 512.00,237.30 512.67,237.30 513.34,237.30 514.01,237.30 514.69,237.30 515.36,237.30 516.03,237.30 516.71,237.30 517.38,237.30 518.05,237.30 518.72,237.30 519.40,237.30 520.07,237.30 520.74,237.30 521.41,237.30 522.09,237.30 522.76,237.30 523.43,237.30 524.10,237.30 524.78,237.30 525.45,237.30 526.12,237.30 526.79,237.30 527.47,237.30 528.14,237.30 528.81,237.30 529.49,237.30 530.16,237.30 530.83,237.30 531.50,237.30 532.18,237.30 532.85,237.30 533.52,237.30 534.19,237.30 534.87,237.30 535.54,237.30 536.21,237.30 536.88,237.30 537.56,237.30 538.23,237.30 538.90,237.30 539.58,237.30 540.25,237.30 540.92,237.30 541.59,237.30 542.27,237.30 542.94,237.30 543.61,237.30 544.28,237.30 544.96,237.30 545.63,237.30 546.30,237.30 546.97,237.30 547.65,237.29 548.32,237.29 548.99,237.29 549.67,237.29 550.34,237.29 551.01,237.28 551.68,237.28 552.36,237.28 553.03,237.27 553.70,237.26 554.37,237.25 555.05,237.24 555.72,237.23 556.39,237.21 557.06,237.19 557.74,237.17 558.41,237.14 559.08,237.10 559.75,237.06 560.43,237.00 561.10,236.93 561.77,236.85 562.45,236.75 563.12,236.62 563.79,236.47 564.46,236.28 565.14,236.06 565.81,235.79 566.48,235.47 567.15,235.08 567.83,234.63 568.50,234.09 569.17,233.46 569.84,232.74 570.52,231.92 571.19,231.00 571.86,229.99 572.54,228.88 573.21,227.71 573.88,226.48 574.55,225.23 575.23,223.98 575.90,222.75 576.57,221.58 577.24,220.47 577.92,219.46 578.59,218.53 579.26,217.71 579.93,216.99 580.61,216.37 581.28,215.83 581.95,215.37 582.62,214.99 583.30,214.67 583.97,214.40 584.64,214.17 585.32,213.99 585.99,213.84 586.66,213.71 587.33,213.61 588.01,213.53 588.68,213.46 589.35,213.40 590.02,213.36 590.70,213.32 591.37,213.29 592.04,213.27 592.71,213.25 593.39,213.23 594.06,213.22 594.73,213.20 595.41,213.20 596.08,213.19 596.75,213.18 597.42,213.18 598.10,213.17 598.77,213.17 599.44,213.17 600.11,213.17 600.79,213.17 601.46,213.16 602.13,213.16 602.80,213.16 603.48,213.16 604.15,213.16 604.82,213.16 605.50,213.16" fill="none" stroke="#44ee18" stroke-width="1.3"/>
<polyline points="403.70,237.30 404.37,237.30 405.05,237.30 405.72,237.30 406.39,237.30 407.06,237.30 407.74,237.30 408.41,237.30 409.08,237.30 409.75,237.30 410.43,237.30 411.10,237.30 411.77,237.30 412.44,237.30 413.12,237.30 413.79,237.30 414.46,237.30 415.14,237.30 415.81,237.30 416.48,237.30 417.15,237.30 417.83,237.30 418.50,237.30 419.17,237.30 419.84,237.30 420.52,237.30 421.19,237.30 421.86,237.30 422.53,237.30 423.21,237.30 423.88,237.30 424.55,237.30 425.22,237.30 425.90,237.30 426.57,237.30 427.24,237.30 427.92,237.30 428.59,237.30 429.26,237.30 429.93,237.30 430.61,237.30 431.28,237.30 431.95,237.30 432.62,237.30 433.30,237.30 433.97,237.30 434.64,237.30 435.31,237.30 435.99,237.30 436.66,237.30 437.33,237.30 438.01,237.30 438.68,237.30 439.35,237.30 440.02,237.30 440.70,237.30 441.37,237.30 442.04,237.30 442.71,237.30 443.39,237.30 444.06,237.30 444.73,237.30 445.40,237.30 446.08,237.30 446.75,237.30 447.42,237.30 448.09,237.30 448.77,237.30 449.44,237.30 450.11,237.30 450.79,237.30 451.46,237.30 452.13,237.30 452.80,237.30 453.48,237.30 454.15,237.30 454.82,237.30 455.49,237.30 456.17,237.30 456.84,237.30 457.51,237.30 458.18,237.30 458.86,237.30 459.53,237.30 460.20,237.30 460.88,237.30 461.55,237.30 462.22,237.30 462.89,237.30 463.57,237.30 464.24,237.30 464.91,237.30 465.58,237.30 466.26,237.30 466.93,237.30 467.60,237.30 468.27,237.30 468.95,237.30 469.62,237.30 470.29,237.30 470.96,237.30 471.64,237.30 472.31,237.30 472.98,237.30 473.66,237.30 474.33,237.30 475.00,237.30 475.67,237.30 476.35,237.30 477.02,237.30 477.69,237.30 478.36,237.30 479.04,237.30 479.71,237.30 480.38,237.30 481.05,237.30 481.73,237.30 482.40,237.30 483.07,237.30 483.75,237.30 484.42,237.30 485.09,237.30 485.76,237.30 486.44,237.30 487.11,237.30 487.78,237.30 488.45,237.30 489.13,237.30 489.80,237.30 490.47,237.30 491.14,237.30 491.82,237.30 492.49,237.30 493.16,237.30 493.84,237.30 494.51,237.30 495.18,237.30 495.85,237.30 496.53,237.30 497.20,237.30 497.87,237.30 498.54,237.30 499.22,237.30 499.89,237.30 500.56,237.30 501.23,237.30 501.91,237.30 502.58,237.30 503.25,237.30 503.92,237.30 504.60,237.30 505.27,237.30 505.94,237.30 506.62,237.30 507.29,237.30 507.96,237.30 508.63,237.30 509.31,237.30 509.98,237.30 510.65,237.30 511.32,237.30 512.00,237.30 512.67,237.30 513.34,237.30 514.01,237.30 514.69,237.30 515.36,237.30 516.03,237.30 516.71,237.30 517.38,237.30 518.05,237.30 518.72,237.30 519.40,237.30 520.07,237.30 520.74,237.30 521.41,237.30 522.09,237.30 522.76,237.30 523.43,237.30 524.10,237.30 524.78,237.30 525.45,237.30 526.12,237.30 526.79,237.30 527.47,237.30 528.14,237.30 528.81,237.30 529.49,237.30 530.16,237.30 530.83,237.30 531.50,237.30 532.18,237.30 532.85,237.30 533.52,237.30 534.19,237.30 534.87,237.30 535.54,237.30 536.21,237.30 536.88,237.30 537.56,237.30 538.23,237.30 538.90,237.30 539.58,237.30 540.25,237.30 540.92,237.30 541.59,237.30 542.27,237.30 542.94,237.30 543.61,237.30 544.28,237.30 544.96,237.30 545.63,237.30 546.30,237.30 546.97,237.30 547.65,237.30 548.32,237.29 548.99,237.29 549.67,237.29 550.34,237.29 551.01,237.29 551.68,237.29 552.36,237.28 553.03,237.28 553.70,237.27 554.37,237.27 555.05,237.26 555.72,237.25 556.39,237.24 557.06,237.22 557.74,237.20 558.41,237.18 559.08,237.15 559.75,237.12 560.43,237.08 561.10,237.03 561.77,236.97 562.45,236.89 563.12,236.80 563.79,236.69 564.46,236.55 565.14,236.39 565.81,236.19 566.48,235.95 567.15,235.66 567.83,235.32 568.50,234.92 569.17,234.45 569.84,233.91 570.52,233.28 571.19,232.58 571.86,231.80 572.54,230.95 573.21,230.03 573.88,229.07 574.55,228.07 575.23,227.07 575.90,226.08 576.57,225.13 577.24,224.22 577.92,223.38 578.59,222.62 579.26,221.93 579.93,221.32 580.61,220.80 581.28,220.34 581.95,219.95 582.62,219.62 583.30,219.34 583.97,219.11 584.64,218.92 585.32,218.76 585.99,218.63 586.66,218.52 587.33,218.44 588.01,218.36 588.68,218.30 589.35,218.26 590.02,218.22 590.70,218.18 591.37,218.16 592.04,218.14 592.71,218.12 593.39,218.11 594.06,218.09 594.73,218.08 595.41,218.08 596.08,218.07 596.75,218.07 597.42,218.06 598.10,218.06 598.77,218.06 599.44,218.05 600.11,218.05 600.79,218.05 601.46,218.05 602.13,218.05 602.80,218.05 603.48,218.05 604.15,218.05 604.82,218.05 605.50,218.05" fill="none" stroke="#ff55ff" stroke-width="1.3"/>
<polyline points="403.70,237.29 404.37,237.29 405.05,237.29 405.72,237.29 406.39,237.29 407.06,237.29 407.74,237.28 408.41,237.28 409.08,237.28 409.75,237.28 410.43,237.28 411.10,237.28 411.77,237.28 412.44,237.28 413.12,237.28 413.79,237.28 414.46,237.28 415.14,237.28 415.81,237.28 416.48,237.28 417.15,237.27 417.83,237.27 418.50,237.27 419.17,237.27 419.84,237.27 420.52,237.27 421.19,237.27 421.86,237.27 422.53,237.26 423.21,237.26 423.88,237.26 424.55,237.26 425.22,237.26 425.90,237.26 426.57,237.26 427.24,237.25 427.92,237.25 428.59,237.25 429.26,237.25 429.93,237.25 430.61,237.24 431.28,237.24 431.95,237.24 432.62,237.24 433.30,237.23 433.97,237.23 434.64,237.23 435.31,237.23 435.99,237.22 436.66,237.22 437.33,237.22 438.01,237.21 438.68,237.21 439.35,237.21 440.02,237.20 440.70,237.20 441.37,237.20 442.04,237.19 442.71,237.19 443.39,237.18 444.06,237.18 444.73,237.17 445.40,237.17 446.08,237.16 446.75,237.16 447.42,237.15 448.09,237.15 448.77,237.14 449.44,237.14 450.11,237.13 450.79,237.12 451.46,237.12 452.13,237.11 452.80,237.10 453.48,237.09 454.15,237.08 454.82,237.08 455.49,237.07 456.17,237.06 456.84,237.05 457.51,237.04 458.18,237.03 458.86,237.02 459.53,237.01 460.20,237.00 460.88,236.98 461.55,236.97 462.22,236.96 462.89,236.95 463.57,236.93 464.24,236.92 464.91,236.90 465.58,236.89 466.26,236.87 466.93,236.85 467.60,236.84 468.27,236.82 468.95,236.80 469.62,236.78 470.29,236.76 470.96,236.74 471.64,236.72 472.31,236.69 472.98,236.67 473.66,236.64 474.33,236.62 475.00,236.59 475.67,236.56 476.35,236.54 477.02,236.51 477.69,236.48 478.36,236.44 479.04,236.41 479.71,236.37 480.38,236.34 481.05,236.30 481.73,236.26 482.40,236.22 483.07,236.18 483.75,236.14 484.42,236.09 485.09,236.04 485.76,235.99 486.44,235.94 487.11,235.89 487.78,235.84 488.45,235.78 489.13,235.72 489.80,235.66 490.47,235.59 491.14,235.53 491.82,235.46 492.49,235.39 493.16,235.31 493.84,235.24 494.51,235.16 495.18,235.07 495.85,234.99 496.53,234.90 497.20,234.81 497.87,234.71 498.54,234.61 499.22,234.50 499.89,234.40 500.56,234.29 501.23,234.17 501.91,234.05 502.58,233.92 503.25,233.79 503.92,233.66 504.60,233.52 505.27,233.37 505.94,233.22 506.62,233.07 507.29,232.91 507.96,232.74 508.63,232.57 509.31,232.38 509.98,232.20 510.65,232.00 511.32,231.80 512.00,231.59 512.67,231.38 513.34,231.16 514.01,230.92 514.69,230.68 515.36,230.43 516.03,230.18 516.71,229.91 517.38,229.63 518.05,229.35 518.72,229.05 519.40,228.74 520.07,228.43 520.74,228.10 521.41,227.76 522.09,227.40 522.76,227.04 523.43,226.66 524.10,226.27 524.78,225.87 525.45,225.46 526.12,225.03 526.79,224.58 527.47,224.12 528.14,223.65 528.81,223.16 529.49,222.65 530.16,222.13 530.83,221.59 531.50,221.04 532.18,220.47 532.85,219.88 533.52,219.27 534.19,218.64 534.87,218.00 535.54,217.33 536.21,216.65 536.88,215.94 537.56,215.22 538.23,214.47 538.90,213.71 539.58,212.92 540.25,212.11 540.92,211.28 541.59,210.43 542.27,209.55 542.94,208.65 543.61,207.73 544.28,206.79 544.96,205.82 545.63,204.84 546.30,203.82 546.97,202.79 547.65,201.73 548.32,200.65 548.99,199.54 549.67,198.42 550.34,197.27 551.01,196.09 551.68,194.90 552.36,193.68 553.03,192.44 553.70,191.18 554.37,189.89 555.05,188.59 555.72,187.27 556.39,185.92 557.06,184.56 557.74,183.18 558.41,181.78 559.08,180.37 559.75,178.93 560.43,177.49 561.10,176.02 561.77,174.55 562.45,173.06 563.12,171.56 563.79,170.04 564.46,168.52 565.14,166.99 565.81,165.45 566.48,163.90 567.15,162.35 567.83,160.80 568.50,159.24 569.17,157.67 569.84,156.11 570.52,154.55 571.19,152.98 571.86,151.42 572.54,149.87 573.21,148.31 573.88,146.77 574.55,145.23 575.23,143.70 575.90,142.17 576.57,140.66 577.24,139.16 577.92,137.67 578.59,136.20 579.26,134.73 579.93,133.28 580.61,131.85 581.28,130.44 581.95,129.04 582.62,127.66 583.30,126.29 583.97,124.95 584.64,123.63 585.32,122.32 585.99,121.04 586.66,119.78 587.33,118.54 588.01,117.32 588.68,116.13 589.35,114.95 590.02,113.80 590.70,112.68 591.37,111.57 592.04,110.49 592.71,109.43 593.39,108.40 594.06,107.38 594.73,106.39 595.41,105.43 596.08,104.49 596.75,103.57 597.42,102.67 598.10,101.79 598.77,100.94 599.44,100.11 600.11,99.30 600.79,98.51 601.46,97.75 602.13,97.00 602.80,96.28 603.48,95.57 604.15,94.89 604.82,94.22 605.50,93.58" fill="none" stroke="#f43c41" stroke-width="1.3"/>
<polyline points="403.70,237.30 404.37,237.30 405.05,237.30 405.72,237.29 406.39,237.29 407.06,237.28 407.74,237.27 408.41,237.26 409.08,237.24 409.75,237.23 410.43,237.21 411.10,237.20 411.77,237.18 412.44,237.16 413.12,237.14 413.79,237.11 414.46,237.09 415.14,237.06 415.81,237.03 416.48,237.00 417.15,236.97 417.83,236.94 418.50,236.91 419.17,236.88 419.84,236.84 420.52,236.80 421.19,236.77 421.86,236.73 422.53,236.69 423.21,236.65 423.88,236.60 424.55,236.56 425.22,236.52 425.90,236.47 426.57,236.43 427.24,236.38 427.92,236.33 428.59,236.28 429.26,236.23 429.93,236.18 430.61,236.13 431.28,236.08 431.95,236.02 432.62,235.97 433.30,235.92 433.97,235.86 434.64,235.81 435.31,235.75 435.99,235.69 436.66,235.63 437.33,235.58 438.01,235.51 438.68,235.44 439.35,235.37 440.02,235.28 440.70,235.19 441.37,235.10 442.04,234.99 442.71,234.88 443.39,234.76 444.06,234.64 444.73,234.51 445.40,234.38 446.08,234.23 446.75,234.09 447.42,233.93 448.09,233.78 448.77,233.61 449.44,233.44 450.11,233.27 450.79,233.09 451.46,232.90 452.13,232.71 452.80,232.51 453.48,232.31 454.15,232.11 454.82,231.90 455.49,231.69 456.17,231.47 456.84,231.25 457.51,231.02 458.18,230.79 458.86,230.56 459.53,230.32 460.20,230.08 460.88,229.83 461.55,229.58 462.22,229.33 462.89,229.08 463.57,228.82 464.24,228.56 464.91,228.29 465.58,228.02 466.26,227.76 466.93,227.48 467.60,227.21 468.27,226.93 468.95,226.65 469.62,226.37 470.29,226.09 470.96,225.80 471.64,225.51 472.31,225.20 472.98,224.88 473.66,224.54 474.33,224.19 475.00,223.83 475.67,223.45 476.35,223.06 477.02,222.66 477.69,222.24 478.36,221.81 479.04,221.37 479.71,220.92 480.38,220.46 481.05,219.99 481.73,219.51 482.40,219.01 483.07,218.51 483.75,218.00 484.42,217.48 485.09,216.95 485.76,216.41 486.44,215.87 487.11,215.31 487.78,214.75 488.45,214.18 489.13,213.61 489.80,213.02 490.47,212.44 491.14,211.84 491.82,211.24 492.49,210.64 493.16,210.03 493.84,209.41 494.51,208.79 495.18,208.17 495.85,207.55 496.53,206.92 497.20,206.28 497.87,205.65 498.54,205.01 499.22,204.37 499.89,203.73 500.56,203.09 501.23,202.44 501.91,201.80 502.58,201.15 503.25,200.51 503.92,199.86 504.60,199.22 505.27,198.57 505.94,197.90 506.62,197.21 507.29,196.51 507.96,195.80 508.63,195.07 509.31,194.33 509.98,193.57 510.65,192.81 511.32,192.03 512.00,191.24 512.67,190.45 513.34,189.64 514.01,188.83 514.69,188.00 515.36,187.17 516.03,186.34 516.71,185.50 517.38,184.65 518.05,183.80 518.72,182.95 519.40,182.09 520.07,181.24 520.74,180.38 521.41,179.52 522.09,178.66 522.76,177.80 523.43,176.94 524.10,176.08 524.78,175.23 525.45,174.38 526.12,173.53 526.79,172.69 527.47,171.85 528.14,171.03 528.81,170.20 529.49,169.39 530.16,168.58 530.83,167.78 531.50,166.99 532.18,166.22 532.85,165.45 533.52,164.69 534.19,163.93 534.87,163.17 535.54,162.41 536.21,161.64 536.88,160.88 537.56,160.12 538.23,159.36 538.90,158.60 539.58,157.84 540.25,157.09 540.92,156.33 541.59,155.57 542.27,154.82 542.94,154.06 543.61,153.31 544.28,152.56 544.96,151.81 545.63,151.06 546.30,150.31 546.97,149.56 547.65,148.82 548.32,148.07 548.99,147.33 549.67,146.59 550.34,145.85 551.01,145.12 551.68,144.39 552.36,143.65 553.03,142.93 553.70,142.20 554.37,141.47 555.05,140.75 555.72,140.03 556.39,139.32 557.06,138.60 557.74,137.89 558.41,137.18 559.08,136.48 559.75,135.78 560.43,135.08 561.10,134.38 561.77,133.69 562.45,133.00 563.12,132.32 563.79,131.64 564.46,130.96 565.14,130.29 565.81,129.62 566.48,128.95 567.15,128.29 567.83,127.63 568.50,126.98 569.17,126.33 569.84,125.68 570.52,125.04 571.19,124.41 571.86,123.78 572.54,123.15 573.21,122.54 573.88,121.94 574.55,121.34 575.23,120.75 575.90,120.18 576.57,119.60 577.24,119.04 577.92,118.48 578.59,117.93 579.26,117.38 579.93,116.83 580.61,116.29 581.28,115.75 581.95,115.22 582.62,114.68 583.30,114.15 583.97,113.62 584.64,113.09 585.32,112.55 585.99,112.02 586.66,111.49 587.33,110.95 588.01,110.41 588.68,109.87 589.35,109.32 590.02,108.77 590.70,108.21 591.37,107.65 592.04,107.08 592.71,106.50 593.39,105.92 594.06,105.32 594.73,104.72 595.41,104.11 596.08,103.49 596.75,102.86 597.42,102.22 598.10,101.57 598.77,100.89 599.44,100.21 600.11,99.51 600.79,98.79 601.46,98.07 602.13,97.34 602.80,96.60 603.48,95.86 604.15,95.11 604.82,94.35 605.50,93.60" fill="none" stroke="#6aacff" stroke-width="1.3"/>
<polyline points="403.70,237.26 404.37,237.26 405.05,237.26 405.72,237.25 406.39,237.25 407.06,237.25 407.74,237.25 408.41,237.25 409.08,237.24 409.75,237.24 410.43,237.24 411.10,237.23 411.77,237.23 412.44,237.23 413.12,237.22 413.79,237.22 414.46,237.22 415.14,237.21 415.81,237.21 416.48,237.20 417.15,237.20 417.83,237.19 418.50,237.19 419.17,237.18 419.84,237.18 420.52,237.17 421.19,237.17 421.86,237.16 422.53,237.15 423.21,237.15 423.88,237.14 424.55,237.13 425.22,237.12 425.90,237.12 426.57,237.11 427.24,237.10 427.92,237.09 428.59,237.08 429.26,237.07 429.93,237.06 430.61,237.04 431.28,237.03 431.95,237.02 432.62,237.01 433.30,236.99 433.97,236.98 434.64,236.96 435.31,236.95 435.99,236.93 436.66,236.91 437.33,236.89 438.01,236.87 438.68,236.85 439.35,236.83 440.02,236.81 440.70,236.79 441.37,236.76 442.04,236.73 442.71,236.71 443.39,236.68 444.06,236.65 444.73,236.62 445.40,236.59 446.08,236.55 446.75,236.52 447.42,236.48 448.09,236.44 448.77,236.40 449.44,236.36 450.11,236.31 450.79,236.27 451.46,236.22 452.13,236.17 452.80,236.11 453.48,236.06 454.15,236.00 454.82,235.94 455.49,235.87 456.17,235.80 456.84,235.73 457.51,235.66 458.18,235.58 458.86,235.50 459.53,235.42 460.20,235.33 460.88,235.23 461.55,235.14 462.22,235.04 462.89,234.93 463.57,234.82 464.24,234.70 464.91,234.58 465.58,234.45 466.26,234.32 466.93,234.18 467.60,234.04 468.27,233.89 468.95,233.73 469.62,233.56 470.29,233.39 470.96,233.21 471.64,233.02 472.31,232.82 472.98,232.61 473.66,232.40 474.33,232.17 475.00,231.94 475.67,231.69 476.35,231.44 477.02,231.17 477.69,230.89 478.36,230.60 479.04,230.30 479.71,229.99 480.38,229.66 481.05,229.32 481.73,228.96 482.40,228.59 483.07,228.20 483.75,227.80 484.42,227.39 485.09,226.95 485.76,226.50 486.44,226.03 487.11,225.54 487.78,225.03 488.45,224.51 489.13,223.96 489.80,223.40 490.47,222.81 491.14,222.20 491.82,221.57 492.49,220.92 493.16,220.24 493.84,219.54 494.51,218.82 495.18,218.07 495.85,217.30 496.53,216.51 497.20,215.69 497.87,214.84 498.54,213.97 499.22,213.07 499.89,212.15 500.56,211.20 501.23,210.23 501.91,209.22 502.58,208.20 503.25,207.15 503.92,206.07 504.60,204.96 505.27,203.84 505.94,202.68 506.62,201.51 507.29,200.31 507.96,199.09 508.63,197.84 509.31,196.58 509.98,195.29 510.65,193.98 511.32,192.66 512.00,191.32 512.67,189.96 513.34,188.59 514.01,187.20 514.69,185.81 515.36,184.40 516.03,182.98 516.71,181.55 517.38,180.12 518.05,178.68 518.72,177.24 519.40,175.80 520.07,174.35 520.74,172.91 521.41,171.47 522.09,170.04 522.76,168.61 523.43,167.19 524.10,165.77 524.78,164.37 525.45,162.98 526.12,161.60 526.79,160.24 527.47,158.89 528.14,157.56 528.81,156.25 529.49,154.95 530.16,153.68 530.83,152.43 531.50,151.20 532.18,149.99 532.85,148.80 533.52,147.64 534.19,146.50 534.87,145.39 535.54,144.30 536.21,143.24 536.88,142.20 537.56,141.19 538.23,140.20 538.90,139.24 539.58,138.31 540.25,137.40 540.92,136.52 541.59,135.67 542.27,134.84 542.94,134.03 543.61,133.25 544.28,132.49 544.96,131.76 545.63,131.05 546.30,130.37 546.97,129.71 547.65,129.07 548.32,128.45 548.99,127.85 549.67,127.28 550.34,126.73 551.01,126.19 551.68,125.68 552.36,125.18 553.03,124.70 553.70,124.25 554.37,123.80 555.05,123.38 555.72,122.97 556.39,122.58 557.06,122.20 557.74,121.84 558.41,121.49 559.08,121.16 559.75,120.84 560.43,120.53 561.10,120.24 561.77,119.96 562.45,119.68 563.12,119.42 563.79,119.18 564.46,118.94 565.14,118.71 565.81,118.49 566.48,118.28 567.15,118.08 567.83,117.89 568.50,117.70 569.17,117.53 569.84,117.36 570.52,117.20 571.19,117.04 571.86,116.89 572.54,116.75 573.21,116.62 573.88,116.49 574.55,116.36 575.23,116.25 575.90,116.13 576.57,116.02 577.24,115.92 577.92,115.82 578.59,115.73 579.26,115.64 579.93,115.55 580.61,115.47 581.28,115.39 581.95,115.31 582.62,115.24 583.30,115.17 583.97,115.11 584.64,115.04 585.32,114.98 585.99,114.93 586.66,114.87 587.33,114.82 588.01,114.77 588.68,114.72 589.35,114.68 590.02,114.63 590.70,114.59 591.37,114.55 592.04,114.51 592.71,114.48 593.39,114.44 594.06,114.41 594.73,114.38 595.41,114.35 596.08,114.32 596.75,114.29 597.42,114.27 598.10,114.24 598.77,114.22 599.44,114.20 600.11,114.17 600.79,114.15 601.46,114.13 602.13,114.11 602.80,114.10 603.48,114.08 604.15,114.06 604.82,114.05 605.50,114.03" fill="none" stroke="#000000" stroke-width="1.3"/>
<path d="M605.50,204.82V219.19M601.20,204.82h8.6M601.20,219.19h8.6" stroke="#44ee18" stroke-width="1.3" fill="none"/>
<path d="M571.86,227.55L575.86,235.15L567.86,235.15Z" fill="#44ee18" stroke="#44ee18" stroke-width="1.2" stroke-linejoin="round"/>
<path d="M605.50,208.01L609.50,215.61L601.50,215.61Z" fill="#44ee18" stroke="#44ee18" stroke-width="1.2" stroke-linejoin="round"/>
<path d="M571.86,222.93V237.30M567.56,222.93h8.6M567.56,237.30h8.6" stroke="#ff55ff" stroke-width="1.3" fill="none"/>
<path d="M605.50,210.28V226.09M601.20,210.28h8.6M601.20,226.09h8.6" stroke="#ff55ff" stroke-width="1.3" fill="none"/>
<rect x="399.00" y="231.88" width="9.40" height="9.40" fill="#ff55ff"/>
<rect x="432.63" y="231.16" width="9.40" height="9.40" fill="#ff55ff"/>
<rect x="466.26" y="231.16" width="9.40" height="9.40" fill="#ff55ff"/>
<rect x="499.90" y="231.16" width="9.40" height="9.40" fill="#ff55ff"/>
<rect x="533.53" y="231.16" width="9.40" height="9.40" fill="#ff55ff"/>
<rect x="567.16" y="225.42" width="9.40" height="9.40" fill="#ff55ff"/>
<rect x="600.79" y="213.49" width="9.40" height="9.40" fill="#ff55ff"/>
<path d="M470.96,224.37V228.68M466.66,224.37h8.6M466.66,228.68h8.6" stroke="#6aacff" stroke-width="1.3" fill="none"/>
<path d="M504.60,189.16V207.84M500.30,189.16h8.6M500.30,207.84h8.6" stroke="#6aacff" stroke-width="1.3" fill="none"/>
<path d="M538.23,149.50V169.62M533.93,149.50h8.6M533.93,169.62h8.6" stroke="#6aacff" stroke-width="1.3" fill="none"/>
<path d="M571.86,121.77V137.28M567.56,121.77h8.6M567.56,137.28h8.6" stroke="#6aacff" stroke-width="1.3" fill="none"/>
<path d="M403.70,233.30L407.30,237.30L403.70,241.30L400.10,237.30Z" fill="#6aacff"/>
<path d="M437.33,231.86L440.93,235.86L437.33,239.86L433.73,235.86Z" fill="#6aacff"/>
<path d="M470.96,222.52L474.56,226.52L470.96,230.52L467.36,226.52Z" fill="#6aacff"/>
<path d="M504.60,194.50L508.20,198.50L504.60,202.50L501.00,198.50Z" fill="#6aacff"/>
<path d="M538.23,155.56L541.83,159.56L538.23,163.56L534.63,159.56Z" fill="#6aacff"/>
<path d="M571.86,125.53L575.46,129.53L571.86,133.53L568.26,129.53Z" fill="#6aacff"/>
<path d="M605.50,89.60L609.10,93.60L605.50,97.60L601.89,93.60Z" fill="#6aacff"/>
<path d="M538.23,208.27V219.77M533.93,208.27h8.6M533.93,219.77h8.6" stroke="#f43c41" stroke-width="1.3" fill="none"/>
<path d="M571.86,146.19V157.69M567.56,146.19h8.6M567.56,157.69h8.6" stroke="#f43c41" stroke-width="1.3" fill="none"/>
<rect x="400.00" y="233.60" width="7.40" height="7.40" fill="#f43c41"/>
<rect x="433.63" y="233.60" width="7.40" height="7.40" fill="#f43c41"/>
<rect x="467.26" y="232.16" width="7.40" height="7.40" fill="#f43c41"/>
<rect x="500.90" y="224.55" width="7.40" height="7.40" fill="#f43c41"/>
<rect x="534.53" y="210.32" width="7.40" height="7.40" fill="#f43c41"/>
<rect x="568.16" y="148.24" width="7.40" height="7.40" fill="#f43c41"/>
<rect x="601.79" y="89.90" width="7.40" height="7.40" fill="#f43c41"/>
<path d="M504.60,193.47V207.84M500.30,193.47h8.6M500.30,207.84h8.6" stroke="#000000" stroke-width="1.3" fill="none"/>
<path d="M538.23,136.71V145.33M533.93,136.71h8.6M533.93,145.33h8.6" stroke="#000000" stroke-width="1.3" fill="none"/>
<path d="M571.86,116.30V145.04M567.56,116.30h8.6M567.56,145.04h8.6" stroke="#000000" stroke-width="1.3" fill="none"/>
<circle cx="403.70" cy="237.30" r="4.00" fill="#000000"/>
<circle cx="437.33" cy="234.43" r="4.00" fill="#000000"/>
<circle cx="470.96" cy="231.26" r="4.00" fill="#000000"/>
<circle cx="504.60" cy="200.66" r="4.00" fill="#000000"/>
<circle cx="538.23" cy="141.02" r="4.00" fill="#000000"/>
<circle cx="571.86" cy="130.67" r="4.00" fill="#000000"/>
<circle cx="605.50" cy="105.81" r="4.00" fill="#000000"/>
</g>
<line x1="395" y1="237.30" x2="403.70" y2="237.30" stroke="#000" stroke-width="1.9"/>
<text x="394.2" y="242.90" text-anchor="end" font-size="14" font-weight="bold" textLength="26" lengthAdjust="spacingAndGlyphs">0.00</text>
<line x1="395" y1="201.38" x2="403.70" y2="201.38" stroke="#000" stroke-width="1.9"/>
<text x="394.2" y="206.97" text-anchor="end" font-size="14" font-weight="bold" textLength="26" lengthAdjust="spacingAndGlyphs">0.25</text>
<line x1="395" y1="165.45" x2="403.70" y2="165.45" stroke="#000" stroke-width="1.9"/>
<text x="394.2" y="171.05" text-anchor="end" font-size="14" font-weight="bold" textLength="26" lengthAdjust="spacingAndGlyphs">0.50</text>
<line x1="395" y1="129.53" x2="403.70" y2="129.53" stroke="#000" stroke-width="1.9"/>
<text x="394.2" y="135.13" text-anchor="end" font-size="14" font-weight="bold" textLength="26" lengthAdjust="spacingAndGlyphs">0.75</text>
<line x1="395" y1="93.60" x2="403.70" y2="93.60" stroke="#000" stroke-width="1.9"/>
<text x="394.2" y="99.20" text-anchor="end" font-size="14" font-weight="bold" textLength="26" lengthAdjust="spacingAndGlyphs">1.00</text>
<line x1="395" y1="57.68" x2="403.70" y2="57.68" stroke="#000" stroke-width="1.9"/>
<text x="394.2" y="63.28" text-anchor="end" font-size="14" font-weight="bold" textLength="26" lengthAdjust="spacingAndGlyphs">1.25</text>
<line x1="403.70" y1="237.30" x2="403.70" y2="245.70" stroke="#000" stroke-width="1.9"/>
<text x="403.70" y="260.50" text-anchor="middle" font-size="14.3" font-weight="bold" textLength="15.2" lengthAdjust="spacingAndGlyphs">50</text>
<line x1="470.96" y1="237.30" x2="470.96" y2="245.70" stroke="#000" stroke-width="1.9"/>
<text x="470.96" y="260.50" text-anchor="middle" font-size="14.3" font-weight="bold" textLength="22.4" lengthAdjust="spacingAndGlyphs">100</text>
<line x1="538.23" y1="237.30" x2="538.23" y2="245.70" stroke="#000" stroke-width="1.9"/>
<text x="538.23" y="260.50" text-anchor="middle" font-size="14.3" font-weight="bold" textLength="22.4" lengthAdjust="spacingAndGlyphs">150</text>
<line x1="605.50" y1="237.30" x2="605.50" y2="245.70" stroke="#000" stroke-width="1.9"/>
<text x="605.50" y="260.50" text-anchor="middle" font-size="14.3" font-weight="bold" textLength="22.4" lengthAdjust="spacingAndGlyphs">200</text>
<line x1="672.76" y1="237.30" x2="672.76" y2="245.70" stroke="#000" stroke-width="1.9"/>
<text x="672.76" y="260.50" text-anchor="middle" font-size="14.3" font-weight="bold" textLength="22.4" lengthAdjust="spacingAndGlyphs">250</text>
<text x="442.6" y="283.30" font-size="14" font-weight="bold" textLength="192.8" lengthAdjust="spacingAndGlyphs">Negative pressure (mm Hg)</text>
<text transform="translate(360.4,147.10) rotate(-90)" text-anchor="middle" font-size="14.5" font-weight="bold">I/Imax</text>
<line x1="414" y1="38.40" x2="434.5" y2="38.40" stroke="#000000" stroke-width="1.3"/>
<circle cx="424.30" cy="38.40" r="4.00" fill="#000000"/>
<text x="442" y="42.70" font-size="12" fill="#231f20">Wildtype (136 ± 6 mmHg)</text>
<line x1="414" y1="57.90" x2="434.5" y2="57.90" stroke="#f43c41" stroke-width="1.3"/>
<rect x="420.60" y="54.20" width="7.40" height="7.40" fill="#f43c41"/>
<text x="442" y="62.20" font-size="12" fill="#231f20">P393A (174 ± 5 mm Hg)</text>
<line x1="414" y1="75.60" x2="434.5" y2="75.60" stroke="#6aacff" stroke-width="1.3"/>
<path d="M424.30,71.60L427.90,75.60L424.30,79.60L420.70,75.60Z" fill="#6aacff"/>
<text x="442" y="79.90" font-size="12" fill="#231f20">P511A (152 ± 10 mm Hg)</text>
<line x1="414" y1="92.50" x2="434.5" y2="92.50" stroke="#ff55ff" stroke-width="1.3"/>
<rect x="419.60" y="87.80" width="9.40" height="9.40" fill="#ff55ff"/>
<text x="442" y="96.80" font-size="12" fill="#231f20">P443A (&gt;200 mmHg)</text>
<line x1="414" y1="109.70" x2="434.5" y2="109.70" stroke="#44ee18" stroke-width="1.3"/>
<path d="M424.30,105.70L428.30,113.30L420.30,113.30Z" fill="#44ee18" stroke="#44ee18" stroke-width="1.2" stroke-linejoin="round"/>
<text x="442" y="114.00" font-size="12" fill="#231f20">G480A (&gt;200 mmHg)</text>
</g>
<g fill="#000">
<line x1="403.70" y1="373.98" x2="403.70" y2="555.70" stroke="#000" stroke-width="2.1"/>
<line x1="402.65" y1="554.60" x2="673.76" y2="554.60" stroke="#000" stroke-width="2.2"/>
<clipPath id="pc554"><rect x="403.70" y="354.60" width="300" height="200"/></clipPath>
<g clip-path="url(#pc554)">
<line x1="404.7" y1="483.15" x2="673.2" y2="484.35" stroke="#ee3a3a" stroke-width="1.1" stroke-dasharray="1.5 1.5"/>
<polyline points="403.70,554.60 404.37,554.60 405.05,554.60 405.72,554.60 406.39,554.60 407.06,554.60 407.74,554.60 408.41,554.60 409.08,554.60 409.75,554.60 410.43,554.60 411.10,554.60 411.77,554.60 412.44,554.60 413.12,554.60 413.79,554.60 414.46,554.60 415.14,554.60 415.81,554.60 416.48,554.60 417.15,554.60 417.83,554.60 418.50,554.60 419.17,554.60 419.84,554.60 420.52,554.60 421.19,554.60 421.86,554.60 422.53,554.60 423.21,554.60 423.88,554.60 424.55,554.60 425.22,554.60 425.90,554.60 426.57,554.60 427.24,554.60 427.92,554.60 428.59,554.60 429.26,554.60 429.93,554.60 430.61,554.60 431.28,554.60 431.95,554.60 432.62,554.60 433.30,554.60 433.97,554.60 434.64,554.60 435.31,554.60 435.99,554.60 436.66,554.60 437.33,554.60 438.01,554.60 438.68,554.60 439.35,554.60 440.02,554.60 440.70,554.60 441.37,554.59 442.04,554.59 442.71,554.59 443.39,554.59 444.06,554.59 444.73,554.59 445.40,554.59 446.08,554.59 446.75,554.59 447.42,554.59 448.09,554.59 448.77,554.59 449.44,554.59 450.11,554.59 450.79,554.59 451.46,554.59 452.13,554.58 452.80,554.58 453.48,554.58 454.15,554.58 454.82,554.58 455.49,554.58 456.17,554.58 456.84,554.57 457.51,554.57 458.18,554.57 458.86,554.57 459.53,554.57 460.20,554.56 460.88,554.56 461.55,554.56 462.22,554.55 462.89,554.55 463.57,554.55 464.24,554.54 464.91,554.54 465.58,554.53 466.26,554.53 466.93,554.52 467.60,554.52 468.27,554.51 468.95,554.51 469.62,554.50 470.29,554.49 470.96,554.49 471.64,554.48 472.31,554.47 472.98,554.46 473.66,554.45 474.33,554.44 475.00,554.43 475.67,554.41 476.35,554.40 477.02,554.38 477.69,554.37 478.36,554.35 479.04,554.33 479.71,554.31 480.38,554.29 481.05,554.27 481.73,554.25 482.40,554.22 483.07,554.19 483.75,554.16 484.42,554.13 485.09,554.10 485.76,554.06 486.44,554.02 487.11,553.98 487.78,553.94 488.45,553.89 489.13,553.84 489.80,553.78 490.47,553.72 491.14,553.66 491.82,553.59 492.49,553.52 493.16,553.44 493.84,553.35 494.51,553.26 495.18,553.17 495.85,553.06 496.53,552.95 497.20,552.83 497.87,552.71 498.54,552.57 499.22,552.42 499.89,552.27 500.56,552.10 501.23,551.92 501.91,551.73 502.58,551.53 503.25,551.31 503.92,551.07 504.60,550.82 505.27,550.56 505.94,550.27 506.62,549.96 507.29,549.64 507.96,549.29 508.63,548.92 509.31,548.52 509.98,548.10 510.65,547.65 511.32,547.17 512.00,546.65 512.67,546.11 513.34,545.53 514.01,544.91 514.69,544.26 515.36,543.56 516.03,542.83 516.71,542.04 517.38,541.22 518.05,540.34 518.72,539.41 519.40,538.43 520.07,537.39 520.74,536.30 521.41,535.15 522.09,533.94 522.76,532.67 523.43,531.33 524.10,529.93 524.78,528.46 525.45,526.93 526.12,525.33 526.79,523.67 527.47,521.93 528.14,520.13 528.81,518.27 529.49,516.33 530.16,514.34 530.83,512.29 531.50,510.17 532.18,508.00 532.85,505.78 533.52,503.51 534.19,501.20 534.87,498.85 535.54,496.46 536.21,494.04 536.88,491.60 537.56,489.14 538.23,486.67 538.90,484.19 539.58,481.71 540.25,479.24 540.92,476.78 541.59,474.33 542.27,471.92 542.94,469.53 543.61,467.17 544.28,464.86 544.96,462.59 545.63,460.37 546.30,458.20 546.97,456.09 547.65,454.03 548.32,452.04 548.99,450.11 549.67,448.24 550.34,446.44 551.01,444.71 551.68,443.04 552.36,441.44 553.03,439.91 553.70,438.45 554.37,437.04 555.05,435.71 555.72,434.44 556.39,433.23 557.06,432.07 557.74,430.98 558.41,429.95 559.08,428.97 559.75,428.04 560.43,427.16 561.10,426.33 561.77,425.55 562.45,424.81 563.12,424.11 563.79,423.46 564.46,422.84 565.14,422.26 565.81,421.72 566.48,421.21 567.15,420.73 567.83,420.28 568.50,419.85 569.17,419.46 569.84,419.08 570.52,418.74 571.19,418.41 571.86,418.10 572.54,417.82 573.21,417.55 573.88,417.30 574.55,417.07 575.23,416.85 575.90,416.64 576.57,416.45 577.24,416.27 577.92,416.11 578.59,415.95 579.26,415.80 579.93,415.67 580.61,415.54 581.28,415.42 581.95,415.31 582.62,415.21 583.30,415.11 583.97,415.02 584.64,414.94 585.32,414.86 585.99,414.78 586.66,414.72 587.33,414.65 588.01,414.59 588.68,414.54 589.35,414.49 590.02,414.44 590.70,414.39 591.37,414.35 592.04,414.31 592.71,414.28 593.39,414.24 594.06,414.21 594.73,414.18 595.41,414.15 596.08,414.13 596.75,414.10 597.42,414.08 598.10,414.06 598.77,414.04 599.44,414.02 600.11,414.01 600.79,413.99 601.46,413.98 602.13,413.96 602.80,413.95 603.48,413.94 604.15,413.93 604.82,413.92 605.50,413.91" fill="none" stroke="#f43c41" stroke-width="1.3"/>
<polyline points="403.70,554.54 404.37,554.54 405.05,554.53 405.72,554.53 406.39,554.53 407.06,554.53 407.74,554.52 408.41,554.52 409.08,554.52 409.75,554.51 410.43,554.51 411.10,554.51 411.77,554.50 412.44,554.50 413.12,554.49 413.79,554.49 414.46,554.48 415.14,554.48 415.81,554.47 416.48,554.47 417.15,554.46 417.83,554.46 418.50,554.45 419.17,554.45 419.84,554.44 420.52,554.43 421.19,554.43 421.86,554.42 422.53,554.41 423.21,554.40 423.88,554.40 424.55,554.39 425.22,554.38 425.90,554.37 426.57,554.36 427.24,554.35 427.92,554.34 428.59,554.33 429.26,554.32 429.93,554.31 430.61,554.30 431.28,554.28 431.95,554.27 432.62,554.26 433.30,554.24 433.97,554.23 434.64,554.21 435.31,554.20 435.99,554.18 436.66,554.16 437.33,554.14 438.01,554.13 438.68,554.11 439.35,554.09 440.02,554.06 440.70,554.04 441.37,554.02 442.04,554.00 442.71,553.97 443.39,553.95 444.06,553.92 444.73,553.89 445.40,553.86 446.08,553.83 446.75,553.80 447.42,553.77 448.09,553.73 448.77,553.70 449.44,553.66 450.11,553.62 450.79,553.58 451.46,553.54 452.13,553.50 452.80,553.45 453.48,553.41 454.15,553.36 454.82,553.31 455.49,553.26 456.17,553.20 456.84,553.14 457.51,553.08 458.18,553.02 458.86,552.96 459.53,552.89 460.20,552.82 460.88,552.75 461.55,552.68 462.22,552.60 462.89,552.52 463.57,552.43 464.24,552.34 464.91,552.25 465.58,552.16 466.26,552.06 466.93,551.96 467.60,551.85 468.27,551.74 468.95,551.62 469.62,551.50 470.29,551.38 470.96,551.25 471.64,551.12 472.31,550.98 472.98,550.83 473.66,550.68 474.33,550.52 475.00,550.36 475.67,550.19 476.35,550.02 477.02,549.84 477.69,549.65 478.36,549.45 479.04,549.25 479.71,549.04 480.38,548.82 481.05,548.59 481.73,548.35 482.40,548.11 483.07,547.85 483.75,547.59 484.42,547.32 485.09,547.03 485.76,546.74 486.44,546.44 487.11,546.12 487.78,545.79 488.45,545.46 489.13,545.11 489.80,544.74 490.47,544.37 491.14,543.98 491.82,543.58 492.49,543.16 493.16,542.73 493.84,542.29 494.51,541.83 495.18,541.35 495.85,540.86 496.53,540.35 497.20,539.83 497.87,539.29 498.54,538.73 499.22,538.16 499.89,537.56 500.56,536.95 501.23,536.32 501.91,535.67 502.58,535.00 503.25,534.32 503.92,533.61 504.60,532.88 505.27,532.13 505.94,531.36 506.62,530.57 507.29,529.76 507.96,528.93 508.63,528.08 509.31,527.20 509.98,526.31 510.65,525.39 511.32,524.45 512.00,523.49 512.67,522.51 513.34,521.51 514.01,520.48 514.69,519.43 515.36,518.37 516.03,517.28 516.71,516.17 517.38,515.04 518.05,513.90 518.72,512.73 519.40,511.55 520.07,510.34 520.74,509.12 521.41,507.88 522.09,506.63 522.76,505.36 523.43,504.08 524.10,502.78 524.78,501.47 525.45,500.14 526.12,498.81 526.79,497.47 527.47,496.11 528.14,494.75 528.81,493.38 529.49,492.00 530.16,490.62 530.83,489.24 531.50,487.85 532.18,486.46 532.85,485.07 533.52,483.68 534.19,482.29 534.87,480.90 535.54,479.52 536.21,478.14 536.88,476.77 537.56,475.41 538.23,474.05 538.90,472.71 539.58,471.37 540.25,470.04 540.92,468.73 541.59,467.43 542.27,466.14 542.94,464.87 543.61,463.61 544.28,462.37 544.96,461.15 545.63,459.94 546.30,458.75 546.97,457.58 547.65,456.43 548.32,455.30 548.99,454.19 549.67,453.10 550.34,452.03 551.01,450.98 551.68,449.95 552.36,448.94 553.03,447.95 553.70,446.99 554.37,446.04 555.05,445.12 555.72,444.22 556.39,443.34 557.06,442.48 557.74,441.65 558.41,440.83 559.08,440.04 559.75,439.27 560.43,438.51 561.10,437.78 561.77,437.07 562.45,436.38 563.12,435.71 563.79,435.05 564.46,434.42 565.14,433.81 565.81,433.21 566.48,432.63 567.15,432.07 567.83,431.53 568.50,431.00 569.17,430.49 569.84,429.99 570.52,429.52 571.19,429.05 571.86,428.61 572.54,428.17 573.21,427.75 573.88,427.35 574.55,426.96 575.23,426.58 575.90,426.21 576.57,425.86 577.24,425.52 577.92,425.19 578.59,424.87 579.26,424.57 579.93,424.27 580.61,423.99 581.28,423.71 581.95,423.45 582.62,423.19 583.30,422.94 583.97,422.71 584.64,422.48 585.32,422.26 585.99,422.04 586.66,421.84 587.33,421.64 588.01,421.45 588.68,421.27 589.35,421.09 590.02,420.92 590.70,420.76 591.37,420.60 592.04,420.45 592.71,420.30 593.39,420.16 594.06,420.02 594.73,419.89 595.41,419.77 596.08,419.65 596.75,419.53 597.42,419.42 598.10,419.31 598.77,419.21 599.44,419.11 600.11,419.01 600.79,418.92 601.46,418.83 602.13,418.75 602.80,418.67 603.48,418.59 604.15,418.51 604.82,418.44 605.50,418.37" fill="none" stroke="#ff55ff" stroke-width="1.3"/>
<polyline points="403.70,551.25 404.37,551.22 405.05,551.20 405.72,551.17 406.39,551.14 407.06,551.11 407.74,551.07 408.41,551.04 409.08,551.00 409.75,550.96 410.43,550.92 411.10,550.88 411.77,550.83 412.44,550.78 413.12,550.73 413.79,550.68 414.46,550.62 415.14,550.56 415.81,550.50 416.48,550.44 417.15,550.37 417.83,550.30 418.50,550.22 419.17,550.14 419.84,550.05 420.52,549.96 421.19,549.87 421.86,549.77 422.53,549.67 423.21,549.56 423.88,549.44 424.55,549.32 425.22,549.19 425.90,549.06 426.57,548.92 427.24,548.77 427.92,548.61 428.59,548.45 429.26,548.28 429.93,548.09 430.61,547.90 431.28,547.70 431.95,547.49 432.62,547.27 433.30,547.04 433.97,546.79 434.64,546.54 435.31,546.27 435.99,545.98 436.66,545.69 437.33,545.37 438.01,545.05 438.68,544.70 439.35,544.34 440.02,543.97 440.70,543.57 441.37,543.16 442.04,542.73 442.71,542.27 443.39,541.80 444.06,541.30 444.73,540.78 445.40,540.24 446.08,539.67 446.75,539.08 447.42,538.46 448.09,537.81 448.77,537.14 449.44,536.43 450.11,535.70 450.79,534.94 451.46,534.15 452.13,533.32 452.80,532.46 453.48,531.57 454.15,530.64 454.82,529.68 455.49,528.68 456.17,527.65 456.84,526.58 457.51,525.48 458.18,524.34 458.86,523.16 459.53,521.94 460.20,520.68 460.88,519.39 461.55,518.06 462.22,516.69 462.89,515.29 463.57,513.85 464.24,512.38 464.91,510.87 465.58,509.32 466.26,507.75 466.93,506.14 467.60,504.50 468.27,502.84 468.95,501.14 469.62,499.43 470.29,497.68 470.96,495.92 471.64,494.14 472.31,492.34 472.98,490.52 473.66,488.70 474.33,486.86 475.00,485.02 475.67,483.17 476.35,481.31 477.02,479.46 477.69,477.61 478.36,475.77 479.04,473.93 479.71,472.10 480.38,470.29 481.05,468.49 481.73,466.70 482.40,464.94 483.07,463.20 483.75,461.48 484.42,459.79 485.09,458.12 485.76,456.48 486.44,454.88 487.11,453.30 487.78,451.76 488.45,450.25 489.13,448.77 489.80,447.33 490.47,445.93 491.14,444.56 491.82,443.23 492.49,441.94 493.16,440.69 493.84,439.47 494.51,438.29 495.18,437.15 495.85,436.04 496.53,434.97 497.20,433.94 497.87,432.94 498.54,431.98 499.22,431.06 499.89,430.17 500.56,429.31 501.23,428.48 501.91,427.69 502.58,426.92 503.25,426.19 503.92,425.49 504.60,424.81 505.27,424.17 505.94,423.55 506.62,422.96 507.29,422.39 507.96,421.85 508.63,421.33 509.31,420.83 509.98,420.35 510.65,419.90 511.32,419.47 512.00,419.05 512.67,418.66 513.34,418.28 514.01,417.92 514.69,417.58 515.36,417.25 516.03,416.94 516.71,416.64 517.38,416.36 518.05,416.09 518.72,415.83 519.40,415.59 520.07,415.36 520.74,415.13 521.41,414.92 522.09,414.72 522.76,414.53 523.43,414.35 524.10,414.18 524.78,414.01 525.45,413.86 526.12,413.71 526.79,413.57 527.47,413.43 528.14,413.31 528.81,413.18 529.49,413.07 530.16,412.96 530.83,412.85 531.50,412.76 532.18,412.66 532.85,412.57 533.52,412.49 534.19,412.41 534.87,412.33 535.54,412.26 536.21,412.19 536.88,412.12 537.56,412.06 538.23,412.00 538.90,411.95 539.58,411.89 540.25,411.84 540.92,411.79 541.59,411.75 542.27,411.71 542.94,411.66 543.61,411.63 544.28,411.59 544.96,411.55 545.63,411.52 546.30,411.49 546.97,411.46 547.65,411.43 548.32,411.40 548.99,411.38 549.67,411.35 550.34,411.33 551.01,411.31 551.68,411.29 552.36,411.27 553.03,411.25 553.70,411.23 554.37,411.21 555.05,411.20 555.72,411.18 556.39,411.17 557.06,411.15 557.74,411.14 558.41,411.13 559.08,411.12 559.75,411.11 560.43,411.10 561.10,411.09 561.77,411.08 562.45,411.07 563.12,411.06 563.79,411.05 564.46,411.04 565.14,411.04 565.81,411.03 566.48,411.02 567.15,411.02 567.83,411.01 568.50,411.00 569.17,411.00 569.84,410.99 570.52,410.99 571.19,410.98 571.86,410.98 572.54,410.98 573.21,410.97 573.88,410.97 574.55,410.96 575.23,410.96 575.90,410.96 576.57,410.96 577.24,410.95 577.92,410.95 578.59,410.95 579.26,410.94 579.93,410.94 580.61,410.94 581.28,410.94 581.95,410.94 582.62,410.93 583.30,410.93 583.97,410.93 584.64,410.93 585.32,410.93 585.99,410.93 586.66,410.93 587.33,410.92 588.01,410.92 588.68,410.92 589.35,410.92 590.02,410.92 590.70,410.92 591.37,410.92 592.04,410.92 592.71,410.92 593.39,410.91 594.06,410.91 594.73,410.91 595.41,410.91 596.08,410.91 596.75,410.91 597.42,410.91 598.10,410.91 598.77,410.91 599.44,410.91 600.11,410.91 600.79,410.91 601.46,410.91 602.13,410.91 602.80,410.91 603.48,410.91 604.15,410.91 604.82,410.91 605.50,410.91" fill="none" stroke="#6aacff" stroke-width="1.3"/>
<polyline points="403.70,554.56 404.37,554.56 405.05,554.56 405.72,554.55 406.39,554.55 407.06,554.55 407.74,554.55 408.41,554.55 409.08,554.54 409.75,554.54 410.43,554.54 411.10,554.53 411.77,554.53 412.44,554.53 413.12,554.52 413.79,554.52 414.46,554.52 415.14,554.51 415.81,554.51 416.48,554.50 417.15,554.50 417.83,554.49 418.50,554.49 419.17,554.48 419.84,554.48 420.52,554.47 421.19,554.47 421.86,554.46 422.53,554.45 423.21,554.45 423.88,554.44 424.55,554.43 425.22,554.42 425.90,554.42 426.57,554.41 427.24,554.40 427.92,554.39 428.59,554.38 429.26,554.37 429.93,554.36 430.61,554.34 431.28,554.33 431.95,554.32 432.62,554.31 433.30,554.29 433.97,554.28 434.64,554.26 435.31,554.25 435.99,554.23 436.66,554.21 437.33,554.19 438.01,554.17 438.68,554.15 439.35,554.13 440.02,554.11 440.70,554.09 441.37,554.06 442.04,554.03 442.71,554.01 443.39,553.98 444.06,553.95 444.73,553.92 445.40,553.89 446.08,553.85 446.75,553.82 447.42,553.78 448.09,553.74 448.77,553.70 449.44,553.66 450.11,553.61 450.79,553.57 451.46,553.52 452.13,553.47 452.80,553.41 453.48,553.36 454.15,553.30 454.82,553.24 455.49,553.17 456.17,553.10 456.84,553.03 457.51,552.96 458.18,552.88 458.86,552.80 459.53,552.72 460.20,552.63 460.88,552.53 461.55,552.44 462.22,552.34 462.89,552.23 463.57,552.12 464.24,552.00 464.91,551.88 465.58,551.75 466.26,551.62 466.93,551.48 467.60,551.34 468.27,551.19 468.95,551.03 469.62,550.86 470.29,550.69 470.96,550.51 471.64,550.32 472.31,550.12 472.98,549.91 473.66,549.70 474.33,549.47 475.00,549.24 475.67,548.99 476.35,548.74 477.02,548.47 477.69,548.19 478.36,547.90 479.04,547.60 479.71,547.29 480.38,546.96 481.05,546.62 481.73,546.26 482.40,545.89 483.07,545.50 483.75,545.10 484.42,544.69 485.09,544.25 485.76,543.80 486.44,543.33 487.11,542.84 487.78,542.33 488.45,541.81 489.13,541.26 489.80,540.70 490.47,540.11 491.14,539.50 491.82,538.87 492.49,538.22 493.16,537.54 493.84,536.84 494.51,536.12 495.18,535.37 495.85,534.60 496.53,533.81 497.20,532.99 497.87,532.14 498.54,531.27 499.22,530.37 499.89,529.45 500.56,528.50 501.23,527.53 501.91,526.52 502.58,525.50 503.25,524.45 503.92,523.37 504.60,522.26 505.27,521.14 505.94,519.98 506.62,518.81 507.29,517.61 507.96,516.39 508.63,515.14 509.31,513.88 509.98,512.59 510.65,511.28 511.32,509.96 512.00,508.62 512.67,507.26 513.34,505.89 514.01,504.50 514.69,503.11 515.36,501.70 516.03,500.28 516.71,498.85 517.38,497.42 518.05,495.98 518.72,494.54 519.40,493.10 520.07,491.65 520.74,490.21 521.41,488.77 522.09,487.34 522.76,485.91 523.43,484.49 524.10,483.07 524.78,481.67 525.45,480.28 526.12,478.90 526.79,477.54 527.47,476.19 528.14,474.86 528.81,473.55 529.49,472.25 530.16,470.98 530.83,469.73 531.50,468.50 532.18,467.29 532.85,466.10 533.52,464.94 534.19,463.80 534.87,462.69 535.54,461.60 536.21,460.54 536.88,459.50 537.56,458.49 538.23,457.50 538.90,456.54 539.58,455.61 540.25,454.70 540.92,453.82 541.59,452.97 542.27,452.14 542.94,451.33 543.61,450.55 544.28,449.79 544.96,449.06 545.63,448.35 546.30,447.67 546.97,447.01 547.65,446.37 548.32,445.75 548.99,445.15 549.67,444.58 550.34,444.03 551.01,443.49 551.68,442.98 552.36,442.48 553.03,442.00 553.70,441.55 554.37,441.10 555.05,440.68 555.72,440.27 556.39,439.88 557.06,439.50 557.74,439.14 558.41,438.79 559.08,438.46 559.75,438.14 560.43,437.83 561.10,437.54 561.77,437.26 562.45,436.98 563.12,436.72 563.79,436.48 564.46,436.24 565.14,436.01 565.81,435.79 566.48,435.58 567.15,435.38 567.83,435.19 568.50,435.00 569.17,434.83 569.84,434.66 570.52,434.50 571.19,434.34 571.86,434.19 572.54,434.05 573.21,433.92 573.88,433.79 574.55,433.66 575.23,433.55 575.90,433.43 576.57,433.32 577.24,433.22 577.92,433.12 578.59,433.03 579.26,432.94 579.93,432.85 580.61,432.77 581.28,432.69 581.95,432.61 582.62,432.54 583.30,432.47 583.97,432.41 584.64,432.34 585.32,432.28 585.99,432.23 586.66,432.17 587.33,432.12 588.01,432.07 588.68,432.02 589.35,431.98 590.02,431.93 590.70,431.89 591.37,431.85 592.04,431.81 592.71,431.78 593.39,431.74 594.06,431.71 594.73,431.68 595.41,431.65 596.08,431.62 596.75,431.59 597.42,431.57 598.10,431.54 598.77,431.52 599.44,431.50 600.11,431.47 600.79,431.45 601.46,431.43 602.13,431.41 602.80,431.40 603.48,431.38 604.15,431.36 604.82,431.35 605.50,431.33" fill="none" stroke="#000000" stroke-width="1.3"/>
<path d="M470.96,545.98V554.60M466.66,545.98h8.6M466.66,554.60h8.6" stroke="#ff55ff" stroke-width="1.3" fill="none"/>
<path d="M504.60,528.73V535.92M500.30,528.73h8.6M500.30,535.92h8.6" stroke="#ff55ff" stroke-width="1.3" fill="none"/>
<path d="M538.23,470.39V479.01M533.93,470.39h8.6M533.93,479.01h8.6" stroke="#ff55ff" stroke-width="1.3" fill="none"/>
<path d="M571.86,414.64V429.01M567.56,414.64h8.6M567.56,429.01h8.6" stroke="#ff55ff" stroke-width="1.3" fill="none"/>
<path d="M605.50,410.90V428.14M601.20,410.90h8.6M601.20,428.14h8.6" stroke="#ff55ff" stroke-width="1.3" fill="none"/>
<rect x="399.00" y="549.90" width="9.40" height="9.40" fill="#ff55ff"/>
<rect x="432.63" y="548.46" width="9.40" height="9.40" fill="#ff55ff"/>
<rect x="466.26" y="545.59" width="9.40" height="9.40" fill="#ff55ff"/>
<rect x="499.90" y="527.63" width="9.40" height="9.40" fill="#ff55ff"/>
<rect x="533.53" y="470.00" width="9.40" height="9.40" fill="#ff55ff"/>
<rect x="567.16" y="417.12" width="9.40" height="9.40" fill="#ff55ff"/>
<rect x="600.79" y="414.82" width="9.40" height="9.40" fill="#ff55ff"/>
<path d="M470.96,542.39V554.60M466.66,542.39h8.6" stroke="#f43c41" stroke-width="1.3" fill="none"/>
<path d="M504.60,531.90V554.60M500.30,531.90h8.6" stroke="#f43c41" stroke-width="1.3" fill="none"/>
<path d="M538.23,472.40V504.02M533.93,472.40h8.6M533.93,504.02h8.6" stroke="#f43c41" stroke-width="1.3" fill="none"/>
<path d="M571.86,409.18V423.55M567.56,409.18h8.6M567.56,423.55h8.6" stroke="#f43c41" stroke-width="1.3" fill="none"/>
<path d="M605.50,408.74V423.11M601.20,408.74h8.6M601.20,423.11h8.6" stroke="#f43c41" stroke-width="1.3" fill="none"/>
<rect x="400.00" y="550.90" width="7.40" height="7.40" fill="#f43c41"/>
<rect x="433.63" y="550.90" width="7.40" height="7.40" fill="#f43c41"/>
<rect x="467.26" y="545.15" width="7.40" height="7.40" fill="#f43c41"/>
<rect x="500.90" y="542.57" width="7.40" height="7.40" fill="#f43c41"/>
<rect x="534.53" y="484.51" width="7.40" height="7.40" fill="#f43c41"/>
<rect x="568.16" y="412.66" width="7.40" height="7.40" fill="#f43c41"/>
<rect x="601.79" y="412.23" width="7.40" height="7.40" fill="#f43c41"/>
<path d="M403.70,544.54V554.60M399.40,544.54h8.6M399.40,554.60h8.6" stroke="#6aacff" stroke-width="1.3" fill="none"/>
<path d="M437.33,531.61V554.60M433.03,531.61h8.6" stroke="#6aacff" stroke-width="1.3" fill="none"/>
<path d="M470.96,491.23V504.16M466.66,491.23h8.6M466.66,504.16h8.6" stroke="#6aacff" stroke-width="1.3" fill="none"/>
<path d="M504.60,411.04V439.78M500.30,411.04h8.6M500.30,439.78h8.6" stroke="#6aacff" stroke-width="1.3" fill="none"/>
<path d="M403.70,545.57L407.30,549.57L403.70,553.57L400.10,549.57Z" fill="#6aacff"/>
<path d="M437.33,541.98L440.93,545.98L437.33,549.98L433.73,545.98Z" fill="#6aacff"/>
<path d="M470.96,493.69L474.56,497.69L470.96,501.69L467.36,497.69Z" fill="#6aacff"/>
<path d="M504.60,421.41L508.20,425.41L504.60,429.41L501.00,425.41Z" fill="#6aacff"/>
<path d="M538.23,406.90L541.83,410.90L538.23,414.90L534.63,410.90Z" fill="#6aacff"/>
<path d="M571.86,406.90L575.46,410.90L571.86,414.90L568.26,410.90Z" fill="#6aacff"/>
<path d="M605.50,406.90L609.10,410.90L605.50,414.90L601.89,410.90Z" fill="#6aacff"/>
<path d="M504.60,510.77V525.14M500.30,510.77h8.6M500.30,525.14h8.6" stroke="#000000" stroke-width="1.3" fill="none"/>
<path d="M538.23,454.01V462.63M533.93,454.01h8.6M533.93,462.63h8.6" stroke="#000000" stroke-width="1.3" fill="none"/>
<path d="M571.86,433.60V462.34M567.56,433.60h8.6M567.56,462.34h8.6" stroke="#000000" stroke-width="1.3" fill="none"/>
<circle cx="403.70" cy="554.60" r="4.00" fill="#000000"/>
<circle cx="437.33" cy="551.73" r="4.00" fill="#000000"/>
<circle cx="470.96" cy="548.56" r="4.00" fill="#000000"/>
<circle cx="504.60" cy="517.96" r="4.00" fill="#000000"/>
<circle cx="538.23" cy="458.32" r="4.00" fill="#000000"/>
<circle cx="571.86" cy="447.97" r="4.00" fill="#000000"/>
<circle cx="605.50" cy="423.11" r="4.00" fill="#000000"/>
</g>
<line x1="395" y1="554.60" x2="403.70" y2="554.60" stroke="#000" stroke-width="1.9"/>
<text x="394.2" y="560.20" text-anchor="end" font-size="14" font-weight="bold" textLength="26" lengthAdjust="spacingAndGlyphs">0.00</text>
<line x1="395" y1="518.68" x2="403.70" y2="518.68" stroke="#000" stroke-width="1.9"/>
<text x="394.2" y="524.28" text-anchor="end" font-size="14" font-weight="bold" textLength="26" lengthAdjust="spacingAndGlyphs">0.25</text>
<line x1="395" y1="482.75" x2="403.70" y2="482.75" stroke="#000" stroke-width="1.9"/>
<text x="394.2" y="488.35" text-anchor="end" font-size="14" font-weight="bold" textLength="26" lengthAdjust="spacingAndGlyphs">0.50</text>
<line x1="395" y1="446.83" x2="403.70" y2="446.83" stroke="#000" stroke-width="1.9"/>
<text x="394.2" y="452.43" text-anchor="end" font-size="14" font-weight="bold" textLength="26" lengthAdjust="spacingAndGlyphs">0.75</text>
<line x1="395" y1="410.90" x2="403.70" y2="410.90" stroke="#000" stroke-width="1.9"/>
<text x="394.2" y="416.50" text-anchor="end" font-size="14" font-weight="bold" textLength="26" lengthAdjust="spacingAndGlyphs">1.00</text>
<line x1="395" y1="374.98" x2="403.70" y2="374.98" stroke="#000" stroke-width="1.9"/>
<text x="394.2" y="380.58" text-anchor="end" font-size="14" font-weight="bold" textLength="26" lengthAdjust="spacingAndGlyphs">1.25</text>
<line x1="403.70" y1="554.60" x2="403.70" y2="563.00" stroke="#000" stroke-width="1.9"/>
<text x="403.70" y="577.80" text-anchor="middle" font-size="14.3" font-weight="bold" textLength="15.2" lengthAdjust="spacingAndGlyphs">50</text>
<line x1="470.96" y1="554.60" x2="470.96" y2="563.00" stroke="#000" stroke-width="1.9"/>
<text x="470.96" y="577.80" text-anchor="middle" font-size="14.3" font-weight="bold" textLength="22.4" lengthAdjust="spacingAndGlyphs">100</text>
<line x1="538.23" y1="554.60" x2="538.23" y2="563.00" stroke="#000" stroke-width="1.9"/>
<text x="538.23" y="577.80" text-anchor="middle" font-size="14.3" font-weight="bold" textLength="22.4" lengthAdjust="spacingAndGlyphs">150</text>
<line x1="605.50" y1="554.60" x2="605.50" y2="563.00" stroke="#000" stroke-width="1.9"/>
<text x="605.50" y="577.80" text-anchor="middle" font-size="14.3" font-weight="bold" textLength="22.4" lengthAdjust="spacingAndGlyphs">200</text>
<line x1="672.76" y1="554.60" x2="672.76" y2="563.00" stroke="#000" stroke-width="1.9"/>
<text x="672.76" y="577.80" text-anchor="middle" font-size="14.3" font-weight="bold" textLength="22.4" lengthAdjust="spacingAndGlyphs">250</text>
<text x="442.6" y="600.60" font-size="14" font-weight="bold" textLength="192.8" lengthAdjust="spacingAndGlyphs">Negative pressure (mm Hg)</text>
<text transform="translate(360.4,464.40) rotate(-90)" text-anchor="middle" font-size="14.5" font-weight="bold">I/Imax</text>
<line x1="414" y1="341.20" x2="434.5" y2="341.20" stroke="#000000" stroke-width="1.3"/>
<circle cx="424.30" cy="341.20" r="4.00" fill="#000000"/>
<text x="442" y="345.50" font-size="12" fill="#231f20">Wildtype (136 ± 6 mmHg)</text>
<line x1="414" y1="358.20" x2="434.5" y2="358.20" stroke="#f43c41" stroke-width="1.3"/>
<rect x="420.60" y="354.50" width="7.40" height="7.40" fill="#f43c41"/>
<text x="442" y="362.50" font-size="12" fill="#231f20">E532A (151 ± 3 mmHg)</text>
<line x1="414" y1="375.60" x2="434.5" y2="375.60" stroke="#6aacff" stroke-width="1.3"/>
<path d="M424.30,371.60L427.90,375.60L424.30,379.60L420.70,375.60Z" fill="#6aacff"/>
<text x="442" y="379.90" font-size="12" fill="#231f20">K537A (104 ± 4 mmHg)</text>
<line x1="414" y1="395.40" x2="434.5" y2="395.40" stroke="#ff55ff" stroke-width="1.3"/>
<rect x="419.60" y="390.70" width="9.40" height="9.40" fill="#ff55ff"/>
<text x="442" y="399.70" font-size="12" fill="#231f20">P538A (145 ± 5 mmHg)</text>
</g>
</svg>
</body></html>
